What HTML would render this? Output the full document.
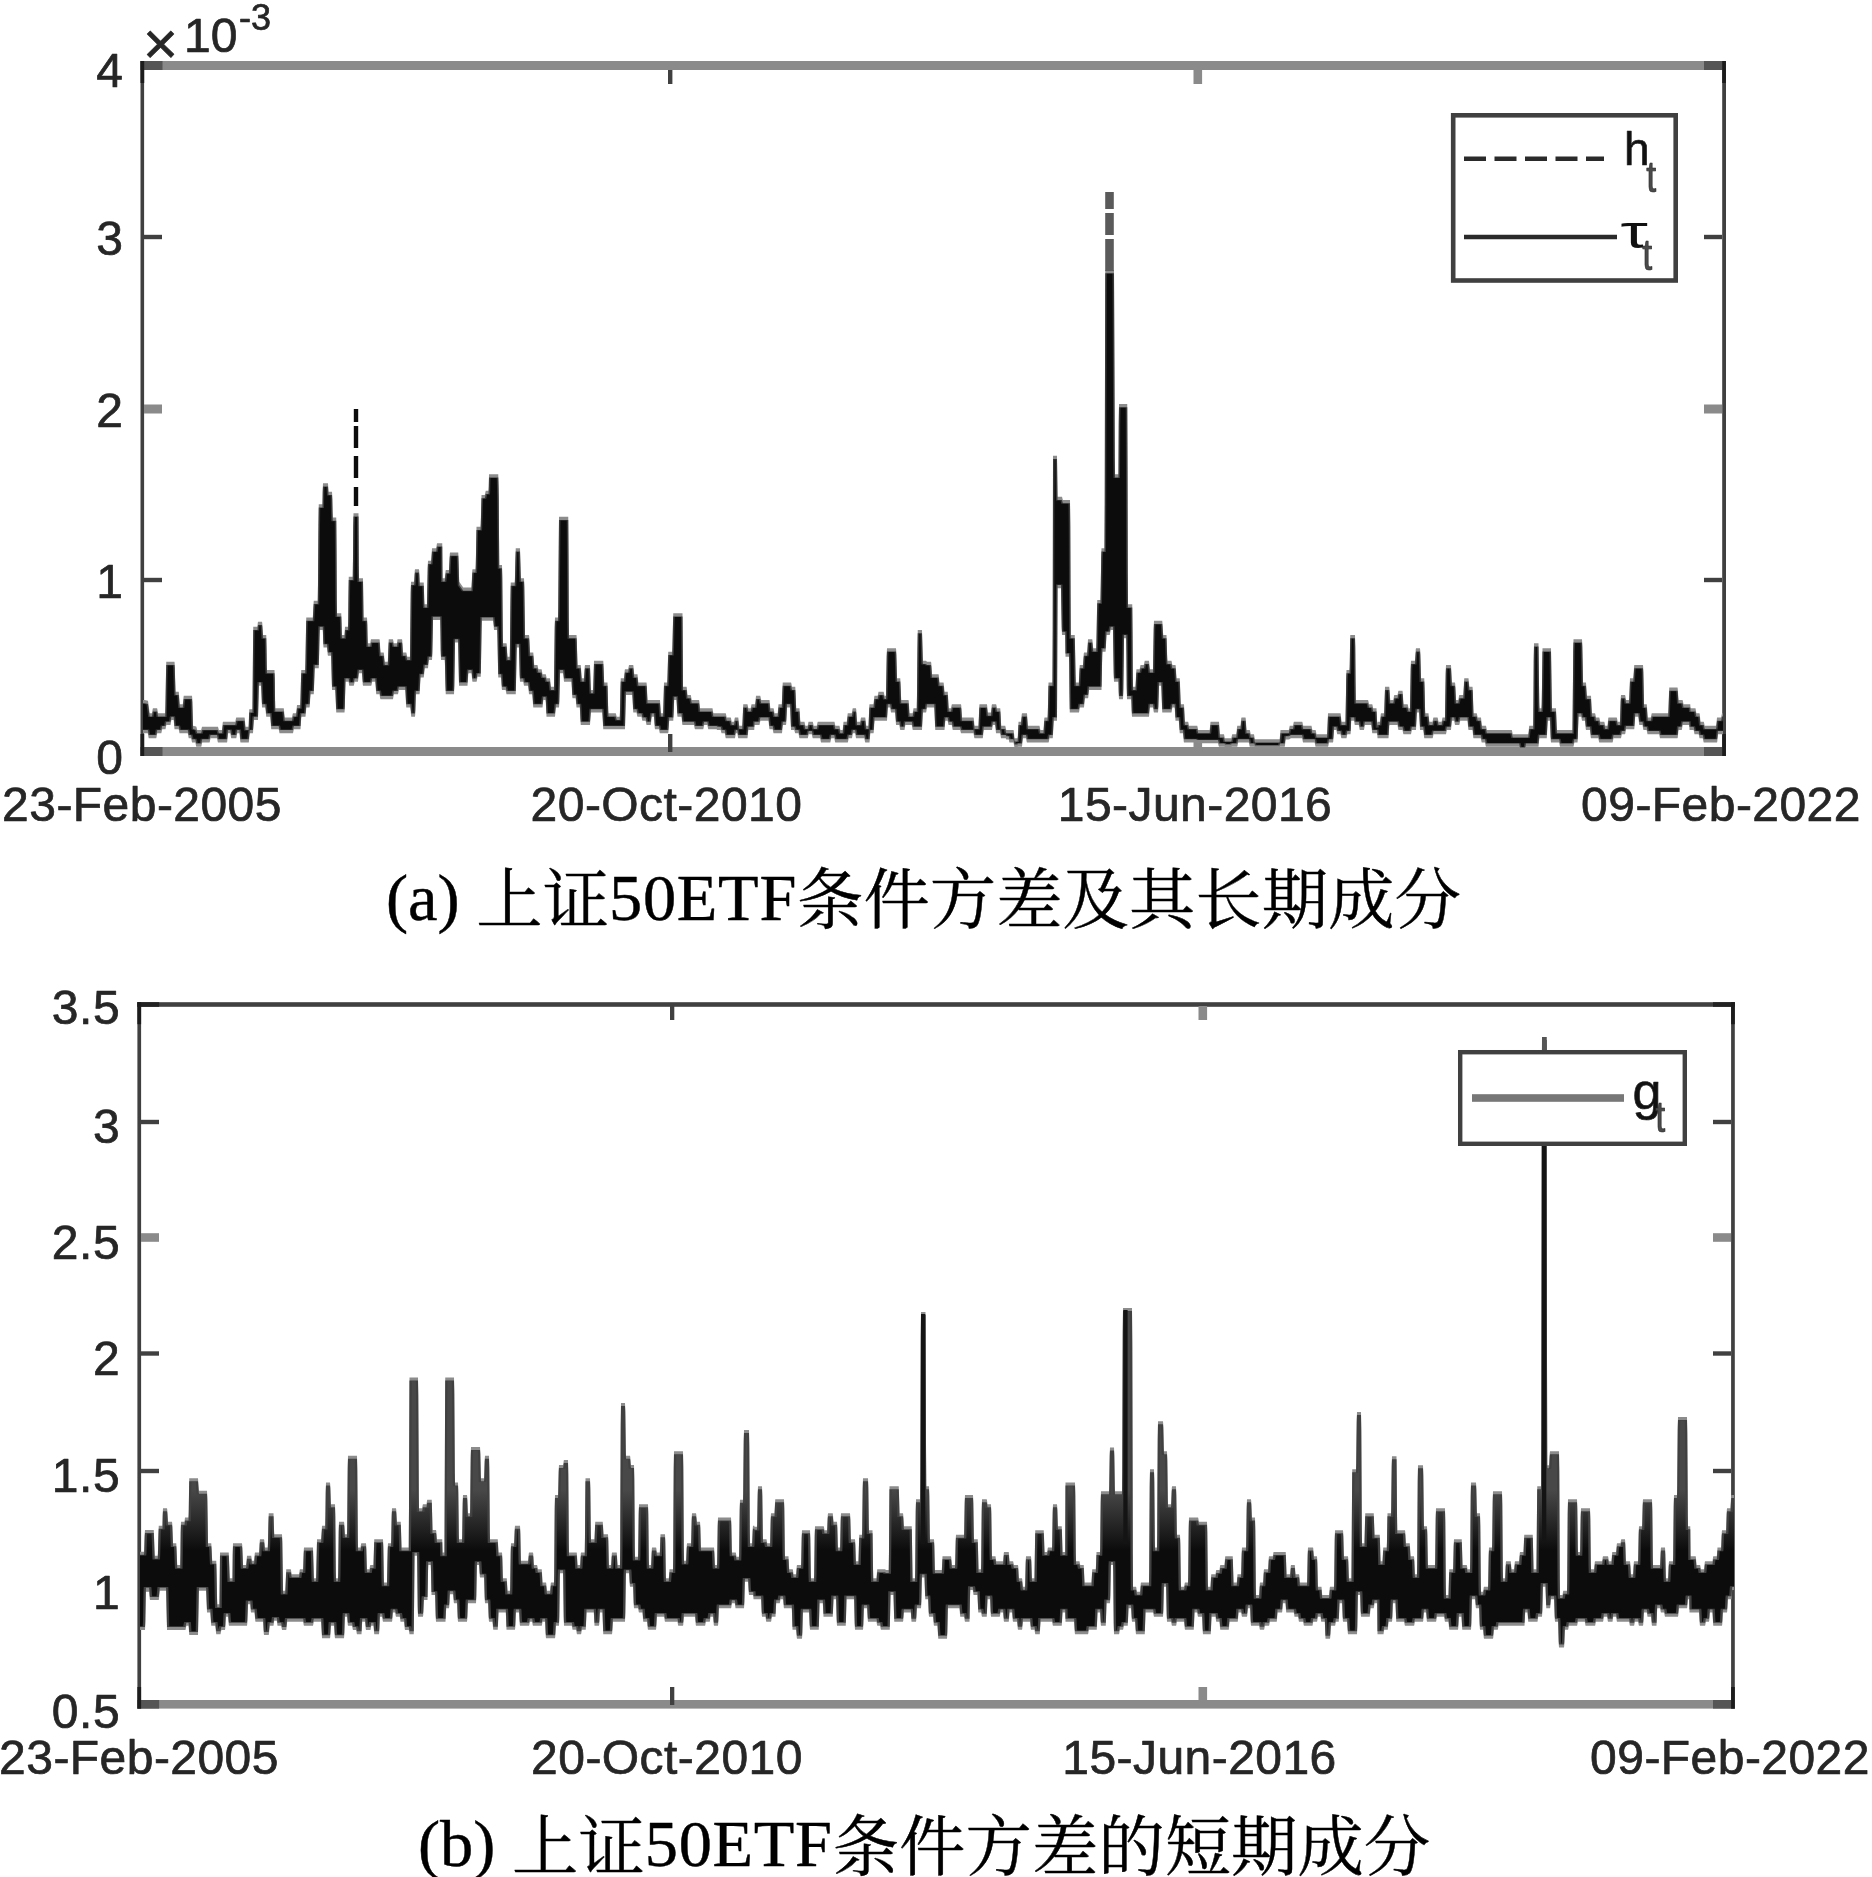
<!DOCTYPE html>
<html lang="zh"><head><meta charset="utf-8"><title>Figure</title>
<style>html,body{margin:0;padding:0;background:#fff}svg{display:block;will-change:transform}</style></head>
<body>
<svg width="1872" height="1877" viewBox="0 0 1872 1877">
<rect width="1872" height="1877" fill="#fff"/>
<g id="c1">
<rect x="140.5" y="61" width="1585.5" height="9" fill="#8a8a8a"/>
<rect x="140.5" y="747" width="1585.5" height="9" fill="#8a8a8a"/>
<rect x="140.5" y="61" width="3.6" height="695" fill="#404040"/>
<rect x="1722.2" y="61" width="3.8" height="695" fill="#404040"/>
<rect x="140.5" y="61" width="22" height="9" fill="#555"/>
<rect x="140.5" y="747" width="22" height="9" fill="#555"/>
<rect x="1704" y="61" width="22" height="9" fill="#555"/>
<rect x="1704" y="747" width="22" height="9" fill="#555"/>
<rect x="140.5" y="61" width="3.7" height="22" fill="#1c1c1c"/>
<rect x="140.5" y="734" width="3.7" height="22" fill="#1c1c1c"/>
<rect x="1722.2" y="61" width="3.7" height="22" fill="#1c1c1c"/>
<rect x="1722.2" y="734" width="3.7" height="22" fill="#1c1c1c"/>
<rect x="144" y="234.8" width="18" height="4.4" fill="#404040"/>
<rect x="1704" y="234.8" width="18" height="4.4" fill="#404040"/>
<rect x="144" y="404.5" width="18" height="9" fill="#8a8a8a"/>
<rect x="1704" y="404.5" width="18" height="9" fill="#8a8a8a"/>
<rect x="144" y="577.8" width="18" height="4.4" fill="#404040"/>
<rect x="1704" y="577.8" width="18" height="4.4" fill="#404040"/>
<rect x="668" y="734" width="4.4" height="18" fill="#404040"/>
<rect x="668" y="70" width="4.4" height="14" fill="#404040"/>
<rect x="1193.5" y="738" width="8.6" height="14" fill="#8a8a8a"/>
<rect x="1193.5" y="70" width="8.6" height="14" fill="#8a8a8a"/>
<polygon fill="#8c8c8c" points="143,700.0 144.50,700.0 144.75,700.0 148,700.8 149.50,712.1 149.75,713.3 152,713.3 152.75,708.8 153,708.3 157,708.3 157.25,708.8 158,713.3 165.25,713.3 165.50,703.0 166,672.0 166.25,661.7 174.50,661.7 174.75,664.7 175.50,691.7 178.75,691.7 179,694.2 179.50,701.7 179.75,704.2 182.75,704.2 183,702.5 183.50,697.5 183.75,695.8 192,695.8 192.25,698.8 193,725.8 196.25,726.6 196.50,727.3 197,729.3 197.25,730.0 201,730.0 201.25,729.7 202,726.7 218,726.7 218.75,729.7 219,730.0 222,730.0 222.75,722.5 223,721.7 235.25,721.7 235.50,720.8 236,718.3 236.25,717.5 244.50,717.5 244.75,718.4 245.50,726.7 248.50,726.7 248.75,723.8 249,715.0 249.25,709.2 252.50,709.2 253,647.3 253.25,626.7 257.50,626.7 257.75,622.9 258,621.7 262,621.7 262.25,623.0 263,635.0 266.25,635.0 266.50,646.7 266.75,664.2 267,670.0 274.50,670.0 274.75,676.4 275,695.6 275.25,708.3 283.75,708.3 284,710.2 284.50,715.7 284.75,717.5 292,717.5 292.75,713.8 293,713.3 296,713.3 296.25,712.5 297,705.0 300.25,705.0 300.50,698.0 301,677.0 301.25,670.0 305.25,670.0 305.50,659.5 306,628.0 306.25,617.5 312.75,617.5 313,614.2 313.50,604.2 313.75,600.8 317.75,600.8 318,581.5 318.50,523.5 318.75,504.2 322.50,504.2 322.75,488.5 323,483.3 328,483.3 328.50,491.7 332,491.7 332.25,496.0 332.50,508.9 332.75,517.5 336.25,517.5 336.50,549.4 336.75,597.4 337,613.3 341.25,613.3 341.50,620.6 341.75,631.4 342,635.0 344.50,635.0 345,626.7 348,626.7 348.25,618.3 348.50,593.3 348.75,576.7 352.75,576.7 353,555.6 353.25,523.9 353.50,513.3 358.50,513.3 358.75,562.1 359,578.3 363,578.3 363.50,617.5 367,617.5 367.25,621.8 367.50,634.7 367.75,643.3 370.25,643.3 370.50,641.9 370.75,639.9 371,639.2 379.50,639.2 379.75,640.5 380.50,652.5 383.75,652.5 384,654.3 384.50,659.8 384.75,661.7 387.75,661.7 388,657.2 388.50,643.7 388.75,639.2 393,639.2 393.75,642.9 394,643.3 397,643.3 397.50,639.2 402,639.2 402.25,640.5 403,652.5 406.25,652.5 406.50,653.3 407,655.8 407.25,656.7 410,656.7 410.75,589.2 411,581.7 414,581.7 414.25,580.1 414.75,570.7 415,569.2 419,569.2 419.25,571.4 419.50,578.1 419.75,582.5 423.75,582.5 424,589.7 424.25,600.6 424.50,604.2 427,604.2 427.75,565.2 428,560.8 431,560.8 431.25,559.6 432,548.3 436,548.3 436.25,547.8 437,543.3 442.25,543.3 442.50,578.3 444.75,578.3 445,576.7 445.50,571.7 445.75,570.0 449,570.0 449.75,554.2 450,552.5 458.25,552.5 458.50,558.3 459,575.8 459.25,581.8 463.25,587.4 463.50,587.5 471.50,587.5 472.25,571.0 472.50,569.2 475.50,569.2 475.75,564.9 476.50,526.7 480.50,526.7 480.75,523.5 481.50,495.0 484.75,495.0 485,494.2 485.50,491.7 485.75,490.8 488.50,490.8 488.75,486.7 489,474.2 498.25,474.2 498.50,482.8 498.75,495.7 499,532.5 499.25,565.0 502,565.0 502.25,574.8 502.75,633.5 503,643.3 506.50,643.3 506.75,644.7 507.50,656.7 509.75,656.7 510,641.8 510.50,597.3 510.75,582.5 514.75,582.5 515,575.7 515.50,555.2 515.75,548.3 520,548.3 520.75,575.3 521,578.3 524,578.3 524.25,584.0 525,635.0 529,635.0 529.25,636.8 530,652.5 533.25,652.5 533.50,655.0 534,662.5 534.25,665.0 537.50,665.0 538.25,668.7 538.50,669.2 541.50,669.2 541.75,669.7 542.50,674.2 545.75,674.2 546,675.0 546.50,677.5 546.75,678.3 550,678.3 550.75,685.8 551,686.7 554,686.7 554.75,624.4 555,617.5 558,617.5 558.25,607.4 559,516.7 568.25,516.7 568.50,556.1 568.75,615.3 569,635.0 576.50,635.0 576.75,638.0 577.50,665.0 580.75,665.0 581,667.7 581.50,675.7 581.75,678.3 584,678.3 584.75,666.3 585,665.0 590,665.0 590.75,687.5 591,690.0 593,690.0 593.25,687.1 594,660.8 603.25,660.8 603.50,665.2 604,678.2 604.25,682.5 607.50,682.5 608.25,710.2 608.50,713.3 615.75,713.3 616,714.0 616.50,716.0 616.75,716.7 619.75,716.7 620,709.0 620.50,686.0 620.75,678.3 624,678.3 624.75,670.1 625,669.2 628,669.2 628.25,668.7 629,665.0 633.25,665.0 633.50,666.8 634,672.3 634.25,674.2 637.50,674.2 638.25,681.7 638.50,682.5 646.50,682.5 646.75,684.3 647.50,700.0 660,700.0 660.75,712.0 661,713.3 663,713.3 663.25,710.2 664,682.5 667.25,682.5 667.50,676.3 668,657.8 668.25,651.7 672.25,651.7 672.50,644.0 673,621.0 673.25,613.3 682.50,613.3 683,686.7 686.50,686.7 686.75,687.5 687.50,695.0 690.75,695.0 691,696.0 691.50,699.0 691.75,700.0 699,700.0 699.25,700.8 700,708.3 712.50,708.3 713.25,712.8 713.50,713.3 725.75,713.3 726,714.2 726.50,716.7 726.75,717.5 730.75,717.5 731,718.3 731.50,720.8 731.75,721.7 734,721.7 734.75,717.9 735,717.5 738.25,717.5 738.50,719.2 739,724.2 739.25,725.8 742.25,725.8 742.50,721.5 743,708.5 743.25,704.2 747.50,704.2 748.25,707.9 748.50,708.3 750.50,708.3 750.75,707.9 751.50,704.2 755,704.2 755.25,703.3 756,695.8 760.25,695.8 760.50,696.7 761,699.2 761.25,700.0 769.50,700.0 770.25,707.5 770.50,708.3 773.50,708.3 773.75,708.8 774.50,713.3 777.50,713.3 777.75,712.4 778.50,704.2 781.75,704.2 782,699.8 782.50,686.8 782.75,682.5 791,682.5 791.25,682.9 792,686.7 795.25,686.7 795.50,691.0 796,704.0 796.25,708.3 799.50,708.3 800.25,720.3 800.50,721.7 804.50,721.7 805.25,725.4 805.50,725.8 807.50,725.8 807.75,725.4 808.50,721.7 812.75,721.7 813,722.5 813.50,725.0 813.75,725.8 816.75,725.8 817,725.0 817.50,722.5 817.75,721.7 834.50,721.7 835.25,725.4 835.50,725.8 839.50,725.8 840.25,729.6 840.50,730.0 842.50,730.0 842.75,729.2 843.50,721.7 846.75,721.7 847,720.0 847.50,715.0 847.75,713.3 851.75,713.3 852,712.3 852.50,709.3 852.75,708.3 856,708.3 856.25,709.7 857,721.7 860,721.7 860.25,721.2 861,717.5 865.25,717.5 865.50,719.2 866,724.2 866.25,725.8 868.50,725.8 869.25,706.3 869.50,704.2 873.50,704.2 874.25,696.7 874.50,695.8 877.50,695.8 877.75,695.4 878.50,691.7 883.50,691.7 883.75,692.1 884.50,695.8 886,695.8 886.75,653.1 887,648.3 896,648.3 896.25,651.3 897,678.3 900.25,678.3 900.50,682.7 901,695.7 901.25,700.0 908.50,700.0 908.75,701.3 909.50,713.3 912.50,713.3 912.75,712.8 913.50,708.3 916.75,708.3 917,692.7 917.50,645.7 917.75,630.0 922,630.0 922.75,657.7 923,660.8 926,660.8 926.25,660.9 927,661.7 931,661.7 931.25,662.9 932,674.2 938.50,674.2 938.75,675.0 939.50,682.5 943.50,682.5 943.75,683.4 944.50,691.7 947.75,691.7 948,695.0 948.50,705.0 948.75,708.3 951,708.3 951.75,704.6 952,704.2 961,704.2 961.25,705.5 962,717.5 973.50,717.5 973.75,718.3 974.50,725.8 978.50,725.8 979.25,706.3 979.50,704.2 987,704.2 987.75,711.7 988,712.5 991,712.5 991.75,705.0 992,704.2 996,704.2 996.25,704.6 997,708.3 1000.25,708.3 1000.50,711.8 1001,722.3 1001.25,725.8 1005.25,725.8 1005.50,726.7 1006,729.2 1006.25,730.0 1013.50,730.0 1013.75,730.8 1014.50,738.3 1017.50,738.3 1017.75,736.7 1018.50,721.7 1021,721.7 1021.75,714.2 1022,713.3 1027,713.3 1027.75,724.6 1028,725.8 1039.50,725.8 1040.25,729.6 1040.50,730.0 1043.50,730.0 1044.25,718.7 1044.50,717.5 1047.50,717.5 1047.75,714.0 1048.50,682.5 1052.50,682.5 1052.75,625.8 1053,455.8 1057,455.8 1057.50,496.7 1062,496.7 1062.75,499.7 1063,500.0 1070,500.0 1070.25,522.5 1070.50,590.0 1070.75,635.0 1074.75,635.0 1075,644.5 1075.50,673.0 1075.75,682.5 1078.75,682.5 1079,679.0 1079.50,668.5 1079.75,665.0 1083,665.0 1083.75,653.7 1084,652.5 1087,652.5 1087.25,651.2 1088,639.2 1092.25,639.2 1092.50,641.0 1093,646.5 1093.25,648.3 1096.25,648.3 1096.50,638.7 1097,609.7 1097.25,600.0 1100.50,600.0 1101.25,553.5 1101.50,548.3 1104.50,548.3 1104.75,501.9 1105,362.8 1105.25,270.0 1114,270.0 1114.75,453.8 1115,474.2 1118.50,474.2 1118.75,421.5 1119,404.0 1127.25,404.0 1127.50,470.7 1127.75,570.8 1128,604.2 1132.25,604.2 1132.50,631.7 1132.75,672.9 1133,686.7 1135.50,686.7 1136.25,670.9 1136.50,669.2 1139.50,669.2 1139.75,668.8 1140.50,665.0 1143.75,665.0 1144,664.2 1144.50,661.7 1144.75,660.8 1149,660.8 1149.75,668.3 1150,669.2 1153,669.2 1153.75,625.7 1154,620.8 1162.25,620.8 1162.50,623.7 1163,632.2 1163.25,635.0 1166.50,635.0 1167.25,658.3 1167.50,660.8 1171.50,660.8 1172.25,664.6 1172.50,665.0 1175.50,665.0 1175.75,666.3 1176.50,678.3 1179.75,678.3 1180,683.5 1180.50,699.0 1180.75,704.2 1184,704.2 1184.75,719.9 1185,721.7 1188,721.7 1188.25,722.1 1189,725.8 1197.25,725.8 1197.50,726.7 1198,729.2 1198.25,730.0 1209.50,730.0 1209.75,729.2 1210.50,721.7 1219,721.7 1219.75,732.9 1220,734.2 1224,734.2 1224.75,737.9 1225,738.3 1231.25,738.3 1231.50,737.5 1232,735.0 1232.25,734.2 1236.25,734.2 1236.50,732.5 1237,727.5 1237.25,725.8 1240.50,725.8 1241.25,718.3 1241.50,717.5 1245.50,717.5 1245.75,718.7 1246.50,730.0 1249.75,730.0 1250,730.8 1250.50,733.3 1250.75,734.2 1254,734.2 1254.75,738.7 1255,739.2 1279.50,739.2 1279.75,738.3 1280.50,730.0 1288.75,730.0 1289,729.2 1289.50,726.7 1289.75,725.8 1293,725.8 1293.75,722.1 1294,721.7 1302.25,721.7 1302.50,722.5 1303,725.0 1303.25,725.8 1311.50,725.8 1312.25,729.6 1312.50,730.0 1315.50,730.0 1315.75,730.4 1316.50,734.2 1327,734.2 1327.25,732.1 1328,713.3 1340.50,713.3 1340.75,714.2 1341.50,721.7 1345.50,721.7 1346.25,675.2 1346.50,670.0 1349.50,670.0 1349.75,664.2 1350,646.7 1350.25,635.0 1355,635.0 1355.25,645.8 1355.50,678.3 1355.75,700.0 1368,700.0 1368.25,700.4 1369,704.2 1372.25,704.2 1372.50,705.0 1373,707.5 1373.25,708.3 1376.50,708.3 1377.25,724.1 1377.50,721.7 1380,721.7 1380.75,714.2 1381,713.3 1384,713.3 1384.25,710.7 1385,686.7 1389.25,686.7 1389.50,689.3 1390,697.3 1390.25,700.0 1393.25,700.0 1393.50,699.0 1394,696.0 1394.25,695.0 1397.50,695.0 1398.25,691.2 1398.50,690.8 1402.50,690.8 1402.75,692.2 1403.50,704.2 1407.50,704.2 1407.75,704.6 1408.50,708.3 1410,708.3 1410.75,665.6 1411,660.8 1415,660.8 1415.75,649.6 1416,648.3 1420,648.3 1420.25,651.3 1421,678.3 1424.25,678.3 1424.50,685.3 1425,706.3 1425.25,713.3 1428.50,713.3 1429.25,720.8 1429.50,721.7 1432.50,721.7 1433.25,717.9 1433.50,717.5 1437.50,717.5 1437.75,717.9 1438.50,721.7 1441.50,721.7 1441.75,721.3 1442.50,717.5 1445,717.5 1445.75,670.2 1446,665.0 1451,665.0 1451.75,680.8 1452,682.5 1455,682.5 1455.25,684.2 1456,700.0 1458.25,700.0 1458.50,699.0 1459,696.0 1459.25,695.0 1463.25,695.0 1463.50,691.7 1464,681.7 1464.25,678.3 1468.50,678.3 1469.25,685.8 1469.50,686.7 1472.50,686.7 1472.75,689.3 1473.50,713.3 1476.75,713.3 1477,714.2 1477.50,716.7 1477.75,717.5 1481,717.5 1481.75,725.0 1482,725.8 1486,725.8 1486.75,729.6 1487,730.0 1511.75,730.0 1512,730.8 1512.50,733.3 1512.75,734.2 1528.25,734.2 1528.50,732.5 1529,727.5 1529.25,725.8 1533.25,725.8 1533.50,698.3 1533.75,657.1 1534,643.3 1538.50,643.3 1539.25,701.8 1539.50,708.3 1541.50,708.3 1541.75,702.3 1542.50,648.3 1551,648.3 1551.75,702.3 1552,708.3 1556,708.3 1556.75,727.8 1557,730.0 1572.50,730.0 1573.25,648.2 1573.50,639.2 1582,639.2 1582.25,643.5 1583,682.5 1586,682.5 1586.75,694.5 1587,695.8 1591,695.8 1591.75,711.6 1592,713.3 1595,713.3 1595.25,713.7 1596,717.5 1599.25,717.5 1599.50,718.3 1600,720.8 1600.25,721.7 1604.25,721.7 1604.50,722.5 1605,725.0 1605.25,725.8 1607.50,725.8 1608.25,718.3 1608.50,717.5 1616.75,717.5 1617,718.3 1617.50,720.8 1617.75,721.7 1620,721.7 1620.75,697.7 1621,695.0 1625,695.0 1625.25,695.5 1626,700.0 1629,700.0 1629.25,697.8 1630,678.3 1633.25,678.3 1633.50,675.7 1634,667.7 1634.25,665.0 1643,665.0 1643.25,668.9 1644,704.2 1646.75,704.2 1647,706.8 1647.50,714.8 1647.75,717.5 1650.75,717.5 1651,716.7 1651.50,714.2 1651.75,713.3 1668.25,713.3 1668.50,708.2 1669,692.7 1669.25,687.5 1677.50,687.5 1677.75,688.7 1678.50,700.0 1682.50,700.0 1682.75,700.4 1683.50,704.2 1690.25,704.2 1690.50,708.3 1695.50,708.3 1696.25,712.8 1696.50,713.3 1699.50,713.3 1699.75,714.2 1700.50,721.7 1703.75,721.7 1704,722.5 1704.50,725.0 1704.75,725.8 1716,725.8 1716.25,725.0 1717,717.5 1721,717.5 1721.25,717.1 1722,713.3 1723,713.3 1723,734.2 1718,734.2 1717.25,741.7 1717,742.5 1703.75,742.5 1703.50,741.7 1703,739.2 1702.75,738.3 1699.50,738.3 1698.75,734.6 1698.50,734.2 1694.50,734.2 1693.75,730.4 1693.50,730.0 1689.50,730.0 1689.25,725.0 1682.75,725.0 1682.50,726.0 1682,729.0 1681.75,730.0 1678.50,730.0 1677.75,737.5 1677.50,738.3 1660,738.3 1659.25,734.6 1659,734.2 1647.50,734.2 1646.75,730.4 1646.50,730.0 1643.50,730.0 1643.25,729.5 1642.50,725.0 1639.25,725.0 1639,723.3 1638.50,718.3 1638.25,716.7 1635.25,716.7 1635,719.2 1634.50,726.7 1634.25,729.2 1626,729.2 1625.25,733.7 1625,734.2 1622,734.2 1621.75,734.6 1621,738.3 1613.50,738.3 1612.75,742.1 1612.50,742.5 1599.25,742.5 1599,741.7 1598.50,739.2 1598.25,738.3 1591,738.3 1590.75,737.5 1590,730.0 1586,730.0 1585.75,729.1 1585,720.8 1582,720.8 1581.25,717.1 1581,716.7 1578.50,716.7 1577.75,739.9 1577.50,742.5 1574.50,742.5 1574.25,742.9 1573.50,746.7 1560,746.7 1559.25,742.9 1559,742.5 1551,742.5 1550.75,740.3 1550,720.8 1547.75,720.8 1547.50,724.3 1547,734.8 1546.75,738.3 1539.50,738.3 1539.25,739.2 1538.50,746.7 1526,746.7 1525.25,750.4 1525,750.8 1520,750.8 1519.25,747.1 1519,746.7 1486,746.7 1485.75,746.3 1485,742.5 1481.75,742.5 1481.50,741.7 1481,739.2 1480.75,738.3 1473.50,738.3 1473.25,737.5 1472.50,730.0 1468.50,730.0 1468.25,729.1 1467.50,720.8 1460.25,720.8 1460,721.7 1459.50,724.2 1459.25,725.0 1455,725.0 1454.25,721.2 1454,720.8 1452,720.8 1451.75,721.7 1451,730.0 1447,730.0 1446.75,730.4 1446,734.2 1433.50,734.2 1432.75,737.9 1432.50,738.3 1424.25,738.3 1424,736.7 1423.50,731.7 1423.25,730.0 1420,730.0 1419.25,714.2 1419,712.5 1417,712.5 1416.75,714.2 1416,730.0 1412,730.0 1411.75,730.4 1411,734.2 1403.50,734.2 1403.25,733.8 1402.50,730.0 1398.50,730.0 1398.25,729.5 1397.50,725.0 1389.50,725.0 1389.25,726.3 1388.50,738.3 1377.50,738.3 1377.25,733.6 1377,733.3 1372.25,733.3 1372,731.7 1371.50,726.7 1371.25,725.0 1365,725.0 1364.75,725.5 1364,730.0 1359.75,730.0 1359.50,729.0 1359,726.0 1358.75,725.0 1354.75,725.0 1354.50,723.6 1354.25,721.5 1354,720.8 1351.25,720.8 1351,725.3 1350.75,731.9 1350.50,734.2 1347.50,734.2 1347.25,734.6 1346.50,738.3 1341.50,738.3 1341.25,737.9 1340.50,734.2 1337.25,734.2 1337,733.3 1336.50,730.8 1336.25,730.0 1334,730.0 1333.25,741.3 1333,742.5 1329,742.5 1328.25,746.3 1328,746.7 1315.50,746.7 1314.75,742.9 1314.50,742.5 1303,742.5 1302.25,738.7 1302,738.3 1290.75,738.3 1290.50,738.5 1290,739.0 1289.75,739.2 1289,739.2 1288.75,739.5 1285.75,739.5 1285.50,740.7 1285,745.2 1284.75,746.7 1280,746.7 1279.75,747.8 1279.50,748.7 1255,748.7 1254.75,748.2 1254.50,746.7 1249.75,746.7 1249.50,745.8 1249,743.3 1248.75,742.5 1238.25,742.5 1238,743.3 1237.50,745.8 1237.25,746.7 1231.75,746.7 1231.50,747.0 1231.25,747.8 1225,747.8 1224.75,747.4 1224.50,746.7 1219,746.7 1218.75,746.3 1218,743.3 1197.25,743.3 1197,743.2 1196.50,742.7 1196.25,742.5 1184,742.5 1183.75,741.6 1183,733.3 1179.75,733.3 1179.50,730.8 1179,723.3 1178.75,720.8 1175.50,720.8 1174.75,708.8 1174.50,707.5 1172.50,707.5 1172.25,708.0 1171.50,712.5 1162.25,712.5 1162,707.2 1161.50,691.2 1161.25,685.8 1159,685.8 1158.25,709.8 1158,712.5 1154,712.5 1153.75,712.0 1153,707.5 1150,707.5 1149.75,708.4 1149,716.7 1132,716.7 1131.75,713.8 1131.50,705.0 1131.25,699.2 1127,699.2 1126.75,689.0 1126.50,658.6 1126.25,638.3 1124,638.3 1123.25,693.1 1123,699.2 1119,699.2 1118.75,694.8 1118.50,681.7 1114,681.7 1113.75,676.5 1113,630.0 1110.75,630.0 1110.50,631.0 1110,634.0 1109.75,635.0 1106.50,635.0 1105.75,650.0 1105.50,651.7 1102.50,651.7 1102.25,655.5 1101.50,690.0 1089,690.0 1088.25,697.5 1088,698.3 1085,698.3 1084.75,699.2 1084,707.5 1080,707.5 1079.75,708.0 1079,712.5 1069.75,712.5 1069.50,693.9 1069.25,666.0 1069,656.7 1065.50,656.7 1065.25,635.0 1062,635.0 1061.75,630.3 1061,588.3 1057.50,588.3 1057,720.8 1053.75,720.8 1053.50,724.3 1053,734.8 1052.75,738.3 1049.50,738.3 1048.75,742.1 1048.50,742.5 1027,742.5 1026.75,742.1 1026,738.3 1023,738.3 1022.75,739.2 1022,746.7 1017.75,746.7 1017.50,747.8 1014.50,747.8 1014.25,746.3 1013.50,742.5 1009.50,742.5 1009.25,742.1 1008.75,739.6 1008.50,739.5 1006.25,739.5 1006,738.7 1005.75,738.3 1001,738.3 1000.25,733.8 1000,733.3 996,733.3 995.25,725.8 995,725.0 993,725.0 992.75,725.5 992,730.0 983.75,730.0 983.50,731.7 983,736.7 982.75,738.3 974.50,738.3 974.25,737.8 973.50,733.3 961,733.3 960.25,730.3 960,730.0 952.75,730.0 952.50,729.0 952,726.0 951.75,725.0 948.50,725.0 947.75,721.3 947.50,720.8 945.50,720.8 945.25,721.8 944.50,730.0 935.25,730.0 935,725.5 934.50,712.0 934.25,707.5 927,707.5 926.25,712.0 926,712.5 923,712.5 922.75,714.3 922,730.0 912.75,730.0 912.50,729.0 912,726.0 911.75,725.0 905.50,725.0 905.25,725.5 904.50,730.0 900.25,730.0 900,729.0 899.50,726.0 899.25,725.0 896,725.0 895.25,713.8 895,712.5 891,712.5 890.25,708.0 890,707.5 888,707.5 887.75,708.8 887,720.8 874.50,720.8 873.75,732.1 873.50,733.3 870.50,733.3 870.25,734.3 869.50,742.5 865.25,742.5 865,741.7 864.50,739.2 864.25,738.3 856,738.3 855.25,733.8 855,733.3 853,733.3 852.75,733.8 852,738.3 848.75,738.3 848.50,739.2 848,741.7 847.75,742.5 835.25,742.5 835,741.7 834.50,739.2 834.25,738.3 831.25,738.3 831,739.2 830.50,741.7 830.25,742.5 821,742.5 820.25,738.8 820,738.3 812.75,738.3 812.50,737.5 812,735.0 811.75,734.2 808.75,734.2 808.50,735.0 808,737.5 807.75,738.3 799.50,738.3 799.25,737.8 798.50,733.3 795.25,733.3 795,732.7 794.50,730.7 794.25,730.0 791,730.0 790.25,709.8 790,707.5 787,707.5 786.25,723.2 786,725.0 783,725.0 782.75,725.8 782,733.3 773.50,733.3 772.75,729.6 772.50,729.2 769.50,729.2 769.25,728.3 768.50,720.8 760.50,720.8 760.25,721.3 759.50,725.0 754.50,725.0 754.25,730.0 748.50,730.0 748.25,730.8 747.50,738.3 738.25,738.3 738,737.3 737.50,734.3 737.25,733.3 736,733.3 735.75,733.8 735,738.3 725.75,738.3 725.50,737.3 725,734.3 724.75,733.3 721.50,733.3 720.75,730.3 720.50,730.0 717.50,730.0 717.25,729.9 716.50,729.2 708.25,729.2 708,728.3 707.50,725.8 707.25,725.0 704.25,725.0 704,725.8 703.50,728.3 703.25,729.2 695,729.2 694.75,728.7 694,725.0 682.50,725.0 682.25,724.2 681.50,716.7 677.50,716.7 677.25,715.0 676.50,700.0 674.25,700.0 674,704.2 673.50,716.7 673.25,720.8 669.25,720.8 669,723.3 668.50,730.8 668.25,733.3 660,733.3 659.75,732.9 659,729.2 655,729.2 654.75,727.9 654,716.7 651.75,716.7 651.50,718.3 651,723.3 650.75,725.0 646.50,725.0 645.75,721.3 645.50,720.8 642.50,720.8 642.25,720.4 641.50,716.7 637.50,716.7 637.25,716.2 636.50,712.5 633.25,712.5 633,709.0 632.50,698.5 632.25,695.0 626,695.0 625.75,698.4 625,729.2 603.25,729.2 603,725.8 602.50,715.8 602.25,712.5 591,712.5 590.75,713.8 590,725.0 580.75,725.0 580.50,721.5 580,711.0 579.75,707.5 576.50,707.5 575.75,699.3 575.50,698.3 572.50,698.3 572.25,696.7 571.50,681.7 564,681.7 563.25,674.2 563,673.3 560,673.3 559.25,704.1 559,707.5 556,707.5 555.75,708.4 555,716.7 546.50,716.7 545.75,701.7 545.50,700.0 543.50,700.0 543.25,700.8 542.50,707.5 533.25,707.5 533,704.8 532.50,696.8 532.25,694.2 529,694.2 528.25,686.7 528,685.8 524,685.8 523.25,682.1 523,681.7 520,681.7 519.75,678.2 519,647.5 516.75,647.5 516.50,656.8 516,684.8 515.75,694.2 506.50,694.2 505.75,690.4 505.50,690.0 502,690.0 501.75,688.4 501.25,679.1 501,677.5 498.25,677.5 498,668.0 497.50,639.5 497.25,630.0 494,630.0 493.25,621.7 493,620.8 481.75,620.8 481.50,632.0 481,665.5 480.75,676.7 477.50,676.7 476.75,681.2 476.50,681.7 472.50,681.7 472.25,680.8 471.50,673.3 468.50,673.3 468.25,674.6 467.50,685.8 459,685.8 458.25,646.8 458,642.5 455,642.5 454.25,689.0 454,694.2 445.75,694.2 445.50,687.3 445,666.8 444.75,660.0 441,660.0 440.75,653.3 440.50,633.3 440.25,620.0 433,620.0 432.25,656.0 432,660.0 429,660.0 428.75,660.8 428,668.3 424.75,668.3 424.50,670.2 424,675.7 423.75,677.5 420.50,677.5 419.75,692.5 419.50,694.2 416,694.2 415.75,697.0 415.25,713.9 415,716.7 411.25,716.7 411,714.8 410.50,709.3 410.25,707.5 406.25,707.5 406,704.0 405.50,693.5 405.25,690.0 399,690.0 398.75,690.4 398,694.2 394,694.2 393.75,694.7 393,699.2 380.50,699.2 380.25,698.7 379.50,694.2 376.25,694.2 376,691.7 375.50,684.2 375.25,681.7 372.25,681.7 372,682.5 371.50,685.0 371.25,685.8 363,685.8 362.75,684.6 362,673.3 359,673.3 358.75,674.2 358,681.7 354.75,681.7 354.50,682.5 354,685.0 353.75,685.8 349.25,685.8 349,684.4 348.75,682.4 348.50,681.7 345.50,681.7 344.75,709.4 344.50,712.5 336.25,712.5 336,708.0 335.50,694.5 335.25,690.0 332,690.0 331.25,659.3 331,655.8 328,655.8 327.75,655.0 327,647.5 323.50,647.5 323.25,644.6 323,635.8 322.75,630.0 319.75,630.0 319.50,637.7 319,660.7 318.75,668.3 314.75,668.3 314.50,673.5 314,689.0 313.75,694.2 310.50,694.2 309.75,706.2 309.50,707.5 306.50,707.5 306.25,708.4 305.50,716.7 301.50,716.7 301.25,717.9 300.50,729.2 294,729.2 293.75,729.6 293,733.3 279.50,733.3 278.75,729.6 278.50,729.2 271.25,729.2 271,726.7 270.50,719.2 270.25,716.7 266.25,716.7 266,714.8 265.50,709.3 265.25,707.5 262,707.5 261.25,688.0 261,685.8 259,685.8 258.75,689.3 258,720.0 254,720.0 253.75,721.3 253,733.3 249.75,733.3 249.50,735.2 249,740.7 248.75,742.5 240.50,742.5 240.25,741.6 239.50,733.3 237.25,733.3 237,734.3 236.50,737.3 236.25,738.3 231.25,738.3 231,737.3 230.50,734.3 230.25,733.3 228,733.3 227.25,741.6 227,742.5 218,742.5 217.75,742.1 217,738.3 210.50,738.3 209.75,742.1 209.50,742.5 202.25,742.5 202,743.3 201.50,745.8 201.25,746.7 196.25,746.7 196,745.8 195.50,743.3 195.25,742.5 192,742.5 191.25,738.8 191,738.3 188.75,738.3 188.50,737.3 188,734.3 187.75,733.3 179.50,733.3 178.75,729.6 178.50,729.2 174.50,729.2 173.75,720.9 173.50,720.0 171.50,720.0 171.25,720.5 170.50,725.0 166.50,725.0 166.25,725.4 165.50,729.2 162.25,729.2 162,730.0 161.50,732.5 161.25,733.3 157.25,733.3 157,734.3 156.50,737.3 156.25,738.3 148.75,738.3 148.50,737.3 148,734.3 147.75,733.3 143,733.3"/>
<polygon fill="#383838" points="143,703.3 144.50,703.3 144.75,703.3 148,704.1 149.50,715.4 149.75,716.6 152,716.6 152.75,712.1 153,711.6 157,711.6 157.25,712.1 158,716.6 165.25,716.6 165.50,706.3 166,675.3 166.25,665.0 174.50,665.0 174.75,668.0 175.50,695.0 178.75,695.0 179,697.5 179.50,705.0 179.75,707.5 182.75,707.5 183,705.8 183.50,700.8 183.75,699.1 192,699.1 192.25,702.1 193,729.1 196.25,729.9 196.50,730.6 197,732.6 197.25,733.3 201,733.3 201.25,733.0 202,730.0 218,730.0 218.75,733.0 219,733.3 222,733.3 222.75,725.8 223,725.0 235.25,725.0 235.50,724.1 236,721.6 236.25,720.8 244.50,720.8 244.75,721.7 245.50,730.0 248.50,730.0 248.75,727.1 249,718.3 249.25,712.5 252.50,712.5 253,650.6 253.25,630.0 257.50,630.0 257.75,626.2 258,625.0 262,625.0 262.25,626.3 263,638.3 266.25,638.3 266.50,650.0 266.75,667.5 267,673.3 274.50,673.3 274.75,679.7 275,698.9 275.25,711.6 283.75,711.6 284,713.5 284.50,719.0 284.75,720.8 292,720.8 292.75,717.1 293,716.6 296,716.6 296.25,715.8 297,708.3 300.25,708.3 300.50,701.3 301,680.3 301.25,673.3 305.25,673.3 305.50,662.8 306,631.3 306.25,620.8 312.75,620.8 313,617.5 313.50,607.5 313.75,604.1 317.75,604.1 318,584.8 318.50,526.8 318.75,507.5 322.50,507.5 322.75,491.8 323,486.6 328,486.6 328.50,495.0 332,495.0 332.25,499.3 332.50,512.2 332.75,520.8 336.25,520.8 336.50,552.7 336.75,600.7 337,616.6 341.25,616.6 341.50,623.9 341.75,634.7 342,638.3 344.50,638.3 345,630.0 348,630.0 348.25,621.6 348.50,596.6 348.75,580.0 352.75,580.0 353,558.9 353.25,527.2 353.50,516.6 358.50,516.6 358.75,565.4 359,581.6 363,581.6 363.50,620.8 367,620.8 367.25,625.1 367.50,638.0 367.75,646.6 370.25,646.6 370.50,645.2 370.75,643.2 371,642.5 379.50,642.5 379.75,643.8 380.50,655.8 383.75,655.8 384,657.6 384.50,663.1 384.75,665.0 387.75,665.0 388,660.5 388.50,647.0 388.75,642.5 393,642.5 393.75,646.2 394,646.6 397,646.6 397.50,642.5 402,642.5 402.25,643.8 403,655.8 406.25,655.8 406.50,656.6 407,659.1 407.25,660.0 410,660.0 410.75,592.5 411,585.0 414,585.0 414.25,583.4 414.75,574.0 415,572.5 419,572.5 419.25,574.7 419.50,581.4 419.75,585.8 423.75,585.8 424,593.0 424.25,603.9 424.50,607.5 427,607.5 427.75,568.5 428,564.1 431,564.1 431.25,562.9 432,551.6 436,551.6 436.25,551.1 437,546.6 442.25,546.6 442.50,581.6 444.75,581.6 445,580.0 445.50,575.0 445.75,573.3 449,573.3 449.75,557.5 450,555.8 458.25,555.8 458.50,561.6 459,579.1 459.25,585.1 463.25,590.7 463.50,590.8 471.50,590.8 472.25,574.3 472.50,572.5 475.50,572.5 475.75,568.2 476.50,530.0 480.50,530.0 480.75,526.8 481.50,498.3 484.75,498.3 485,497.5 485.50,495.0 485.75,494.1 488.50,494.1 488.75,490.0 489,477.5 498.25,477.5 498.50,486.1 498.75,499.0 499,535.8 499.25,568.3 502,568.3 502.25,578.1 502.75,636.8 503,646.6 506.50,646.6 506.75,648.0 507.50,660.0 509.75,660.0 510,645.1 510.50,600.6 510.75,585.8 514.75,585.8 515,579.0 515.50,558.5 515.75,551.6 520,551.6 520.75,578.6 521,581.6 524,581.6 524.25,587.3 525,638.3 529,638.3 529.25,640.1 530,655.8 533.25,655.8 533.50,658.3 534,665.8 534.25,668.3 537.50,668.3 538.25,672.0 538.50,672.5 541.50,672.5 541.75,673.0 542.50,677.5 545.75,677.5 546,678.3 546.50,680.8 546.75,681.6 550,681.6 550.75,689.1 551,690.0 554,690.0 554.75,627.7 555,620.8 558,620.8 558.25,610.7 559,520.0 568.25,520.0 568.50,559.4 568.75,618.6 569,638.3 576.50,638.3 576.75,641.3 577.50,668.3 580.75,668.3 581,671.0 581.50,679.0 581.75,681.6 584,681.6 584.75,669.6 585,668.3 590,668.3 590.75,690.8 591,693.3 593,693.3 593.25,690.4 594,664.1 603.25,664.1 603.50,668.5 604,681.5 604.25,685.8 607.50,685.8 608.25,713.5 608.50,716.6 615.75,716.6 616,717.3 616.50,719.3 616.75,720.0 619.75,720.0 620,712.3 620.50,689.3 620.75,681.6 624,681.6 624.75,673.4 625,672.5 628,672.5 628.25,672.0 629,668.3 633.25,668.3 633.50,670.1 634,675.6 634.25,677.5 637.50,677.5 638.25,685.0 638.50,685.8 646.50,685.8 646.75,687.6 647.50,703.3 660,703.3 660.75,715.3 661,716.6 663,716.6 663.25,713.5 664,685.8 667.25,685.8 667.50,679.6 668,661.1 668.25,655.0 672.25,655.0 672.50,647.3 673,624.3 673.25,616.6 682.50,616.6 683,690.0 686.50,690.0 686.75,690.8 687.50,698.3 690.75,698.3 691,699.3 691.50,702.3 691.75,703.3 699,703.3 699.25,704.1 700,711.6 712.50,711.6 713.25,716.1 713.50,716.6 725.75,716.6 726,717.5 726.50,720.0 726.75,720.8 730.75,720.8 731,721.6 731.50,724.1 731.75,725.0 734,725.0 734.75,721.2 735,720.8 738.25,720.8 738.50,722.5 739,727.5 739.25,729.1 742.25,729.1 742.50,724.8 743,711.8 743.25,707.5 747.50,707.5 748.25,711.2 748.50,711.6 750.50,711.6 750.75,711.2 751.50,707.5 755,707.5 755.25,706.6 756,699.1 760.25,699.1 760.50,700.0 761,702.5 761.25,703.3 769.50,703.3 770.25,710.8 770.50,711.6 773.50,711.6 773.75,712.1 774.50,716.6 777.50,716.6 777.75,715.7 778.50,707.5 781.75,707.5 782,703.1 782.50,690.1 782.75,685.8 791,685.8 791.25,686.2 792,690.0 795.25,690.0 795.50,694.3 796,707.3 796.25,711.6 799.50,711.6 800.25,723.6 800.50,725.0 804.50,725.0 805.25,728.7 805.50,729.1 807.50,729.1 807.75,728.7 808.50,725.0 812.75,725.0 813,725.8 813.50,728.3 813.75,729.1 816.75,729.1 817,728.3 817.50,725.8 817.75,725.0 834.50,725.0 835.25,728.7 835.50,729.1 839.50,729.1 840.25,732.9 840.50,733.3 842.50,733.3 842.75,732.5 843.50,725.0 846.75,725.0 847,723.3 847.50,718.3 847.75,716.6 851.75,716.6 852,715.6 852.50,712.6 852.75,711.6 856,711.6 856.25,713.0 857,725.0 860,725.0 860.25,724.5 861,720.8 865.25,720.8 865.50,722.5 866,727.5 866.25,729.1 868.50,729.1 869.25,709.6 869.50,707.5 873.50,707.5 874.25,700.0 874.50,699.1 877.50,699.1 877.75,698.7 878.50,695.0 883.50,695.0 883.75,695.4 884.50,699.1 886,699.1 886.75,656.4 887,651.6 896,651.6 896.25,654.6 897,681.6 900.25,681.6 900.50,686.0 901,699.0 901.25,703.3 908.50,703.3 908.75,704.6 909.50,716.6 912.50,716.6 912.75,716.1 913.50,711.6 916.75,711.6 917,696.0 917.50,649.0 917.75,633.3 922,633.3 922.75,661.0 923,664.1 926,664.1 926.25,664.2 927,665.0 931,665.0 931.25,666.2 932,677.5 938.50,677.5 938.75,678.3 939.50,685.8 943.50,685.8 943.75,686.7 944.50,695.0 947.75,695.0 948,698.3 948.50,708.3 948.75,711.6 951,711.6 951.75,707.9 952,707.5 961,707.5 961.25,708.8 962,720.8 973.50,720.8 973.75,721.6 974.50,729.1 978.50,729.1 979.25,709.6 979.50,707.5 987,707.5 987.75,715.0 988,715.8 991,715.8 991.75,708.3 992,707.5 996,707.5 996.25,707.9 997,711.6 1000.25,711.6 1000.50,715.1 1001,725.6 1001.25,729.1 1005.25,729.1 1005.50,730.0 1006,732.5 1006.25,733.3 1013.50,733.3 1013.75,734.1 1014.50,741.6 1017.50,741.6 1017.75,740.0 1018.50,725.0 1021,725.0 1021.75,717.5 1022,716.6 1027,716.6 1027.75,727.9 1028,729.1 1039.50,729.1 1040.25,732.9 1040.50,733.3 1043.50,733.3 1044.25,722.0 1044.50,720.8 1047.50,720.8 1047.75,717.3 1048.50,685.8 1052.50,685.8 1052.75,629.1 1053,459.1 1057,459.1 1057.50,500.0 1062,500.0 1062.75,503.0 1063,503.3 1070,503.3 1070.25,525.8 1070.50,593.3 1070.75,638.3 1074.75,638.3 1075,647.8 1075.50,676.3 1075.75,685.8 1078.75,685.8 1079,682.3 1079.50,671.8 1079.75,668.3 1083,668.3 1083.75,657.0 1084,655.8 1087,655.8 1087.25,654.5 1088,642.5 1092.25,642.5 1092.50,644.3 1093,649.8 1093.25,651.6 1096.25,651.6 1096.50,642.0 1097,613.0 1097.25,603.3 1100.50,603.3 1101.25,556.8 1101.50,551.6 1104.50,551.6 1104.75,505.2 1105,366.1 1105.25,273.3 1114,273.3 1114.75,457.1 1115,477.5 1118.50,477.5 1118.75,424.8 1119,407.3 1127.25,407.3 1127.50,474.0 1127.75,574.1 1128,607.5 1132.25,607.5 1132.50,635.0 1132.75,676.2 1133,690.0 1135.50,690.0 1136.25,674.2 1136.50,672.5 1139.50,672.5 1139.75,672.1 1140.50,668.3 1143.75,668.3 1144,667.5 1144.50,665.0 1144.75,664.1 1149,664.1 1149.75,671.6 1150,672.5 1153,672.5 1153.75,629.0 1154,624.1 1162.25,624.1 1162.50,627.0 1163,635.5 1163.25,638.3 1166.50,638.3 1167.25,661.6 1167.50,664.1 1171.50,664.1 1172.25,667.9 1172.50,668.3 1175.50,668.3 1175.75,669.6 1176.50,681.6 1179.75,681.6 1180,686.8 1180.50,702.3 1180.75,707.5 1184,707.5 1184.75,723.2 1185,725.0 1188,725.0 1188.25,725.4 1189,729.1 1197.25,729.1 1197.50,730.0 1198,732.5 1198.25,733.3 1209.50,733.3 1209.75,732.5 1210.50,725.0 1219,725.0 1219.75,736.2 1220,737.5 1224,737.5 1224.75,741.2 1225,741.6 1231.25,741.6 1231.50,740.8 1232,738.3 1232.25,737.5 1236.25,737.5 1236.50,735.8 1237,730.8 1237.25,729.1 1240.50,729.1 1241.25,721.6 1241.50,720.8 1245.50,720.8 1245.75,722.0 1246.50,733.3 1249.75,733.3 1250,734.1 1250.50,736.6 1250.75,737.5 1254,737.5 1254.75,742.0 1255,742.5 1279.50,742.5 1279.75,741.6 1280.50,733.3 1288.75,733.3 1289,732.5 1289.50,730.0 1289.75,729.1 1293,729.1 1293.75,725.4 1294,725.0 1302.25,725.0 1302.50,725.8 1303,728.3 1303.25,729.1 1311.50,729.1 1312.25,732.9 1312.50,733.3 1315.50,733.3 1315.75,733.7 1316.50,737.5 1327,737.5 1327.25,735.4 1328,716.6 1340.50,716.6 1340.75,717.5 1341.50,725.0 1345.50,725.0 1346.25,678.5 1346.50,673.3 1349.50,673.3 1349.75,667.5 1350,650.0 1350.25,638.3 1355,638.3 1355.25,649.1 1355.50,681.6 1355.75,703.3 1368,703.3 1368.25,703.7 1369,707.5 1372.25,707.5 1372.50,708.3 1373,710.8 1373.25,711.6 1376.50,711.6 1377.25,727.4 1377.50,725.0 1380,725.0 1380.75,717.5 1381,716.6 1384,716.6 1384.25,714.0 1385,690.0 1389.25,690.0 1389.50,692.6 1390,700.6 1390.25,703.3 1393.25,703.3 1393.50,702.3 1394,699.3 1394.25,698.3 1397.50,698.3 1398.25,694.5 1398.50,694.1 1402.50,694.1 1402.75,695.5 1403.50,707.5 1407.50,707.5 1407.75,707.9 1408.50,711.6 1410,711.6 1410.75,668.9 1411,664.1 1415,664.1 1415.75,652.9 1416,651.6 1420,651.6 1420.25,654.6 1421,681.6 1424.25,681.6 1424.50,688.6 1425,709.6 1425.25,716.6 1428.50,716.6 1429.25,724.1 1429.50,725.0 1432.50,725.0 1433.25,721.2 1433.50,720.8 1437.50,720.8 1437.75,721.2 1438.50,725.0 1441.50,725.0 1441.75,724.6 1442.50,720.8 1445,720.8 1445.75,673.5 1446,668.3 1451,668.3 1451.75,684.1 1452,685.8 1455,685.8 1455.25,687.5 1456,703.3 1458.25,703.3 1458.50,702.3 1459,699.3 1459.25,698.3 1463.25,698.3 1463.50,695.0 1464,685.0 1464.25,681.6 1468.50,681.6 1469.25,689.1 1469.50,690.0 1472.50,690.0 1472.75,692.6 1473.50,716.6 1476.75,716.6 1477,717.5 1477.50,720.0 1477.75,720.8 1481,720.8 1481.75,728.3 1482,729.1 1486,729.1 1486.75,732.9 1487,733.3 1511.75,733.3 1512,734.1 1512.50,736.6 1512.75,737.5 1528.25,737.5 1528.50,735.8 1529,730.8 1529.25,729.1 1533.25,729.1 1533.50,701.6 1533.75,660.4 1534,646.6 1538.50,646.6 1539.25,705.1 1539.50,711.6 1541.50,711.6 1541.75,705.6 1542.50,651.6 1551,651.6 1551.75,705.6 1552,711.6 1556,711.6 1556.75,731.1 1557,733.3 1572.50,733.3 1573.25,651.5 1573.50,642.5 1582,642.5 1582.25,646.8 1583,685.8 1586,685.8 1586.75,697.8 1587,699.1 1591,699.1 1591.75,714.9 1592,716.6 1595,716.6 1595.25,717.0 1596,720.8 1599.25,720.8 1599.50,721.6 1600,724.1 1600.25,725.0 1604.25,725.0 1604.50,725.8 1605,728.3 1605.25,729.1 1607.50,729.1 1608.25,721.6 1608.50,720.8 1616.75,720.8 1617,721.6 1617.50,724.1 1617.75,725.0 1620,725.0 1620.75,701.0 1621,698.3 1625,698.3 1625.25,698.8 1626,703.3 1629,703.3 1629.25,701.1 1630,681.6 1633.25,681.6 1633.50,679.0 1634,671.0 1634.25,668.3 1643,668.3 1643.25,672.2 1644,707.5 1646.75,707.5 1647,710.1 1647.50,718.1 1647.75,720.8 1650.75,720.8 1651,720.0 1651.50,717.5 1651.75,716.6 1668.25,716.6 1668.50,711.5 1669,696.0 1669.25,690.8 1677.50,690.8 1677.75,692.0 1678.50,703.3 1682.50,703.3 1682.75,703.7 1683.50,707.5 1690.25,707.5 1690.50,711.6 1695.50,711.6 1696.25,716.1 1696.50,716.6 1699.50,716.6 1699.75,717.5 1700.50,725.0 1703.75,725.0 1704,725.8 1704.50,728.3 1704.75,729.1 1716,729.1 1716.25,728.3 1717,720.8 1721,720.8 1721.25,720.4 1722,716.6 1723,716.6 1723,730.9 1718,730.9 1717.25,738.4 1717,739.2 1703.75,739.2 1703.50,738.4 1703,735.9 1702.75,735.0 1699.50,735.0 1698.75,731.3 1698.50,730.9 1694.50,730.9 1693.75,727.1 1693.50,726.7 1689.50,726.7 1689.25,721.7 1682.75,721.7 1682.50,722.7 1682,725.7 1681.75,726.7 1678.50,726.7 1677.75,734.2 1677.50,735.0 1660,735.0 1659.25,731.3 1659,730.9 1647.50,730.9 1646.75,727.1 1646.50,726.7 1643.50,726.7 1643.25,726.2 1642.50,721.7 1639.25,721.7 1639,720.0 1638.50,715.0 1638.25,713.4 1635.25,713.4 1635,715.9 1634.50,723.4 1634.25,725.9 1626,725.9 1625.25,730.4 1625,730.9 1622,730.9 1621.75,731.3 1621,735.0 1613.50,735.0 1612.75,738.8 1612.50,739.2 1599.25,739.2 1599,738.4 1598.50,735.9 1598.25,735.0 1591,735.0 1590.75,734.2 1590,726.7 1586,726.7 1585.75,725.8 1585,717.5 1582,717.5 1581.25,713.8 1581,713.4 1578.50,713.4 1577.75,736.6 1577.50,739.2 1574.50,739.2 1574.25,739.6 1573.50,743.4 1560,743.4 1559.25,739.6 1559,739.2 1551,739.2 1550.75,737.0 1550,717.5 1547.75,717.5 1547.50,721.0 1547,731.5 1546.75,735.0 1539.50,735.0 1539.25,735.9 1538.50,743.4 1526,743.4 1525.25,747.1 1525,747.5 1520,747.5 1519.25,743.8 1519,743.4 1486,743.4 1485.75,743.0 1485,739.2 1481.75,739.2 1481.50,738.4 1481,735.9 1480.75,735.0 1473.50,735.0 1473.25,734.2 1472.50,726.7 1468.50,726.7 1468.25,725.8 1467.50,717.5 1460.25,717.5 1460,718.4 1459.50,720.9 1459.25,721.7 1455,721.7 1454.25,717.9 1454,717.5 1452,717.5 1451.75,718.4 1451,726.7 1447,726.7 1446.75,727.1 1446,730.9 1433.50,730.9 1432.75,734.6 1432.50,735.0 1424.25,735.0 1424,733.4 1423.50,728.4 1423.25,726.7 1420,726.7 1419.25,710.9 1419,709.2 1417,709.2 1416.75,710.9 1416,726.7 1412,726.7 1411.75,727.1 1411,730.9 1403.50,730.9 1403.25,730.5 1402.50,726.7 1398.50,726.7 1398.25,726.2 1397.50,721.7 1389.50,721.7 1389.25,723.0 1388.50,735.0 1377.50,735.0 1377.25,730.3 1377,730.0 1372.25,730.0 1372,728.4 1371.50,723.4 1371.25,721.7 1365,721.7 1364.75,722.2 1364,726.7 1359.75,726.7 1359.50,725.7 1359,722.7 1358.75,721.7 1354.75,721.7 1354.50,720.3 1354.25,718.2 1354,717.5 1351.25,717.5 1351,722.0 1350.75,728.6 1350.50,730.9 1347.50,730.9 1347.25,731.3 1346.50,735.0 1341.50,735.0 1341.25,734.6 1340.50,730.9 1337.25,730.9 1337,730.0 1336.50,727.5 1336.25,726.7 1334,726.7 1333.25,738.0 1333,739.2 1329,739.2 1328.25,743.0 1328,743.4 1315.50,743.4 1314.75,739.6 1314.50,739.2 1303,739.2 1302.25,735.4 1302,735.0 1290.75,735.0 1290.50,735.2 1290,735.7 1289.75,735.9 1289,735.9 1288.75,736.2 1285.75,736.2 1285.50,737.4 1285,741.9 1284.75,743.4 1280,743.4 1279.75,744.5 1279.50,745.4 1255,745.4 1254.75,744.9 1254.50,743.4 1249.75,743.4 1249.50,742.5 1249,740.0 1248.75,739.2 1238.25,739.2 1238,740.0 1237.50,742.5 1237.25,743.4 1231.75,743.4 1231.50,743.7 1231.25,744.5 1225,744.5 1224.75,744.1 1224.50,743.4 1219,743.4 1218.75,743.0 1218,740.0 1197.25,740.0 1197,739.9 1196.50,739.4 1196.25,739.2 1184,739.2 1183.75,738.3 1183,730.0 1179.75,730.0 1179.50,727.5 1179,720.0 1178.75,717.5 1175.50,717.5 1174.75,705.5 1174.50,704.2 1172.50,704.2 1172.25,704.7 1171.50,709.2 1162.25,709.2 1162,703.9 1161.50,687.9 1161.25,682.5 1159,682.5 1158.25,706.5 1158,709.2 1154,709.2 1153.75,708.7 1153,704.2 1150,704.2 1149.75,705.1 1149,713.4 1132,713.4 1131.75,710.5 1131.50,701.7 1131.25,695.9 1127,695.9 1126.75,685.7 1126.50,655.3 1126.25,635.0 1124,635.0 1123.25,689.8 1123,695.9 1119,695.9 1118.75,691.5 1118.50,678.4 1114,678.4 1113.75,673.2 1113,626.7 1110.75,626.7 1110.50,627.7 1110,630.7 1109.75,631.7 1106.50,631.7 1105.75,646.7 1105.50,648.4 1102.50,648.4 1102.25,652.2 1101.50,686.7 1089,686.7 1088.25,694.2 1088,695.0 1085,695.0 1084.75,695.9 1084,704.2 1080,704.2 1079.75,704.7 1079,709.2 1069.75,709.2 1069.50,690.6 1069.25,662.7 1069,653.4 1065.50,653.4 1065.25,631.7 1062,631.7 1061.75,627.0 1061,585.0 1057.50,585.0 1057,717.5 1053.75,717.5 1053.50,721.0 1053,731.5 1052.75,735.0 1049.50,735.0 1048.75,738.8 1048.50,739.2 1027,739.2 1026.75,738.8 1026,735.0 1023,735.0 1022.75,735.9 1022,743.4 1017.75,743.4 1017.50,744.5 1014.50,744.5 1014.25,743.0 1013.50,739.2 1009.50,739.2 1009.25,738.8 1008.75,736.3 1008.50,736.2 1006.25,736.2 1006,735.4 1005.75,735.0 1001,735.0 1000.25,730.5 1000,730.0 996,730.0 995.25,722.5 995,721.7 993,721.7 992.75,722.2 992,726.7 983.75,726.7 983.50,728.4 983,733.4 982.75,735.0 974.50,735.0 974.25,734.5 973.50,730.0 961,730.0 960.25,727.0 960,726.7 952.75,726.7 952.50,725.7 952,722.7 951.75,721.7 948.50,721.7 947.75,718.0 947.50,717.5 945.50,717.5 945.25,718.5 944.50,726.7 935.25,726.7 935,722.2 934.50,708.7 934.25,704.2 927,704.2 926.25,708.7 926,709.2 923,709.2 922.75,711.0 922,726.7 912.75,726.7 912.50,725.7 912,722.7 911.75,721.7 905.50,721.7 905.25,722.2 904.50,726.7 900.25,726.7 900,725.7 899.50,722.7 899.25,721.7 896,721.7 895.25,710.5 895,709.2 891,709.2 890.25,704.7 890,704.2 888,704.2 887.75,705.5 887,717.5 874.50,717.5 873.75,728.8 873.50,730.0 870.50,730.0 870.25,731.0 869.50,739.2 865.25,739.2 865,738.4 864.50,735.9 864.25,735.0 856,735.0 855.25,730.5 855,730.0 853,730.0 852.75,730.5 852,735.0 848.75,735.0 848.50,735.9 848,738.4 847.75,739.2 835.25,739.2 835,738.4 834.50,735.9 834.25,735.0 831.25,735.0 831,735.9 830.50,738.4 830.25,739.2 821,739.2 820.25,735.5 820,735.0 812.75,735.0 812.50,734.2 812,731.7 811.75,730.9 808.75,730.9 808.50,731.7 808,734.2 807.75,735.0 799.50,735.0 799.25,734.5 798.50,730.0 795.25,730.0 795,729.4 794.50,727.4 794.25,726.7 791,726.7 790.25,706.5 790,704.2 787,704.2 786.25,719.9 786,721.7 783,721.7 782.75,722.5 782,730.0 773.50,730.0 772.75,726.3 772.50,725.9 769.50,725.9 769.25,725.0 768.50,717.5 760.50,717.5 760.25,718.0 759.50,721.7 754.50,721.7 754.25,726.7 748.50,726.7 748.25,727.5 747.50,735.0 738.25,735.0 738,734.0 737.50,731.0 737.25,730.0 736,730.0 735.75,730.5 735,735.0 725.75,735.0 725.50,734.0 725,731.0 724.75,730.0 721.50,730.0 720.75,727.0 720.50,726.7 717.50,726.7 717.25,726.6 716.50,725.9 708.25,725.9 708,725.0 707.50,722.5 707.25,721.7 704.25,721.7 704,722.5 703.50,725.0 703.25,725.9 695,725.9 694.75,725.4 694,721.7 682.50,721.7 682.25,720.9 681.50,713.4 677.50,713.4 677.25,711.7 676.50,696.7 674.25,696.7 674,700.9 673.50,713.4 673.25,717.5 669.25,717.5 669,720.0 668.50,727.5 668.25,730.0 660,730.0 659.75,729.6 659,725.9 655,725.9 654.75,724.6 654,713.4 651.75,713.4 651.50,715.0 651,720.0 650.75,721.7 646.50,721.7 645.75,718.0 645.50,717.5 642.50,717.5 642.25,717.1 641.50,713.4 637.50,713.4 637.25,712.9 636.50,709.2 633.25,709.2 633,705.7 632.50,695.2 632.25,691.7 626,691.7 625.75,695.1 625,725.9 603.25,725.9 603,722.5 602.50,712.5 602.25,709.2 591,709.2 590.75,710.5 590,721.7 580.75,721.7 580.50,718.2 580,707.7 579.75,704.2 576.50,704.2 575.75,696.0 575.50,695.0 572.50,695.0 572.25,693.4 571.50,678.4 564,678.4 563.25,670.9 563,670.0 560,670.0 559.25,700.8 559,704.2 556,704.2 555.75,705.1 555,713.4 546.50,713.4 545.75,698.4 545.50,696.7 543.50,696.7 543.25,697.5 542.50,704.2 533.25,704.2 533,701.5 532.50,693.5 532.25,690.9 529,690.9 528.25,683.4 528,682.5 524,682.5 523.25,678.8 523,678.4 520,678.4 519.75,674.9 519,644.2 516.75,644.2 516.50,653.5 516,681.5 515.75,690.9 506.50,690.9 505.75,687.1 505.50,686.7 502,686.7 501.75,685.1 501.25,675.8 501,674.2 498.25,674.2 498,664.7 497.50,636.2 497.25,626.7 494,626.7 493.25,618.4 493,617.5 481.75,617.5 481.50,628.7 481,662.2 480.75,673.4 477.50,673.4 476.75,677.9 476.50,678.4 472.50,678.4 472.25,677.5 471.50,670.0 468.50,670.0 468.25,671.3 467.50,682.5 459,682.5 458.25,643.5 458,639.2 455,639.2 454.25,685.7 454,690.9 445.75,690.9 445.50,684.0 445,663.5 444.75,656.7 441,656.7 440.75,650.0 440.50,630.0 440.25,616.7 433,616.7 432.25,652.7 432,656.7 429,656.7 428.75,657.5 428,665.0 424.75,665.0 424.50,666.9 424,672.4 423.75,674.2 420.50,674.2 419.75,689.2 419.50,690.9 416,690.9 415.75,693.7 415.25,710.6 415,713.4 411.25,713.4 411,711.5 410.50,706.0 410.25,704.2 406.25,704.2 406,700.7 405.50,690.2 405.25,686.7 399,686.7 398.75,687.1 398,690.9 394,690.9 393.75,691.4 393,695.9 380.50,695.9 380.25,695.4 379.50,690.9 376.25,690.9 376,688.4 375.50,680.9 375.25,678.4 372.25,678.4 372,679.2 371.50,681.7 371.25,682.5 363,682.5 362.75,681.3 362,670.0 359,670.0 358.75,670.9 358,678.4 354.75,678.4 354.50,679.2 354,681.7 353.75,682.5 349.25,682.5 349,681.1 348.75,679.1 348.50,678.4 345.50,678.4 344.75,706.1 344.50,709.2 336.25,709.2 336,704.7 335.50,691.2 335.25,686.7 332,686.7 331.25,656.0 331,652.5 328,652.5 327.75,651.7 327,644.2 323.50,644.2 323.25,641.3 323,632.5 322.75,626.7 319.75,626.7 319.50,634.4 319,657.4 318.75,665.0 314.75,665.0 314.50,670.2 314,685.7 313.75,690.9 310.50,690.9 309.75,702.9 309.50,704.2 306.50,704.2 306.25,705.1 305.50,713.4 301.50,713.4 301.25,714.6 300.50,725.9 294,725.9 293.75,726.3 293,730.0 279.50,730.0 278.75,726.3 278.50,725.9 271.25,725.9 271,723.4 270.50,715.9 270.25,713.4 266.25,713.4 266,711.5 265.50,706.0 265.25,704.2 262,704.2 261.25,684.7 261,682.5 259,682.5 258.75,686.0 258,716.7 254,716.7 253.75,718.0 253,730.0 249.75,730.0 249.50,731.9 249,737.4 248.75,739.2 240.50,739.2 240.25,738.3 239.50,730.0 237.25,730.0 237,731.0 236.50,734.0 236.25,735.0 231.25,735.0 231,734.0 230.50,731.0 230.25,730.0 228,730.0 227.25,738.3 227,739.2 218,739.2 217.75,738.8 217,735.0 210.50,735.0 209.75,738.8 209.50,739.2 202.25,739.2 202,740.0 201.50,742.5 201.25,743.4 196.25,743.4 196,742.5 195.50,740.0 195.25,739.2 192,739.2 191.25,735.5 191,735.0 188.75,735.0 188.50,734.0 188,731.0 187.75,730.0 179.50,730.0 178.75,726.3 178.50,725.9 174.50,725.9 173.75,717.6 173.50,716.7 171.50,716.7 171.25,717.2 170.50,721.7 166.50,721.7 166.25,722.1 165.50,725.9 162.25,725.9 162,726.7 161.50,729.2 161.25,730.0 157.25,730.0 157,731.0 156.50,734.0 156.25,735.0 148.75,735.0 148.50,734.0 148,731.0 147.75,730.0 143,730.0"/>
<polygon fill="#0c0c0c" points="143,703.7 143.25,703.7 146.50,704.5 148,715.8 148.25,717.0 153.50,717.0 154.25,712.5 154.50,712.0 155.50,712.0 155.75,712.5 156.50,717.0 166.75,717.0 167,706.7 167.50,675.7 167.75,665.4 173,665.4 173.25,668.4 174,695.4 177.25,695.4 177.50,697.9 178,705.4 178.25,707.9 184.25,707.9 184.50,706.2 185,701.2 185.25,699.5 190.50,699.5 190.75,702.5 191.50,729.5 194.75,730.3 195,731.0 195.50,733.0 195.75,733.7 202.50,733.7 202.75,733.4 203.50,730.4 216.50,730.4 217.25,733.4 217.50,733.7 223.50,733.7 224.25,726.2 224.50,725.4 236.75,725.4 237,724.5 237.50,722.0 237.75,721.2 243,721.2 243.25,722.1 244,730.4 248,730.4 248.25,730.0 250,730.0 250.25,727.5 250.50,718.7 250.75,712.9 254,712.9 254.50,651.0 254.75,630.4 259,630.4 259.25,626.6 259.50,625.4 260.50,625.4 260.75,626.7 261.50,638.7 264.75,638.7 265,650.4 265.25,667.9 265.50,673.7 273,673.7 273.25,680.1 273.50,699.3 273.75,712.0 282.25,712.0 282.50,713.9 283,719.4 283.25,721.2 293.50,721.2 294.25,717.5 294.50,717.0 297.50,717.0 297.75,716.2 298.50,708.7 301.75,708.7 302,701.7 302.50,680.7 302.75,673.7 306.75,673.7 307,663.2 307.50,631.7 307.75,621.2 314.25,621.2 314.50,617.9 315,607.9 315.25,604.5 319.25,604.5 319.50,585.2 320,527.2 320.25,507.9 324,507.9 324.25,492.2 324.50,487.0 326.50,487.0 327,495.4 330.50,495.4 330.75,499.7 331,512.6 331.25,521.2 334.75,521.2 335,553.1 335.25,601.1 335.50,617.0 339.75,617.0 340,624.3 340.25,635.1 340.50,638.7 346,638.7 346.50,630.4 349.50,630.4 349.75,622.0 350,597.0 350.25,580.4 354.25,580.4 354.50,559.3 354.75,527.6 355,517.0 357,517.0 357.25,565.8 357.50,582.0 361.50,582.0 362,621.2 365.50,621.2 365.75,625.5 366,638.4 366.25,647.0 371.75,647.0 372,645.6 372.25,643.6 372.50,642.9 378,642.9 378.25,644.2 379,656.2 382.25,656.2 382.50,658.0 383,663.5 383.25,665.4 389.25,665.4 389.50,660.9 390,647.4 390.25,642.9 391.50,642.9 392.25,646.6 392.50,647.0 398.50,647.0 399,642.9 400.50,642.9 400.75,644.2 401.50,656.2 404.75,656.2 405,657.0 405.50,659.5 405.75,660.4 411.50,660.4 412.25,592.9 412.50,585.4 415.50,585.4 415.75,583.8 416.25,574.4 416.50,572.9 417.50,572.9 417.75,575.1 418,581.8 418.25,586.2 422.25,586.2 422.50,593.4 422.75,604.3 423,607.9 428.50,607.9 429.25,568.9 429.50,564.5 432.50,564.5 432.75,563.3 433.50,552.0 437.50,552.0 437.75,551.5 438.50,547.0 440.75,547.0 441,582.0 446.25,582.0 446.50,580.4 447,575.4 447.25,573.7 450.50,573.7 451.25,557.9 451.50,556.2 456.75,556.2 457,562.0 457.50,579.5 457.75,585.5 461.75,591.1 462,591.2 473,591.2 473.75,574.7 474,572.9 477,572.9 477.25,568.6 478,530.4 482,530.4 482.25,527.2 483,498.7 486.25,498.7 486.50,497.9 487,495.4 487.25,494.5 490,494.5 490.25,490.4 490.50,477.9 496.75,477.9 497,486.5 497.25,499.4 497.50,536.2 497.75,568.7 500.50,568.7 500.75,578.5 501.25,637.2 501.50,647.0 505,647.0 505.25,648.4 506,660.4 511.25,660.4 511.50,645.5 512,601.0 512.25,586.2 516.25,586.2 516.50,579.4 517,558.9 517.25,552.0 518.50,552.0 519.25,579.0 519.50,582.0 522.50,582.0 522.75,587.7 523.50,638.7 527.50,638.7 527.75,640.5 528.50,656.2 531.75,656.2 532,658.7 532.50,666.2 532.75,668.7 536,668.7 536.75,672.4 537,672.9 540,672.9 540.25,673.4 541,677.9 544.25,677.9 544.50,678.7 545,681.2 545.25,682.0 548.50,682.0 549.25,689.5 549.50,690.4 555.50,690.4 556.25,628.1 556.50,621.2 559.50,621.2 559.75,611.1 560.50,520.4 566.75,520.4 567,559.8 567.25,619.0 567.50,638.7 575,638.7 575.25,641.7 576,668.7 579.25,668.7 579.50,671.4 580,679.4 580.25,682.0 585.50,682.0 586.25,670.0 586.50,668.7 588.50,668.7 589.25,691.2 589.50,693.7 594.50,693.7 594.75,690.8 595.50,664.5 601.75,664.5 602,668.9 602.50,681.9 602.75,686.2 606,686.2 606.75,713.9 607,717.0 614.25,717.0 614.50,717.7 615,719.7 615.25,720.4 621.25,720.4 621.50,712.7 622,689.7 622.25,682.0 625.50,682.0 626.25,673.8 626.50,672.9 629.50,672.9 629.75,672.4 630.50,668.7 631.75,668.7 632,670.5 632.50,676.0 632.75,677.9 636,677.9 636.75,685.4 637,686.2 645,686.2 645.25,688.0 646,703.7 658.50,703.7 659.25,715.7 659.50,717.0 664.50,717.0 664.75,713.9 665.50,686.2 668.75,686.2 669,680.0 669.50,661.5 669.75,655.4 673.75,655.4 674,647.7 674.50,624.7 674.75,617.0 681,617.0 681.50,690.4 685,690.4 685.25,691.2 686,698.7 689.25,698.7 689.50,699.7 690,702.7 690.25,703.7 697.50,703.7 697.75,704.5 698.50,712.0 711,712.0 711.75,716.5 712,717.0 724.25,717.0 724.50,717.9 725,720.4 725.25,721.2 729.25,721.2 729.50,722.0 730,724.5 730.25,725.4 735.50,725.4 736.25,721.6 736.50,721.2 736.75,721.2 737,722.9 737.50,727.9 737.75,729.6 738.75,729.6 739,729.5 743.75,729.5 744,725.2 744.50,712.2 744.75,707.9 746,707.9 746.75,711.6 747,712.0 752,712.0 752.25,711.6 753,707.9 756.50,707.9 756.75,707.0 757.50,699.5 758.75,699.5 759,700.4 759.50,702.9 759.75,703.7 768,703.7 768.75,711.2 769,712.0 772,712.0 772.25,712.5 773,717.0 779,717.0 779.25,716.1 780,707.9 783.25,707.9 783.50,703.5 784,690.5 784.25,686.2 789.50,686.2 789.75,686.6 790.50,690.4 793.75,690.4 794,694.7 794.50,707.7 794.75,712.0 798,712.0 798.75,724.0 799,725.4 803,725.4 803.75,729.1 804,729.5 809,729.5 809.25,729.1 810,725.4 811.25,725.4 811.50,726.2 812,728.7 812.25,729.5 818.25,729.5 818.50,728.7 819,726.2 819.25,725.4 833,725.4 833.75,729.1 834,729.5 838,729.5 838.75,733.3 839,733.7 844,733.7 844.25,732.9 845,725.4 848.25,725.4 848.50,723.7 849,718.7 849.25,717.0 853.25,717.0 853.50,716.0 854,713.0 854.25,712.0 854.50,712.0 854.75,713.4 855.50,725.4 861.50,725.4 861.75,724.9 862.50,721.2 863.75,721.2 864,722.9 864.50,727.9 864.75,729.5 868.75,729.5 869,729.6 870,729.6 870.25,723.0 870.75,710.0 871,707.9 875,707.9 875.75,700.4 876,699.5 879,699.5 879.25,699.1 880,695.4 882,695.4 882.25,695.8 883,699.5 887.50,699.5 888.25,656.8 888.50,652.0 894.50,652.0 894.75,655.0 895.50,682.0 898.75,682.0 899,686.4 899.50,699.4 899.75,703.7 907,703.7 907.25,705.0 908,717.0 914,717.0 914.25,716.5 915,712.0 918.25,712.0 918.50,696.4 919,649.4 919.25,633.7 920.50,633.7 921.25,661.4 921.50,664.5 924.50,664.5 924.75,664.6 925.50,665.4 929.50,665.4 929.75,666.6 930.50,677.9 937,677.9 937.25,678.7 938,686.2 942,686.2 942.25,687.1 943,695.4 946.25,695.4 946.50,698.7 947,708.7 947.25,712.0 952.50,712.0 953.25,708.3 953.50,707.9 959.50,707.9 959.75,709.2 960.50,721.2 972,721.2 972.25,722.0 972.75,727.0 973,729.6 975,729.6 975.25,729.5 980,729.5 980.75,710.0 981,707.9 985.50,707.9 986.25,715.4 986.50,716.2 992.50,716.2 993.25,708.7 993.50,707.9 994.50,707.9 994.75,708.3 995.50,712.0 998.75,712.0 999,715.5 999.50,726.0 999.75,729.6 1001.50,729.6 1001.75,729.8 1002,729.5 1003.75,729.5 1004,730.4 1004.50,732.9 1004.75,733.7 1012,733.7 1012.25,734.5 1012.50,737.0 1012.75,739.2 1013,740.4 1015,740.4 1015.75,742.3 1016,742.0 1019,742.0 1019.25,740.4 1020,725.4 1022.50,725.4 1023.25,717.9 1023.50,717.0 1025.50,717.0 1026.25,728.3 1026.50,729.5 1038,729.5 1038.75,733.3 1039,733.7 1045,733.7 1045.75,722.4 1046,721.2 1049,721.2 1049.25,717.7 1050,686.2 1054,686.2 1054.25,629.5 1054.50,459.5 1055.50,459.5 1056,500.4 1060.50,500.4 1061.25,503.4 1061.50,503.7 1068.50,503.7 1068.75,526.2 1069,593.7 1069.25,638.7 1073.25,638.7 1073.50,648.2 1074,676.7 1074.25,686.2 1080.25,686.2 1080.50,682.7 1081,672.2 1081.25,668.7 1084.50,668.7 1085.25,657.4 1085.50,656.2 1088.50,656.2 1088.75,654.9 1089.50,642.9 1090.75,642.9 1091,644.7 1091.50,650.2 1091.75,652.0 1097.75,652.0 1098,642.4 1098.50,613.4 1098.75,603.7 1102,603.7 1102.75,557.2 1103,552.0 1106,552.0 1106.25,505.6 1106.50,366.5 1106.75,273.7 1112.50,273.7 1113.25,457.5 1113.50,477.9 1120,477.9 1120.25,425.2 1120.50,407.7 1125.75,407.7 1126,474.4 1126.25,574.5 1126.50,607.9 1130.75,607.9 1131,635.4 1131.25,676.6 1131.50,690.4 1137,690.4 1137.75,674.6 1138,672.9 1141,672.9 1141.25,672.5 1142,668.7 1145.25,668.7 1145.50,667.9 1146,665.4 1146.25,664.5 1147.50,664.5 1148.25,672.0 1148.50,672.9 1154.50,672.9 1155.25,629.4 1155.50,624.5 1160.75,624.5 1161,627.4 1161.50,635.9 1161.75,638.7 1165,638.7 1165.75,662.0 1166,664.5 1170,664.5 1170.75,668.3 1171,668.7 1174,668.7 1174.25,670.0 1175,682.0 1178.25,682.0 1178.50,687.2 1179,702.7 1179.25,707.9 1182.50,707.9 1183.25,723.6 1183.50,725.4 1186.50,725.4 1186.75,725.8 1187.50,729.5 1195.75,729.5 1196,730.4 1196.50,732.9 1196.75,733.7 1211,733.7 1211.25,732.9 1212,725.4 1217.50,725.4 1218.25,736.6 1218.50,737.9 1222.50,737.9 1223.25,741.6 1223.50,742.0 1232.75,742.0 1233,741.2 1233.50,738.7 1233.75,737.9 1237.75,737.9 1238,736.2 1238.50,731.2 1238.75,729.5 1242,729.5 1242.75,722.0 1243,721.2 1244,721.2 1244.25,722.4 1245,733.7 1248.25,733.7 1248.50,734.5 1249,737.0 1249.25,737.9 1252.50,737.9 1253,740.9 1253.25,742.7 1253.50,742.9 1256,742.9 1256.25,742.9 1278.25,742.9 1278.50,742.9 1281,742.9 1281.25,742.0 1282,733.7 1290.25,733.7 1290.50,732.9 1291,730.4 1291.25,729.5 1294.50,729.5 1295.25,725.8 1295.50,725.4 1300.75,725.4 1301,726.2 1301.50,728.7 1301.75,729.5 1310,729.5 1310.75,733.3 1311,733.7 1314,733.7 1314.25,734.1 1315,737.9 1328.50,737.9 1328.75,735.8 1329.50,717.0 1339,717.0 1339.25,717.9 1340,725.4 1347,725.4 1347.75,678.9 1348,673.7 1351,673.7 1351.25,667.9 1351.50,650.4 1351.75,638.7 1353.50,638.7 1353.75,649.5 1354,682.0 1354.25,703.7 1366.50,703.7 1366.75,704.1 1367.50,707.9 1370.75,707.9 1371,708.7 1371.50,711.2 1371.75,712.0 1375,712.0 1375.75,727.8 1378.75,727.8 1379,725.4 1381.50,725.4 1382.25,717.9 1382.50,717.0 1385.50,717.0 1385.75,714.4 1386.50,690.4 1387.75,690.4 1388,693.0 1388.50,701.0 1388.75,703.7 1394.75,703.7 1395,702.7 1395.50,699.7 1395.75,698.7 1399,698.7 1399.75,694.9 1400,694.5 1401,694.5 1401.25,695.9 1402,707.9 1406,707.9 1406.25,708.3 1407,712.0 1411.50,712.0 1412.25,669.3 1412.50,664.5 1416.50,664.5 1417.25,653.3 1417.50,652.0 1418.50,652.0 1418.75,655.0 1419.50,682.0 1422.75,682.0 1423,689.0 1423.50,710.0 1423.75,717.0 1427,717.0 1427.75,724.5 1428,725.4 1434,725.4 1434.75,721.6 1435,721.2 1436,721.2 1436.25,721.6 1437,725.4 1443,725.4 1443.25,725.0 1444,721.2 1446.50,721.2 1447.25,673.9 1447.50,668.7 1449.50,668.7 1450.25,684.5 1450.50,686.2 1453.50,686.2 1453.75,687.9 1454.50,703.7 1459.75,703.7 1460,702.7 1460.50,699.7 1460.75,698.7 1464.75,698.7 1465,695.4 1465.50,685.4 1465.75,682.0 1467,682.0 1467.75,689.5 1468,690.4 1471,690.4 1471.25,693.0 1472,717.0 1475.25,717.0 1475.50,717.9 1476,720.4 1476.25,721.2 1479.50,721.2 1480.25,728.7 1480.50,729.5 1484.50,729.5 1485.25,733.3 1485.50,733.7 1510.25,733.7 1510.50,734.5 1511,737.0 1511.25,737.9 1529.75,737.9 1530,736.2 1530.50,731.2 1530.75,729.5 1534.75,729.5 1535,702.0 1535.25,660.8 1535.50,647.0 1537,647.0 1537.75,705.5 1538,712.0 1543,712.0 1543.25,706.0 1544,652.0 1549.50,652.0 1550.25,706.0 1550.50,712.0 1554.50,712.0 1555.25,731.5 1555.50,733.7 1574,733.7 1574.75,651.9 1575,642.9 1580.50,642.9 1580.75,647.2 1581.50,686.2 1584.50,686.2 1585.25,698.2 1585.50,699.5 1589.50,699.5 1590.25,715.3 1590.50,717.0 1593.50,717.0 1593.75,717.4 1594.50,721.2 1597.75,721.2 1598,722.0 1598.50,724.5 1598.75,725.4 1602.75,725.4 1603,726.2 1603.50,728.7 1603.75,729.5 1609,729.5 1609.75,722.0 1610,721.2 1615.25,721.2 1615.50,722.0 1616,724.5 1616.25,725.4 1621.50,725.4 1622.25,701.4 1622.50,698.7 1623.50,698.7 1623.75,699.2 1624.50,703.7 1630.50,703.7 1630.75,701.5 1631.50,682.0 1634.75,682.0 1635,679.4 1635.50,671.4 1635.75,668.7 1641.50,668.7 1641.75,672.6 1642.50,707.9 1645.25,707.9 1645.50,710.5 1646,718.5 1646.25,721.2 1652.25,721.2 1652.50,720.4 1653,717.9 1653.25,717.0 1669.75,717.0 1670,711.9 1670.50,696.4 1670.75,691.2 1676,691.2 1676.25,692.4 1677,703.7 1681,703.7 1681.25,704.1 1682,707.9 1688.75,707.9 1689,712.0 1694,712.0 1694.75,716.5 1695,717.0 1698,717.0 1698.25,717.9 1699,725.4 1702.25,725.4 1702.50,726.2 1703,728.7 1703.25,729.5 1717.50,729.5 1717.75,728.7 1718.50,721.2 1722.50,721.2 1722.75,720.8 1723,719.5 1723,730.5 1716.50,730.5 1715.75,738.0 1715.50,738.8 1705.25,738.8 1705,738.0 1704.50,735.5 1704.25,734.6 1701,734.6 1700.25,730.9 1700,730.5 1696,730.5 1695.25,726.7 1695,726.3 1691,726.3 1690.75,721.3 1681.25,721.3 1681,722.3 1680.50,725.3 1680.25,726.3 1677,726.3 1676.25,733.8 1676,734.6 1661.50,734.6 1660.75,730.9 1660.50,730.5 1649,730.5 1648.25,726.7 1648,726.3 1645,726.3 1644.75,725.8 1644,721.3 1640.75,721.3 1640.50,719.6 1640,714.6 1639.75,713.0 1633.75,713.0 1633.50,715.5 1633,723.0 1632.75,725.5 1624.50,725.5 1623.75,730.0 1623.50,730.5 1620.50,730.5 1620.25,730.9 1619.50,734.6 1612,734.6 1611.25,738.4 1611,738.8 1600.75,738.8 1600.50,738.0 1600,735.5 1599.75,734.6 1592.50,734.6 1592.25,733.8 1591.50,726.3 1587.50,726.3 1587.25,725.4 1586.50,717.1 1583.50,717.1 1582.75,713.4 1582.50,713.0 1577,713.0 1576.25,736.2 1576,738.8 1573,738.8 1572.75,739.2 1572,743.0 1561.50,743.0 1560.75,739.2 1560.50,738.8 1552.50,738.8 1552.25,736.6 1551.50,717.1 1546.25,717.1 1546,720.6 1545.50,731.1 1545.25,734.6 1538,734.6 1537.75,735.5 1537,743.0 1524.50,743.0 1523.75,746.7 1523.50,747.1 1521.50,747.1 1520.75,743.4 1520.50,743.0 1487.50,743.0 1487.25,742.6 1486.50,738.8 1483.25,738.8 1483,738.0 1482.50,735.5 1482.25,734.6 1475,734.6 1474.75,733.8 1474,726.3 1470,726.3 1469.75,725.4 1469,717.1 1458.75,717.1 1458.50,718.0 1458,720.5 1457.75,721.3 1456.50,721.3 1455.75,717.5 1455.50,717.1 1450.50,717.1 1450.25,718.0 1449.50,726.3 1445.50,726.3 1445.25,726.7 1444.50,730.5 1432,730.5 1431.25,734.2 1431,734.6 1425.75,734.6 1425.50,733.0 1425,728.0 1424.75,726.3 1421.50,726.3 1420.75,710.5 1420.50,708.8 1415.50,708.8 1415.25,710.5 1414.50,726.3 1410.50,726.3 1410.25,726.7 1409.50,730.5 1405,730.5 1404.75,730.1 1404,726.3 1400,726.3 1399.75,725.8 1399,721.3 1388,721.3 1387.75,722.6 1387,734.6 1379,734.6 1378.75,729.9 1378.50,729.6 1373.75,729.6 1373.50,728.0 1373,723.0 1372.75,721.3 1363.50,721.3 1363.25,721.8 1362.50,726.3 1361.25,726.3 1361,725.3 1360.50,722.3 1360.25,721.3 1356.25,721.3 1356,719.9 1355.75,717.8 1355.50,717.1 1349.75,717.1 1349.50,721.6 1349.25,728.2 1349,730.5 1346,730.5 1345.75,730.9 1345,734.6 1343,734.6 1342.75,734.2 1342,730.5 1338.75,730.5 1338.50,729.6 1338,727.1 1337.75,726.3 1332.50,726.3 1331.75,737.6 1331.50,738.8 1327.50,738.8 1326.75,742.6 1326.50,743.0 1317,743.0 1316.25,739.2 1316,738.8 1304.50,738.8 1303.75,735.0 1303.50,734.6 1289.25,734.6 1289,734.8 1288.50,735.3 1288.25,735.5 1287.50,735.5 1287.25,735.8 1284.25,735.8 1284,737.0 1283.50,741.5 1283.25,743.0 1281.25,743.0 1281,742.9 1278.50,742.9 1278.25,744.1 1278,745.0 1256.50,745.0 1256.25,744.5 1256,742.9 1253.50,742.9 1253.25,742.7 1253,743.0 1251.25,743.0 1251,742.1 1250.50,739.6 1250.25,738.8 1236.75,738.8 1236.50,739.6 1236,742.1 1235.75,743.0 1230.25,743.0 1230,743.3 1229.75,744.1 1226.50,744.1 1226.25,743.7 1226,743.0 1220.50,743.0 1220.25,742.6 1219.50,739.6 1198.75,739.6 1198.50,739.5 1198,739.0 1197.75,738.8 1185.50,738.8 1185.25,737.9 1184.50,729.6 1181.25,729.6 1181,727.1 1180.50,719.6 1180.25,717.1 1177,717.1 1176.25,705.1 1176,703.8 1171,703.8 1170.75,704.3 1170,708.8 1163.75,708.8 1163.50,703.5 1163,687.5 1162.75,682.1 1157.50,682.1 1156.75,706.1 1156.50,708.8 1155.50,708.8 1155.25,708.3 1154.50,703.8 1148.50,703.8 1148.25,704.7 1147.50,713.0 1133.50,713.0 1133.25,710.1 1133,701.3 1132.75,695.5 1128.50,695.5 1128.25,685.3 1128,654.9 1127.75,634.6 1122.50,634.6 1121.75,689.4 1121.50,695.5 1120.50,695.5 1120.25,691.1 1120,678.0 1115.50,678.0 1115.25,672.8 1114.50,626.3 1109.25,626.3 1109,627.3 1108.50,630.3 1108.25,631.3 1105,631.3 1104.25,646.3 1104,648.0 1101,648.0 1100.75,651.8 1100,686.3 1087.50,686.3 1086.75,693.8 1086.50,694.6 1083.50,694.6 1083.25,695.5 1082.50,703.8 1078.50,703.8 1078.25,704.3 1077.50,708.8 1071.25,708.8 1071,690.2 1070.75,662.3 1070.50,653.0 1067,653.0 1066.75,631.3 1063.50,631.3 1063.25,626.6 1062.50,584.6 1056,584.6 1055.50,717.1 1052.25,717.1 1052,720.6 1051.50,731.1 1051.25,734.6 1048,734.6 1047.25,738.4 1047,738.8 1028.50,738.8 1028.25,738.4 1027.50,734.6 1021.50,734.6 1021.25,735.5 1020.50,743.0 1016.25,743.0 1016,744.1 1015.75,742.3 1015,740.4 1013,740.4 1012.75,739.2 1012.50,738.8 1011,738.8 1010.75,738.4 1010.25,735.9 1010,735.8 1007.75,735.8 1007.50,735.0 1007.25,734.6 1002.50,734.6 1002,731.6 1001.75,729.8 1001.50,729.6 999.75,729.6 999.50,729.6 997.50,729.6 996.75,722.1 996.50,721.3 991.50,721.3 991.25,721.8 990.50,726.3 982.25,726.3 982,728.0 981.50,733.0 981.25,734.6 976,734.6 975.75,734.1 975.25,731.1 975,729.6 973,729.6 972.75,729.6 962.50,729.6 961.75,726.6 961.50,726.3 954.25,726.3 954,725.3 953.50,722.3 953.25,721.3 950,721.3 949.25,717.6 949,717.1 944,717.1 943.75,718.1 943,726.3 936.75,726.3 936.50,721.8 936,708.3 935.75,703.8 925.50,703.8 924.75,708.3 924.50,708.8 921.50,708.8 921.25,710.6 920.50,726.3 914.25,726.3 914,725.3 913.50,722.3 913.25,721.3 904,721.3 903.75,721.8 903,726.3 901.75,726.3 901.50,725.3 901,722.3 900.75,721.3 897.50,721.3 896.75,710.1 896.50,708.8 892.50,708.8 891.75,704.3 891.50,703.8 886.50,703.8 886.25,705.1 885.50,717.1 873,717.1 872.25,728.4 872,729.6 870.25,729.6 870,729.6 869,729.6 868.75,730.6 868,738.8 866.75,738.8 866.50,738.0 866,735.5 865.75,734.6 857.50,734.6 856.75,730.1 856.50,729.6 851.50,729.6 851.25,730.1 850.50,734.6 847.25,734.6 847,735.5 846.50,738.0 846.25,738.8 836.75,738.8 836.50,738.0 836,735.5 835.75,734.6 829.75,734.6 829.50,735.5 829,738.0 828.75,738.8 822.50,738.8 821.75,735.1 821.50,734.6 814.25,734.6 814,733.8 813.50,731.3 813.25,730.5 807.25,730.5 807,731.3 806.50,733.8 806.25,734.6 801,734.6 800.75,734.1 800,729.6 796.75,729.6 796.50,729.0 796,727.0 795.75,726.3 792.50,726.3 791.75,706.1 791.50,703.8 785.50,703.8 784.75,719.5 784.50,721.3 781.50,721.3 781.25,722.1 780.50,729.6 775,729.6 774.25,725.9 774,725.5 771,725.5 770.75,724.6 770,717.1 759,717.1 758.75,717.6 758,721.3 753,721.3 752.75,726.3 747,726.3 746.75,727.1 746,734.6 739.75,734.6 739.50,733.6 739,730.6 738.75,729.6 737.75,729.6 737.50,729.6 734.50,729.6 734.25,730.1 733.50,734.6 727.25,734.6 727,733.6 726.50,730.6 726.25,729.6 723,729.6 722.25,726.6 722,726.3 719,726.3 718.75,726.2 718,725.5 709.75,725.5 709.50,724.6 709,722.1 708.75,721.3 702.75,721.3 702.50,722.1 702,724.6 701.75,725.5 696.50,725.5 696.25,725.0 695.50,721.3 684,721.3 683.75,720.5 683,713.0 679,713.0 678.75,711.3 678,696.3 672.75,696.3 672.50,700.5 672,713.0 671.75,717.1 667.75,717.1 667.50,719.6 667,727.1 666.75,729.6 661.50,729.6 661.25,729.2 660.50,725.5 656.50,725.5 656.25,724.2 655.50,713.0 650.25,713.0 650,714.6 649.50,719.6 649.25,721.3 648,721.3 647.25,717.6 647,717.1 644,717.1 643.75,716.7 643,713.0 639,713.0 638.75,712.5 638,708.8 634.75,708.8 634.50,705.3 634,694.8 633.75,691.3 624.50,691.3 624.25,694.7 623.50,725.5 604.75,725.5 604.50,722.1 604,712.1 603.75,708.8 589.50,708.8 589.25,710.1 588.50,721.3 582.25,721.3 582,717.8 581.50,707.3 581.25,703.8 578,703.8 577.25,695.6 577,694.6 574,694.6 573.75,693.0 573,678.0 565.50,678.0 564.75,670.5 564.50,669.6 558.50,669.6 557.75,700.4 557.50,703.8 554.50,703.8 554.25,704.7 553.50,713.0 548,713.0 547.25,698.0 547,696.3 542,696.3 541.75,697.1 541,703.8 534.75,703.8 534.50,701.1 534,693.1 533.75,690.5 530.50,690.5 529.75,683.0 529.50,682.1 525.50,682.1 524.75,678.4 524.50,678.0 521.50,678.0 521.25,674.5 520.50,643.8 515.25,643.8 515,653.1 514.50,681.1 514.25,690.5 508,690.5 507.25,686.7 507,686.3 503.50,686.3 503.25,684.7 502.75,675.4 502.50,673.8 499.75,673.8 499.50,664.3 499,635.8 498.75,626.3 495.50,626.3 494.75,618.0 494.50,617.1 480.25,617.1 480,628.3 479.50,661.8 479.25,673.0 476,673.0 475.25,677.5 475,678.0 474,678.0 473.75,677.1 473,669.6 467,669.6 466.75,670.9 466,682.1 460.50,682.1 459.75,643.1 459.50,638.8 453.50,638.8 452.75,685.3 452.50,690.5 447.25,690.5 447,683.6 446.50,663.1 446.25,656.3 442.50,656.3 442.25,649.6 442,629.6 441.75,616.3 431.50,616.3 430.75,652.3 430.50,656.3 427.50,656.3 427.25,657.1 426.50,664.6 423.25,664.6 423,666.5 422.50,672.0 422.25,673.8 419,673.8 418.25,688.8 418,690.5 414.50,690.5 414.25,693.3 413.75,710.2 413.50,713.0 412.75,713.0 412.50,711.1 412,705.6 411.75,703.8 407.75,703.8 407.50,700.3 407,689.8 406.75,686.3 397.50,686.3 397.25,686.7 396.50,690.5 392.50,690.5 392.25,691.0 391.50,695.5 382,695.5 381.75,695.0 381,690.5 377.75,690.5 377.50,688.0 377,680.5 376.75,678.0 370.75,678.0 370.50,678.8 370,681.3 369.75,682.1 364.50,682.1 364.25,680.9 363.50,669.6 357.50,669.6 357.25,670.5 356.50,678.0 353.25,678.0 353,678.8 352.50,681.3 352.25,682.1 350.75,682.1 350.50,680.7 350.25,678.7 350,678.0 344,678.0 343.25,705.7 343,708.8 337.75,708.8 337.50,704.3 337,690.8 336.75,686.3 333.50,686.3 332.75,655.6 332.50,652.1 329.50,652.1 329.25,651.3 328.50,643.8 325,643.8 324.75,640.9 324.50,632.1 324.25,626.3 318.25,626.3 318,634.0 317.50,657.0 317.25,664.6 313.25,664.6 313,669.8 312.50,685.3 312.25,690.5 309,690.5 308.25,702.5 308,703.8 305,703.8 304.75,704.7 304,713.0 300,713.0 299.75,714.2 299,725.5 292.50,725.5 292.25,725.9 291.50,729.6 281,729.6 280.25,725.9 280,725.5 272.75,725.5 272.50,723.0 272,715.5 271.75,713.0 267.75,713.0 267.50,711.1 267,705.6 266.75,703.8 263.50,703.8 262.75,684.3 262.50,682.1 257.50,682.1 257.25,685.6 256.50,716.3 252.50,716.3 252.25,717.6 251.50,729.6 250.25,729.6 250,730.0 248.25,730.0 248,731.5 247.50,737.0 247.25,738.8 242,738.8 241.75,737.9 241,729.6 235.75,729.6 235.50,730.6 235,733.6 234.75,734.6 232.75,734.6 232.50,733.6 232,730.6 231.75,729.6 226.50,729.6 225.75,737.9 225.50,738.8 219.50,738.8 219.25,738.4 218.50,734.6 209,734.6 208.25,738.4 208,738.8 200.75,738.8 200.50,739.6 200,742.1 199.75,743.0 197.75,743.0 197.50,742.1 197,739.6 196.75,738.8 193.50,738.8 192.75,735.1 192.50,734.6 190.25,734.6 190,733.6 189.50,730.6 189.25,729.6 181,729.6 180.25,725.9 180,725.5 176,725.5 175.25,717.2 175,716.3 170,716.3 169.75,716.8 169,721.3 165,721.3 164.75,721.7 164,725.5 160.75,725.5 160.50,726.3 160,728.8 159.75,729.6 155.75,729.6 155.50,730.6 155,733.6 154.75,734.6 150.25,734.6 150,733.6 149.50,730.6 149.25,729.6 143,729.6"/>
<g stroke="#0c0c0c" stroke-width="4.4" fill="none">
<line x1="356" y1="409" x2="356" y2="422"/>
<line x1="356" y1="426" x2="356" y2="448"/>
<line x1="356" y1="456" x2="356" y2="478"/>
<line x1="356" y1="487" x2="356" y2="506"/>
</g>
<g stroke="#5a5a5a" stroke-width="8.6" fill="none">
<line x1="1109.5" y1="192" x2="1109.5" y2="209"/>
<line x1="1109.5" y1="213" x2="1109.5" y2="235"/>
<line x1="1109.5" y1="239" x2="1109.5" y2="271"/>
</g>
<rect x="1453.2" y="115.3" width="222.5" height="165.2" fill="#fff" stroke="#404040" stroke-width="4.6"/>
<line x1="1464" y1="158.8" x2="1604" y2="158.8" stroke="#2a2a2a" stroke-width="4.4" stroke-dasharray="22 8.5" />
<line x1="1464" y1="237" x2="1617" y2="237" stroke="#2a2a2a" stroke-width="4.4"/>
</g>
<g id="c2">
<rect x="137.4" y="1002.2" width="1597.4" height="4.6" fill="#404040"/>
<rect x="137.4" y="1700" width="1597.4" height="8.6" fill="#8a8a8a"/>
<rect x="137.4" y="1002.2" width="3.7" height="706.4" fill="#404040"/>
<rect x="1731.1" y="1002.2" width="3.7" height="706.4" fill="#404040"/>
<rect x="137.4" y="1002.2" width="21.7" height="4.6" fill="#222"/>
<rect x="137.4" y="1700" width="21.7" height="8.6" fill="#555"/>
<rect x="1713" y="1002.2" width="21.7" height="4.6" fill="#222"/>
<rect x="1713" y="1700" width="21.7" height="8.6" fill="#555"/>
<rect x="137.4" y="1002.2" width="3.7" height="22" fill="#1c1c1c"/>
<rect x="137.4" y="1687" width="3.7" height="21.6" fill="#1c1c1c"/>
<rect x="1731.1" y="1002.2" width="3.7" height="22" fill="#1c1c1c"/>
<rect x="1731.1" y="1687" width="3.7" height="21.6" fill="#1c1c1c"/>
<rect x="141" y="1119.8" width="18" height="4.4" fill="#404040"/>
<rect x="1713" y="1119.8" width="18" height="4.4" fill="#404040"/>
<rect x="141" y="1233.2" width="18" height="8.6" fill="#8a8a8a"/>
<rect x="1713" y="1233.2" width="18" height="8.6" fill="#8a8a8a"/>
<rect x="141" y="1351.3" width="18" height="4.4" fill="#404040"/>
<rect x="1713" y="1351.3" width="18" height="4.4" fill="#404040"/>
<rect x="141" y="1468.8" width="18" height="4.4" fill="#404040"/>
<rect x="1713" y="1468.8" width="18" height="4.4" fill="#404040"/>
<rect x="141" y="1583.2" width="18" height="8.6" fill="#8a8a8a"/>
<rect x="1713" y="1583.2" width="18" height="8.6" fill="#8a8a8a"/>
<rect x="670" y="1687" width="4.3" height="18" fill="#404040"/>
<rect x="670" y="1006" width="4.3" height="14" fill="#404040"/>
<rect x="1198.5" y="1687" width="8.6" height="14" fill="#8a8a8a"/>
<rect x="1198.5" y="1006" width="8.6" height="14" fill="#8a8a8a"/>
<polygon fill="#8c8c8c" points="140,1551.7 144,1551.7 144.25,1549.0 144.75,1532.7 145,1530.0 153.75,1530.0 154,1535.2 154.50,1550.7 154.75,1555.8 157.75,1555.8 158,1549.8 158.50,1531.8 158.75,1525.8 162.50,1525.8 162.75,1512.7 163,1508.3 167,1508.3 167.25,1509.7 168,1521.7 172,1521.7 172.25,1523.8 173,1543.3 176.25,1543.3 176.50,1547.7 177,1560.7 177.25,1565.0 180.25,1565.0 180.50,1550.6 180.75,1528.9 181,1521.7 184.50,1521.7 185,1517.5 188.50,1517.5 188.75,1511.0 189,1491.4 189.25,1478.3 198,1478.3 198.75,1489.6 199,1490.8 207,1490.8 207.25,1496.1 208,1543.3 211.25,1543.3 211.50,1546.8 212,1557.3 212.25,1560.8 216.25,1560.8 216.50,1569.5 217,1595.5 217.25,1604.2 219.50,1604.2 220,1552.5 228.75,1552.5 229,1557.7 229.50,1573.2 229.75,1578.3 232.50,1578.3 232.75,1552.1 233,1543.3 242,1543.3 242.25,1545.5 243,1565.0 246,1565.0 246.25,1564.1 247,1555.8 251.25,1555.8 251.50,1557.5 251.75,1560.0 252,1560.8 254,1560.8 254.25,1559.8 254.75,1553.5 255,1552.5 259,1552.5 259.25,1550.8 259.75,1540.8 260,1539.2 264,1539.2 264.25,1540.2 264.75,1546.5 265,1547.5 267.75,1547.5 268,1540.7 268.50,1520.2 268.75,1513.3 273.50,1513.3 274,1529.0 274.25,1534.2 282,1534.2 282.25,1539.8 283,1590.8 285.25,1590.8 285.50,1586.5 286,1573.5 286.25,1569.2 290.75,1569.2 291,1570.2 291.50,1573.2 291.75,1574.2 299,1574.2 299.25,1573.5 299.75,1569.8 300,1569.2 303,1569.2 303.25,1566.5 303.75,1550.2 304,1547.5 313,1547.5 313.75,1575.2 314,1578.3 316,1578.3 316.25,1574.4 317,1539.2 321,1539.2 321.25,1537.8 322,1525.8 325.25,1525.8 325.50,1511.4 325.75,1489.7 326,1482.5 330,1482.5 330.25,1485.2 330.75,1501.5 331,1504.2 335,1504.2 335.25,1513.4 335.75,1569.1 336,1578.3 338,1578.3 338.25,1571.2 338.75,1528.8 339,1521.7 344,1521.7 344.25,1523.2 344.75,1532.6 345,1534.2 347,1534.2 347.25,1524.4 347.75,1465.6 348,1455.8 357,1455.8 357.25,1467.3 357.75,1536.0 358,1547.5 360.50,1547.5 361,1544.4 361.25,1543.3 366,1543.3 366.25,1546.6 366.75,1565.9 367,1569.2 369.50,1569.2 370,1566.0 370.25,1565.0 373.50,1565.0 374,1545.6 374.25,1539.2 383,1539.2 383.25,1544.6 383.75,1577.1 384,1582.5 387,1582.5 387.75,1547.2 388,1543.3 391,1543.3 391.25,1539.0 391.75,1512.7 392,1508.3 396,1508.3 396.25,1510.0 396.75,1520.0 397,1521.7 400.75,1521.7 401,1528.1 401.50,1547.5 408.75,1547.5 409,1505.0 409.50,1377.5 418,1377.5 418.25,1393.9 418.75,1492.0 419,1508.3 422,1508.3 422.25,1507.8 422.75,1504.7 423,1504.2 426.50,1504.2 427,1500.8 427.25,1499.7 431.75,1499.7 432,1507.3 432.50,1530.0 436,1530.0 436.25,1531.1 436.75,1538.0 437,1539.2 442.25,1539.2 442.50,1552.5 444.50,1552.5 445,1421.3 445.25,1377.5 454,1377.5 454.25,1390.6 454.75,1469.4 455,1482.5 458,1482.5 458.25,1489.6 458.75,1532.1 459,1539.2 462,1539.2 462.25,1533.6 462.75,1500.5 463,1495.0 467,1495.0 467.25,1497.3 467.75,1511.0 468,1513.3 470,1513.3 470.25,1505.0 470.75,1455.3 471,1447.0 480,1447.0 480.25,1450.9 480.75,1474.4 481,1478.3 484,1478.3 484.25,1475.5 484.75,1458.6 485,1455.8 489,1455.8 489.25,1466.2 489.75,1528.8 490,1539.2 497.75,1539.2 498,1542.5 498.50,1552.5 502,1552.5 502.25,1555.7 502.75,1575.1 503,1578.3 506.75,1578.3 507,1581.5 507.50,1590.8 510,1590.8 510.25,1584.9 510.75,1549.3 511,1543.3 514,1543.3 514.25,1541.1 514.75,1528.0 515,1525.8 520,1525.8 520.25,1530.2 520.75,1556.5 521,1560.8 528,1560.8 528.25,1559.8 528.75,1553.5 529,1552.5 533,1552.5 533.25,1554.1 533.75,1563.4 534,1565.0 537,1565.0 537.25,1565.5 537.75,1568.6 538,1569.2 541.75,1569.2 542,1572.5 542.50,1582.5 546,1582.5 546.25,1583.5 546.75,1589.8 547,1590.8 550,1590.8 550.25,1589.8 550.75,1583.5 551,1582.5 554,1582.5 554.25,1571.6 554.75,1505.9 555,1495.0 558,1495.0 558.25,1491.2 558.75,1468.8 559,1465.0 563,1465.0 563.25,1464.4 563.75,1460.6 564,1460.0 568,1460.0 568.25,1471.6 568.75,1540.9 569,1552.5 576.75,1552.5 577,1555.6 577.50,1565.0 580,1565.0 580.25,1563.4 580.75,1554.1 581,1552.5 584.75,1552.5 585,1534.0 585.50,1478.3 590,1478.3 590.25,1485.9 590.75,1531.6 591,1539.2 594.50,1539.2 595,1526.0 595.25,1521.7 602.75,1521.7 603,1524.8 603.50,1534.2 608,1534.2 608.25,1538.0 608.75,1561.1 609,1565.0 611,1565.0 611.25,1563.4 611.75,1554.1 612,1552.5 616.75,1552.5 617,1555.6 617.50,1565.0 620,1565.0 620.25,1544.7 620.75,1423.3 621,1403.0 625,1403.0 625.25,1409.6 625.75,1449.2 626,1455.8 630,1455.8 630.25,1457.0 630.75,1463.9 631,1465.0 634,1465.0 634.25,1476.5 634.75,1545.2 635,1556.7 638,1556.7 638.25,1550.1 638.75,1510.7 639,1504.2 648,1504.2 648.25,1511.8 648.75,1557.4 649,1565.0 651,1565.0 651.25,1562.8 651.75,1549.7 652,1547.5 656,1547.5 656.25,1548.1 656.75,1551.9 657,1552.5 659.75,1552.5 660,1547.9 660.50,1534.2 665,1534.2 665.25,1539.7 665.75,1572.8 666,1578.3 668.75,1578.3 669,1576.0 669.50,1569.2 673,1569.2 673.25,1554.4 673.75,1466.1 674,1451.3 683,1451.3 683.25,1465.0 683.75,1547.1 684,1560.8 686,1560.8 686.25,1558.6 686.75,1545.5 687,1543.3 691,1543.3 691.25,1539.6 691.75,1517.1 692,1513.3 696,1513.3 696.25,1514.4 696.75,1520.6 697,1521.7 700,1521.7 700.25,1524.9 700.75,1544.3 701,1547.5 714,1547.5 714.25,1549.7 714.75,1562.8 715,1565.0 717,1565.0 717.25,1559.1 717.75,1523.4 718,1517.5 731,1517.5 731.25,1521.9 731.75,1548.1 732,1552.5 735.75,1552.5 736,1553.5 736.50,1556.7 739,1556.7 739.25,1549.5 739.75,1506.8 740,1499.7 743,1499.7 743.25,1491.0 743.75,1438.7 744,1430.0 749,1430.0 749.25,1444.2 749.75,1529.2 750,1543.3 752,1543.3 752.25,1541.1 752.75,1528.0 753,1525.8 754.25,1525.8 754.50,1526.7 757,1526.7 757.25,1521.6 757.75,1491.4 758,1486.3 762,1486.3 762.25,1492.9 762.75,1532.6 763,1539.2 766.50,1539.2 767,1542.3 767.25,1543.3 770,1543.3 770.25,1539.6 770.75,1517.1 771,1513.3 774.50,1513.3 775,1502.7 775.25,1499.2 784,1499.2 784.25,1506.3 784.75,1549.2 785,1556.3 788.50,1556.3 789,1566.0 789.25,1569.2 792.75,1569.2 793,1570.4 793.50,1574.2 796,1574.2 796.25,1573.0 796.75,1566.1 797,1565.0 801,1565.0 801.25,1560.7 801.75,1534.7 802,1530.3 810,1530.3 810.25,1536.3 810.75,1572.3 811,1578.3 814,1578.3 814.25,1571.8 814.75,1532.8 815,1526.3 823.75,1526.3 824,1527.3 824.50,1530.3 827,1530.3 827.25,1528.2 827.75,1515.5 828,1513.3 832.75,1513.3 833,1515.4 833.50,1521.7 837,1521.7 837.25,1524.9 837.75,1544.3 838,1547.5 840,1547.5 840.25,1543.2 840.75,1517.6 841,1513.3 850,1513.3 850.25,1516.6 850.75,1535.9 851,1539.2 855,1539.2 855.25,1541.9 855.75,1558.6 856,1561.3 858.50,1561.3 859,1541.3 859.25,1534.7 862,1534.7 862.25,1527.6 862.75,1485.4 863,1478.3 868,1478.3 868.25,1484.8 868.75,1523.8 869,1530.3 872.50,1530.3 873,1566.3 873.25,1578.3 876.50,1578.3 877,1571.5 877.25,1569.2 885,1569.2 885.25,1569.3 885.75,1569.9 886,1570.0 888.75,1570.0 889,1549.1 889.50,1486.3 898.75,1486.3 899,1493.1 899.50,1513.3 903,1513.3 903.25,1515.0 903.75,1524.7 904,1526.3 911.75,1526.3 912,1539.3 912.50,1578.3 915,1578.3 915.25,1568.4 915.75,1509.1 916,1499.2 920,1499.2 920.25,1475.8 920.75,1335.4 921,1312.0 925.50,1312.0 926,1442.8 926.25,1486.3 929,1486.3 929.25,1492.9 929.75,1532.6 930,1539.2 934,1539.2 934.25,1543.0 934.75,1566.1 935,1570.0 941.75,1570.0 942,1566.6 942.50,1556.3 951,1556.3 951.25,1557.4 951.75,1563.9 952,1565.0 955,1565.0 955.25,1561.2 955.75,1538.5 956,1534.7 964,1534.7 964.25,1529.7 964.75,1500.0 965,1495.0 973,1495.0 973.25,1500.5 973.75,1533.6 974,1539.2 977.75,1539.2 978,1546.7 978.50,1569.2 981,1569.2 981.25,1560.4 981.75,1507.9 982,1499.2 986.75,1499.2 987,1500.4 987.50,1504.2 991,1504.2 991.25,1510.7 991.75,1549.8 992,1556.3 995.50,1556.3 996,1560.1 996.25,1561.3 1003,1561.3 1003.25,1560.2 1003.75,1553.2 1004,1552.0 1008.75,1552.0 1009,1554.3 1009.50,1561.3 1013,1561.3 1013.25,1561.8 1013.75,1564.5 1014,1565.0 1018,1565.0 1018.25,1566.7 1018.75,1576.7 1019,1578.3 1022,1578.3 1022.25,1579.4 1022.75,1585.6 1023,1586.7 1025,1586.7 1025.25,1582.9 1025.75,1560.1 1026,1556.3 1031,1556.3 1031.25,1559.1 1031.75,1575.6 1032,1578.3 1034.50,1578.3 1035,1542.3 1035.25,1530.3 1043.75,1530.3 1044,1535.8 1044.50,1552.0 1047,1552.0 1047.25,1551.4 1047.75,1548.1 1048,1547.5 1052,1547.5 1052.25,1542.1 1052.75,1509.6 1053,1504.2 1057,1504.2 1057.25,1506.9 1057.75,1523.6 1058,1526.3 1061.75,1526.3 1062,1532.8 1062.50,1552.0 1065.25,1552.0 1065.50,1482.5 1075,1482.5 1075.25,1492.4 1075.75,1551.5 1076,1561.3 1079.50,1561.3 1080,1564.1 1080.25,1565.0 1083.75,1565.0 1084,1569.4 1084.50,1582.5 1091.50,1582.5 1092,1572.5 1092.25,1569.2 1095.75,1569.2 1096,1564.9 1096.50,1552.0 1100,1552.0 1100.25,1544.4 1100.75,1498.9 1101,1491.3 1109,1491.3 1109.25,1485.9 1109.75,1453.0 1110,1447.5 1114,1447.5 1114.25,1453.0 1114.75,1485.9 1115,1491.3 1122,1491.3 1122.25,1468.4 1122.75,1330.9 1123,1308.0 1132,1308.0 1132.25,1342.8 1132.75,1551.8 1133,1586.7 1136,1586.7 1136.25,1587.3 1136.75,1591.0 1137,1591.7 1140,1591.7 1140.25,1590.5 1140.75,1583.6 1141,1582.5 1149,1582.5 1149.25,1568.3 1149.75,1483.3 1150,1469.2 1154,1469.2 1154.25,1479.0 1154.75,1537.7 1155,1547.5 1157,1547.5 1157.25,1531.7 1157.75,1437.1 1158,1421.3 1163,1421.3 1163.25,1425.1 1163.75,1447.6 1164,1451.3 1167,1451.3 1167.25,1457.9 1167.75,1497.6 1168,1504.2 1171,1504.2 1171.25,1501.9 1171.75,1488.6 1172,1486.3 1176,1486.3 1176.25,1492.4 1176.75,1528.6 1177,1534.7 1180,1534.7 1180.25,1541.2 1180.75,1580.2 1181,1586.7 1184,1586.7 1184.25,1586.1 1184.75,1583.0 1185,1582.5 1188,1582.5 1188.25,1574.4 1188.75,1525.6 1189,1517.5 1198,1517.5 1198.25,1518.0 1198.75,1521.1 1199,1521.7 1207,1521.7 1207.25,1529.8 1207.75,1578.5 1208,1586.7 1210.50,1586.7 1211,1577.3 1211.25,1574.2 1215.50,1574.2 1216,1571.0 1216.25,1570.0 1219.50,1570.0 1220,1566.3 1220.25,1565.0 1224.50,1565.0 1225,1558.5 1225.25,1556.3 1232.75,1556.3 1233,1562.9 1233.50,1582.5 1236.75,1582.5 1237,1580.4 1237.50,1574.2 1241,1574.2 1241.25,1570.8 1241.75,1550.8 1242,1547.5 1246,1547.5 1246.25,1541.5 1246.75,1505.2 1247,1499.2 1251,1499.2 1251.25,1501.5 1251.75,1515.2 1252,1517.5 1255,1517.5 1255.25,1527.2 1255.75,1585.3 1256,1595.0 1259,1595.0 1259.25,1593.4 1259.75,1584.1 1260,1582.5 1263,1582.5 1263.25,1580.8 1263.75,1570.8 1264,1569.2 1268,1569.2 1268.25,1567.6 1268.75,1557.9 1269,1556.3 1272.75,1556.3 1273,1555.2 1273.50,1552.0 1285.75,1552.0 1286,1557.5 1286.50,1574.2 1290,1574.2 1290.25,1573.0 1290.75,1566.1 1291,1565.0 1294.75,1565.0 1295,1567.3 1295.50,1574.2 1299,1574.2 1299.25,1575.2 1299.75,1581.5 1300,1582.5 1307,1582.5 1307.25,1578.1 1307.75,1551.9 1308,1547.5 1313,1547.5 1313.25,1548.6 1313.75,1555.2 1314,1556.3 1317,1556.3 1317.25,1560.1 1317.75,1582.9 1318,1586.7 1321.50,1586.7 1322,1592.9 1322.25,1595.0 1329,1595.0 1329.25,1594.0 1329.75,1587.7 1330,1586.7 1334,1586.7 1334.25,1579.6 1334.75,1537.4 1335,1530.3 1343,1530.3 1343.25,1533.6 1343.75,1553.1 1344,1556.3 1348,1556.3 1348.25,1559.1 1348.75,1575.6 1349,1578.3 1351.50,1578.3 1352,1496.5 1352.25,1469.2 1356,1469.2 1356.25,1462.0 1356.75,1419.1 1357,1412.0 1361,1412.0 1361.25,1428.4 1361.75,1526.9 1362,1543.3 1364.50,1543.3 1365,1520.8 1365.25,1513.3 1373.75,1513.3 1374,1518.7 1374.50,1534.7 1379.75,1534.7 1380,1541.3 1380.50,1561.3 1382.50,1561.3 1383,1551.0 1383.25,1547.5 1386.75,1547.5 1387,1539.0 1387.50,1513.3 1391,1513.3 1391.25,1506.2 1391.75,1463.5 1392,1456.3 1396.50,1456.3 1397,1511.8 1397.25,1530.3 1405,1530.3 1405.25,1532.0 1405.75,1541.7 1406,1543.3 1409.75,1543.3 1410,1546.6 1410.50,1556.3 1414,1556.3 1414.25,1558.6 1414.75,1571.9 1415,1574.2 1417,1574.2 1417.25,1560.6 1417.75,1478.9 1418,1465.3 1423,1465.3 1423.25,1473.0 1423.75,1518.7 1424,1526.3 1427,1526.3 1427.25,1531.2 1427.75,1560.2 1428,1565.0 1435,1565.0 1435.25,1557.9 1435.75,1515.4 1436,1508.3 1445,1508.3 1445.25,1519.2 1445.75,1584.2 1446,1595.0 1448.50,1595.0 1449,1575.6 1449.25,1569.2 1453,1569.2 1453.25,1565.4 1453.75,1542.9 1454,1539.2 1461.75,1539.2 1462,1545.6 1462.50,1565.0 1466.75,1565.0 1467,1566.0 1467.50,1569.2 1470,1569.2 1470.25,1558.3 1470.75,1493.3 1471,1482.5 1476,1482.5 1476.25,1486.4 1476.75,1509.5 1477,1513.3 1480,1513.3 1480.25,1523.1 1480.75,1581.9 1481,1591.7 1483,1591.7 1483.25,1591.0 1483.75,1587.3 1484,1586.7 1488,1586.7 1488.25,1581.8 1488.75,1552.4 1489,1547.5 1492,1547.5 1492.25,1540.5 1492.75,1498.4 1493,1491.3 1502,1491.3 1502.25,1502.2 1502.75,1567.5 1503,1578.3 1505,1578.3 1505.25,1576.2 1505.75,1563.5 1506,1561.3 1510.75,1561.3 1511,1563.3 1511.50,1569.2 1514,1569.2 1514.25,1568.2 1514.75,1562.3 1515,1561.3 1519,1561.3 1519.25,1560.2 1519.75,1553.2 1520,1552.0 1523.50,1552.0 1524,1539.0 1524.25,1534.7 1532.75,1534.7 1533,1543.3 1533.50,1569.2 1536.50,1569.2 1537,1507.0 1537.25,1486.3 1541,1486.3 1541.25,1430.2 1541.75,1093.2 1542,1037.0 1546.50,1037.0 1547,1358.2 1547.25,1465.3 1549,1465.3 1549.25,1463.6 1549.75,1453.1 1550,1451.3 1559,1451.3 1559.25,1469.3 1559.75,1577.0 1560,1595.0 1562.50,1595.0 1563,1591.9 1563.25,1590.8 1567,1590.8 1567.25,1579.4 1567.75,1510.6 1568,1499.2 1577,1499.2 1577.25,1505.8 1577.75,1545.4 1578,1552.0 1580,1552.0 1580.25,1546.5 1580.75,1513.8 1581,1508.3 1590,1508.3 1590.25,1515.9 1590.75,1561.6 1591,1569.2 1594,1569.2 1594.25,1568.2 1594.75,1562.3 1595,1561.3 1602,1561.3 1602.25,1560.7 1602.75,1557.0 1603,1556.3 1608,1556.3 1608.25,1557.0 1608.75,1560.7 1609,1561.3 1611.50,1561.3 1612,1554.3 1612.25,1552.0 1616,1552.0 1616.25,1550.9 1616.75,1544.4 1617,1543.3 1620.50,1543.3 1621,1540.2 1621.25,1539.2 1625,1539.2 1625.25,1541.9 1625.75,1558.6 1626,1561.3 1630,1561.3 1630.25,1562.9 1630.75,1572.6 1631,1574.2 1633,1574.2 1633.25,1572.6 1633.75,1562.9 1634,1561.3 1638,1561.3 1638.25,1557.0 1638.75,1530.7 1639,1526.3 1642,1526.3 1642.25,1522.9 1642.75,1502.6 1643,1499.2 1652,1499.2 1652.25,1507.4 1652.75,1556.8 1653,1565.0 1660,1565.0 1660.25,1562.8 1660.75,1549.7 1661,1547.5 1665,1547.5 1665.25,1551.4 1665.75,1574.5 1666,1578.3 1668,1578.3 1668.25,1576.2 1668.75,1563.5 1669,1561.3 1673,1561.3 1673.25,1553.0 1673.75,1503.3 1674,1495.0 1677,1495.0 1677.25,1485.3 1677.75,1426.7 1678,1417.0 1687,1417.0 1687.25,1430.7 1687.75,1512.7 1688,1526.3 1690.25,1526.3 1690.50,1556.3 1695.75,1556.3 1696,1558.5 1696.50,1565.0 1700,1565.0 1700.25,1565.5 1700.75,1568.6 1701,1569.2 1704,1569.2 1704.25,1568.2 1704.75,1562.3 1705,1561.3 1712.50,1561.3 1713,1557.6 1713.25,1556.3 1716.75,1556.3 1717,1554.1 1717.50,1547.5 1721,1547.5 1721.25,1545.4 1721.75,1532.5 1722,1530.3 1726,1530.3 1726.25,1527.6 1726.75,1511.1 1727,1508.3 1730.50,1508.3 1731,1498.3 1731.25,1495.0 1734,1495.0 1734,1590.0 1732.25,1590.0 1732,1592.3 1731.50,1599.2 1728,1599.2 1727.75,1600.8 1727.25,1610.8 1727,1612.5 1723,1612.5 1722.75,1614.2 1722.25,1624.2 1722,1625.8 1713.25,1625.8 1713,1622.5 1712.50,1612.5 1710,1612.5 1709.75,1613.6 1709.25,1620.5 1709,1621.7 1706,1621.7 1705.75,1622.2 1705.25,1625.3 1705,1625.8 1700,1625.8 1699.75,1624.2 1699.25,1614.2 1699,1612.5 1689.50,1612.5 1689.25,1599.2 1688,1599.2 1687.75,1600.3 1687.25,1607.2 1687,1608.3 1679,1608.3 1678.75,1609.4 1678.25,1615.6 1678,1616.7 1665,1616.7 1664.75,1616.1 1664.25,1613.0 1664,1612.5 1661,1612.5 1660.75,1612.0 1660.25,1608.9 1660,1608.3 1657.25,1608.3 1657,1612.7 1656.50,1625.8 1652,1625.8 1651.75,1624.7 1651.25,1617.8 1651,1616.7 1647.50,1616.7 1647,1613.5 1646.75,1612.5 1644,1612.5 1643.75,1614.2 1643.25,1624.2 1643,1625.8 1639,1625.8 1638.75,1625.3 1638.25,1622.2 1638,1621.7 1635,1621.7 1634.75,1622.2 1634.25,1625.3 1634,1625.8 1630,1625.8 1629.75,1625.3 1629.25,1622.2 1629,1621.7 1617,1621.7 1616.75,1621.0 1616.25,1617.3 1616,1616.7 1613.25,1616.7 1613,1617.9 1612.50,1621.7 1608,1621.7 1607.75,1621.0 1607.25,1617.3 1607,1616.7 1604,1616.7 1603.75,1617.3 1603.25,1621.0 1603,1621.7 1596,1621.7 1595.75,1622.2 1595.25,1625.3 1595,1625.8 1585.50,1625.8 1585,1622.7 1584.75,1621.7 1578,1621.7 1577.75,1622.2 1577.25,1625.3 1577,1625.8 1569,1625.8 1568.75,1626.3 1568.25,1629.2 1568,1629.7 1565,1629.7 1564.75,1631.9 1564.25,1645.3 1564,1647.5 1559,1647.5 1558.75,1644.3 1558.25,1624.9 1558,1621.7 1555,1621.7 1554.75,1618.9 1554.25,1602.0 1554,1599.2 1551,1599.2 1550.75,1600.3 1550.25,1607.2 1550,1608.3 1546.25,1608.3 1546,1602.9 1545.50,1586.7 1543,1586.7 1542.75,1590.4 1542.25,1612.9 1542,1616.7 1538.25,1616.7 1538,1617.9 1537.50,1621.7 1528.25,1621.7 1528,1619.4 1527.50,1612.5 1525.25,1612.5 1525,1615.8 1524.50,1625.8 1498.50,1625.8 1498,1628.7 1497.75,1629.7 1494,1629.7 1493.75,1630.8 1493.25,1637.5 1493,1638.7 1484,1638.7 1483.75,1637.5 1483.25,1630.8 1483,1629.7 1480,1629.7 1479.75,1627.0 1479.25,1611.0 1479,1608.3 1476,1608.3 1475.75,1607.2 1475.25,1600.3 1475,1599.2 1472,1599.2 1471.75,1603.0 1471.25,1625.9 1471,1629.7 1462.25,1629.7 1462,1626.4 1461.50,1616.7 1459,1616.7 1458.75,1618.3 1458.25,1628.0 1458,1629.7 1449.25,1629.7 1449,1627.7 1448.50,1621.7 1445,1621.7 1444.75,1621.0 1444.25,1617.3 1444,1616.7 1437,1616.7 1436.75,1617.3 1436.25,1621.0 1436,1621.7 1427,1621.7 1426.75,1620.5 1426.25,1613.6 1426,1612.5 1424,1612.5 1423.75,1613.6 1423.25,1620.5 1423,1621.7 1415,1621.7 1414.75,1622.2 1414.25,1625.3 1414,1625.8 1405,1625.8 1404.75,1625.3 1404.25,1622.2 1404,1621.7 1396.25,1621.7 1396,1617.1 1395.50,1603.3 1393,1603.3 1392.75,1605.6 1392.25,1619.4 1392,1621.7 1388.50,1621.7 1388,1627.7 1387.75,1629.7 1384.25,1629.7 1384,1630.8 1383.50,1634.2 1377.50,1634.2 1377.25,1603.3 1374.50,1603.3 1374,1607.1 1373.75,1608.3 1370.50,1608.3 1370,1614.6 1369.75,1616.7 1361,1616.7 1360.75,1614.0 1360.25,1597.7 1360,1595.0 1358,1595.0 1357.75,1599.9 1357.25,1629.3 1357,1634.2 1348,1634.2 1347.75,1632.6 1347.25,1623.2 1347,1621.7 1343,1621.7 1342.75,1619.4 1342.25,1605.6 1342,1603.3 1339.50,1603.3 1339,1617.1 1338.75,1621.7 1336,1621.7 1335.75,1622.2 1335.25,1625.3 1335,1625.8 1331,1625.8 1330.75,1627.4 1330.25,1637.1 1330,1638.7 1325.50,1638.7 1325,1625.9 1324.75,1621.7 1321.25,1621.7 1321,1620.4 1320.50,1616.7 1318,1616.7 1317.75,1617.3 1317.25,1621.0 1317,1621.7 1313.25,1621.7 1313,1622.7 1312.50,1625.8 1304,1625.8 1303.75,1625.3 1303.25,1622.2 1303,1621.7 1299,1621.7 1298.75,1621.0 1298.25,1617.3 1298,1616.7 1294.50,1616.7 1294,1613.5 1293.75,1612.5 1286.25,1612.5 1286,1610.2 1285.50,1603.3 1283,1603.3 1282.75,1604.5 1282.25,1611.4 1282,1612.5 1277.50,1612.5 1277,1619.4 1276.75,1621.7 1270,1621.7 1269.75,1622.2 1269.25,1625.3 1269,1625.8 1265,1625.8 1264.75,1626.3 1264.25,1629.2 1264,1629.7 1260,1629.7 1259.75,1629.2 1259.25,1626.3 1259,1625.8 1251,1625.8 1250.75,1623.6 1250.25,1610.5 1250,1608.3 1248,1608.3 1247.75,1609.4 1247.25,1615.6 1247,1616.7 1242,1616.7 1241.75,1616.1 1241.25,1613.0 1241,1612.5 1238.50,1612.5 1238,1619.4 1237.75,1621.7 1229.50,1621.7 1229,1627.7 1228.75,1629.7 1220.25,1629.7 1220,1627.7 1219.50,1621.7 1216.25,1621.7 1216,1620.4 1215.50,1616.7 1211.50,1616.7 1211,1629.8 1210.75,1634.2 1203,1634.2 1202.75,1632.0 1202.25,1618.9 1202,1616.7 1198,1616.7 1197.75,1616.1 1197.25,1613.0 1197,1612.5 1194.50,1612.5 1194,1625.4 1193.75,1629.7 1185,1629.7 1184.75,1628.7 1184.25,1622.7 1184,1621.7 1177,1621.7 1176.75,1622.2 1176.25,1625.3 1176,1625.8 1172,1625.8 1171.75,1625.3 1171.25,1622.2 1171,1621.7 1167,1621.7 1166.75,1617.3 1166.25,1591.0 1166,1586.7 1164,1586.7 1163.75,1590.4 1163.25,1612.9 1163,1616.7 1154,1616.7 1153.75,1616.1 1153.25,1613.0 1153,1612.5 1145.50,1612.5 1145,1628.7 1144.75,1634.2 1136,1634.2 1135.75,1632.6 1135.25,1623.2 1135,1621.7 1132,1621.7 1131.75,1620.0 1131.25,1610.0 1131,1608.3 1128.50,1608.3 1128,1621.5 1127.75,1625.8 1124,1625.8 1123.75,1626.3 1123.25,1629.2 1123,1629.7 1120,1629.7 1119.75,1630.2 1119.25,1633.6 1119,1634.2 1114,1634.2 1113.75,1625.5 1113.25,1573.6 1113,1565.0 1111,1565.0 1110.75,1569.8 1110.25,1598.5 1110,1603.3 1106.50,1603.3 1106,1620.2 1105.75,1625.8 1101,1625.8 1100.75,1624.2 1100.25,1614.2 1100,1612.5 1097.50,1612.5 1097,1625.4 1096.75,1629.7 1089,1629.7 1088.75,1630.2 1088.25,1633.6 1088,1634.2 1075,1634.2 1074.75,1632.6 1074.25,1623.2 1074,1621.7 1065.50,1621.7 1065.25,1612.5 1062.50,1612.5 1062,1622.5 1061.75,1625.8 1053,1625.8 1052.75,1625.3 1052.25,1622.2 1052,1621.7 1040.50,1621.7 1040,1631.0 1039.75,1634.2 1035.25,1634.2 1035,1633.0 1034.50,1629.7 1031,1629.7 1030.75,1628.7 1030.25,1622.7 1030,1621.7 1023,1621.7 1022.75,1622.7 1022.25,1628.7 1022,1629.7 1018,1629.7 1017.75,1628.7 1017.25,1622.7 1017,1621.7 1013,1621.7 1012.75,1620.5 1012.25,1613.6 1012,1612.5 1009.50,1612.5 1009,1619.4 1008.75,1621.7 1004,1621.7 1003.75,1620.5 1003.25,1613.6 1003,1612.5 1000.50,1612.5 1000,1615.6 999.75,1616.7 991,1616.7 990.75,1614.5 990.25,1601.4 990,1599.2 987.50,1599.2 987,1612.3 986.75,1616.7 982,1616.7 981.75,1616.1 981.25,1613.0 981,1612.5 978.25,1612.5 978,1608.1 977.50,1595.0 973.50,1595.0 973,1591.2 972.75,1590.0 970.25,1590.0 970,1597.9 969.50,1621.7 965,1621.7 964.75,1621.0 964.25,1617.3 964,1616.7 960.25,1616.7 960,1614.6 959.50,1608.3 948,1608.3 947.75,1612.1 947.25,1634.9 947,1638.7 938.25,1638.7 938,1635.5 937.50,1625.8 934,1625.8 933.75,1624.7 933.25,1617.8 933,1616.7 929,1616.7 928.75,1614.5 928.25,1601.4 928,1599.2 925.25,1599.2 925,1593.8 924.50,1577.5 922,1577.5 921.75,1581.4 921.25,1604.5 921,1608.3 917,1608.3 916.75,1610.0 916.25,1620.0 916,1621.7 911.50,1621.7 911,1614.8 910.75,1612.5 904,1612.5 903.75,1613.6 903.25,1620.5 903,1621.7 894.25,1621.7 894,1615.0 893.50,1595.0 890.50,1595.0 890,1621.0 889.75,1629.7 881,1629.7 880.75,1629.2 880.25,1626.3 880,1625.8 877.25,1625.8 877,1624.8 876.50,1621.7 868,1621.7 867.75,1620.0 867.25,1610.0 867,1608.3 864,1608.3 863.75,1611.0 863.25,1627.0 863,1629.7 855,1629.7 854.75,1625.9 854.25,1603.0 854,1599.2 846.50,1599.2 846,1619.2 845.75,1625.8 837,1625.8 836.75,1622.5 836.25,1602.5 836,1599.2 833.50,1599.2 833,1612.3 832.75,1616.7 823.50,1616.7 823,1606.7 822.75,1603.3 819.50,1603.3 819,1623.1 818.75,1629.7 810,1629.7 809.75,1627.5 809.25,1614.6 809,1612.5 803,1612.5 802.75,1615.8 802.25,1635.4 802,1638.7 797,1638.7 796.75,1637.5 796.25,1630.8 796,1629.7 792.50,1629.7 792,1613.7 791.75,1608.3 784,1608.3 783.75,1607.2 783.25,1600.3 783,1599.2 780.50,1599.2 780,1602.3 779.75,1603.3 776.25,1603.3 776,1606.7 775.50,1616.7 772,1616.7 771.75,1617.3 771.25,1621.0 771,1621.7 766.25,1621.7 766,1620.4 765.50,1616.7 762,1616.7 761.75,1614.5 761.25,1601.4 761,1599.2 753.50,1599.2 753.25,1595.0 749,1595.0 748.75,1593.3 748.25,1583.3 748,1581.7 745,1581.7 744.75,1585.0 744.25,1605.0 744,1608.3 735.50,1608.3 735,1604.6 734.75,1603.3 732,1603.3 731.75,1604.0 731.25,1607.7 731,1608.3 719,1608.3 718.75,1610.5 718.25,1623.6 718,1625.8 714,1625.8 713.75,1624.7 713.25,1617.8 713,1616.7 710.50,1616.7 710,1620.4 709.75,1621.7 706,1621.7 705.75,1622.2 705.25,1625.3 705,1625.8 696,1625.8 695.75,1624.7 695.25,1617.8 695,1616.7 684,1616.7 683.75,1617.8 683.25,1624.7 683,1625.8 678.25,1625.8 678,1624.8 677.50,1621.7 665,1621.7 664.75,1621.0 664.25,1617.3 664,1616.7 657,1616.7 656.75,1618.3 656.25,1628.0 656,1629.7 648,1629.7 647.75,1628.7 647.25,1622.7 647,1621.7 643.25,1621.7 643,1619.4 642.50,1612.5 639,1612.5 638.75,1612.0 638.25,1608.9 638,1608.3 634,1608.3 633.75,1605.6 633.25,1589.4 633,1586.7 630,1586.7 629.75,1585.0 629.25,1575.0 629,1573.3 626,1573.3 625.75,1579.4 625.25,1615.6 625,1621.7 613,1621.7 612.75,1623.2 612.25,1632.6 612,1634.2 603.25,1634.2 603,1628.8 602.50,1612.5 600,1612.5 599.75,1614.2 599.25,1624.2 599,1625.8 594.50,1625.8 594,1615.8 593.75,1612.5 586.50,1612.5 586,1625.4 585.75,1629.7 582,1629.7 581.75,1630.2 581.25,1633.6 581,1634.2 577,1634.2 576.75,1633.6 576.25,1630.2 576,1629.7 572.50,1629.7 572,1626.8 571.75,1625.8 564,1625.8 563.75,1619.3 563.25,1579.9 563,1573.3 560,1573.3 559.75,1579.9 559.25,1619.3 559,1625.8 556,1625.8 555.75,1627.4 555.25,1636.8 555,1638.3 546,1638.3 545.75,1636.2 545.25,1623.8 545,1621.7 542.50,1621.7 542,1624.8 541.75,1625.8 533,1625.8 532.75,1625.3 532.25,1622.2 532,1621.7 530,1621.7 529.75,1622.2 529.25,1625.3 529,1625.8 520,1625.8 519.75,1624.2 519.25,1614.2 519,1612.5 516,1612.5 515.75,1614.6 515.25,1627.5 515,1629.7 506.50,1629.7 506,1616.8 505.75,1612.5 498.50,1612.5 498,1625.4 497.75,1629.7 493.25,1629.7 493,1627.7 492.50,1621.7 489,1621.7 488.75,1619.4 488.25,1605.6 488,1603.3 485,1603.3 484.75,1600.1 484.25,1580.7 484,1577.5 480,1577.5 479.75,1575.9 479.25,1566.6 479,1565.0 477,1565.0 476.75,1569.8 476.25,1598.5 476,1603.3 468,1603.3 467.75,1605.6 467.25,1619.4 467,1621.7 458,1621.7 457.75,1619.4 457.25,1605.6 457,1603.3 454,1603.3 453.75,1602.2 453.25,1595.3 453,1594.2 450,1594.2 449.75,1595.9 449.25,1606.6 449,1608.3 446.25,1608.3 446,1611.7 445.50,1621.7 436,1621.7 435.75,1618.3 435.25,1598.3 435,1595.0 431.50,1595.0 431,1572.5 430.75,1565.0 428.25,1565.0 428,1573.8 427.50,1600.0 424,1600.0 423.75,1602.1 423.25,1614.6 423,1616.7 418,1616.7 417.75,1609.1 417.25,1563.4 417,1555.8 414.50,1555.8 414,1614.6 413.75,1634.2 409.50,1634.2 409,1631.0 408.75,1630.0 405,1630.0 404.75,1629.0 404.25,1622.7 404,1621.7 400.50,1621.7 400,1617.9 399.75,1616.7 396,1616.7 395.75,1616.1 395.25,1613.0 395,1612.5 393,1612.5 392.75,1613.6 392.25,1620.5 392,1621.7 383,1621.7 382.75,1621.0 382.25,1617.3 382,1616.7 380,1616.7 379.75,1618.9 379.25,1632.0 379,1634.2 374.25,1634.2 374,1632.1 373.50,1625.8 371.25,1625.8 371,1626.9 370.50,1630.0 366,1630.0 365.75,1629.0 365.25,1622.7 365,1621.7 362.25,1621.7 362,1624.8 361.50,1634.2 357,1634.2 356.75,1633.6 356.25,1630.5 356,1630.0 353,1630.0 352.75,1629.5 352.25,1626.4 352,1625.8 348,1625.8 347.75,1624.7 347.25,1617.8 347,1616.7 345,1616.7 344.75,1619.4 344.25,1635.6 344,1638.3 335,1638.3 334.75,1636.8 334.25,1627.4 334,1625.8 331,1625.8 330.75,1627.4 330.25,1636.8 330,1638.3 322,1638.3 321.25,1623.3 321,1621.7 314,1621.7 313.75,1622.1 313,1625.8 304,1625.8 303.75,1625.3 303.25,1622.2 303,1621.7 287.25,1621.7 287,1623.3 286.50,1628.3 286.25,1630.0 282,1630.0 281.25,1626.2 281,1625.8 277.50,1625.8 277,1622.1 276.75,1620.8 274.25,1620.8 274,1622.1 273.50,1625.8 269.75,1625.8 269.50,1627.7 269,1633.2 268.75,1635.0 264,1635.0 263.75,1633.3 263.25,1623.3 263,1621.7 255.50,1621.7 255.25,1620.8 254.50,1612.5 251,1612.5 250.75,1611.1 250.50,1606.9 250.25,1604.2 248,1604.2 247.25,1623.7 247,1625.8 229,1625.8 228.75,1624.7 228.25,1617.8 228,1616.7 226,1616.7 225.75,1618.3 225.25,1628.3 225,1630.0 221.50,1630.0 221.25,1630.4 220.50,1634.2 216.25,1634.2 216,1632.5 215.50,1627.5 215.25,1625.8 211.25,1625.8 211,1623.2 210.50,1615.2 210.25,1612.5 207,1612.5 206.25,1593.0 206,1590.8 199,1590.8 198.75,1595.2 198,1635.0 189.25,1635.0 189,1631.9 188.75,1627.4 188.50,1625.8 186.50,1625.8 186.25,1626.2 185.50,1630.0 167,1630.0 166.25,1594.8 166,1590.8 159.75,1590.8 159.50,1592.7 159,1598.2 158.75,1600.0 150,1600.0 149.75,1598.9 149.25,1592.0 149,1590.8 146,1590.8 145.75,1595.7 145.25,1625.1 145,1630.0 140,1630.0"/>
<polygon fill="#404040" points="140,1554.7 144,1554.7 144.25,1552.0 144.75,1535.7 145,1533.0 153.75,1533.0 154,1538.2 154.50,1553.7 154.75,1558.8 157.75,1558.8 158,1552.8 158.50,1534.8 158.75,1528.8 162.50,1528.8 162.75,1515.7 163,1511.3 167,1511.3 167.25,1512.7 168,1524.7 172,1524.7 172.25,1526.8 173,1546.3 176.25,1546.3 176.50,1550.7 177,1563.7 177.25,1568.0 180.25,1568.0 180.50,1553.6 180.75,1531.9 181,1524.7 184.50,1524.7 185,1520.5 188.50,1520.5 188.75,1514.0 189,1494.4 189.25,1481.3 198,1481.3 198.75,1492.6 199,1493.8 207,1493.8 207.25,1499.1 208,1546.3 211.25,1546.3 211.50,1549.8 212,1560.3 212.25,1563.8 216.25,1563.8 216.50,1572.5 217,1598.5 217.25,1607.2 219.50,1607.2 220,1555.5 228.75,1555.5 229,1560.7 229.50,1576.2 229.75,1581.3 232.50,1581.3 232.75,1555.1 233,1546.3 242,1546.3 242.25,1548.5 243,1568.0 246,1568.0 246.25,1567.1 247,1558.8 251.25,1558.8 251.50,1560.5 251.75,1563.0 252,1563.8 254,1563.8 254.25,1562.8 254.75,1556.5 255,1555.5 259,1555.5 259.25,1553.8 259.75,1543.8 260,1542.2 264,1542.2 264.25,1543.2 264.75,1549.5 265,1550.5 267.75,1550.5 268,1543.7 268.50,1523.2 268.75,1516.3 273.50,1516.3 274,1532.0 274.25,1537.2 282,1537.2 282.25,1542.8 283,1593.8 285.25,1593.8 285.50,1589.5 286,1576.5 286.25,1572.2 290.75,1572.2 291,1573.2 291.50,1576.2 291.75,1577.2 299,1577.2 299.25,1576.5 299.75,1572.8 300,1572.2 303,1572.2 303.25,1569.5 303.75,1553.2 304,1550.5 313,1550.5 313.75,1578.2 314,1581.3 316,1581.3 316.25,1577.4 317,1542.2 321,1542.2 321.25,1540.8 322,1528.8 325.25,1528.8 325.50,1514.4 325.75,1492.7 326,1485.5 330,1485.5 330.25,1488.2 330.75,1504.5 331,1507.2 335,1507.2 335.25,1516.4 335.75,1572.1 336,1581.3 338,1581.3 338.25,1574.2 338.75,1531.8 339,1524.7 344,1524.7 344.25,1526.2 344.75,1535.6 345,1537.2 347,1537.2 347.25,1527.4 347.75,1468.6 348,1458.8 357,1458.8 357.25,1470.3 357.75,1539.0 358,1550.5 360.50,1550.5 361,1547.4 361.25,1546.3 366,1546.3 366.25,1549.6 366.75,1568.9 367,1572.2 369.50,1572.2 370,1569.0 370.25,1568.0 373.50,1568.0 374,1548.6 374.25,1542.2 383,1542.2 383.25,1547.6 383.75,1580.1 384,1585.5 387,1585.5 387.75,1550.2 388,1546.3 391,1546.3 391.25,1542.0 391.75,1515.7 392,1511.3 396,1511.3 396.25,1513.0 396.75,1523.0 397,1524.7 400.75,1524.7 401,1531.1 401.50,1550.5 408.75,1550.5 409,1508.0 409.50,1380.5 418,1380.5 418.25,1396.9 418.75,1495.0 419,1511.3 422,1511.3 422.25,1510.8 422.75,1507.7 423,1507.2 426.50,1507.2 427,1503.8 427.25,1502.7 431.75,1502.7 432,1510.3 432.50,1533.0 436,1533.0 436.25,1534.1 436.75,1541.0 437,1542.2 442.25,1542.2 442.50,1555.5 444.50,1555.5 445,1424.3 445.25,1380.5 454,1380.5 454.25,1393.6 454.75,1472.4 455,1485.5 458,1485.5 458.25,1492.6 458.75,1535.1 459,1542.2 462,1542.2 462.25,1536.6 462.75,1503.5 463,1498.0 467,1498.0 467.25,1500.3 467.75,1514.0 468,1516.3 470,1516.3 470.25,1508.0 470.75,1458.3 471,1450.0 480,1450.0 480.25,1453.9 480.75,1477.4 481,1481.3 484,1481.3 484.25,1478.5 484.75,1461.6 485,1458.8 489,1458.8 489.25,1469.2 489.75,1531.8 490,1542.2 497.75,1542.2 498,1545.5 498.50,1555.5 502,1555.5 502.25,1558.7 502.75,1578.1 503,1581.3 506.75,1581.3 507,1584.5 507.50,1593.8 510,1593.8 510.25,1587.9 510.75,1552.3 511,1546.3 514,1546.3 514.25,1544.1 514.75,1531.0 515,1528.8 520,1528.8 520.25,1533.2 520.75,1559.5 521,1563.8 528,1563.8 528.25,1562.8 528.75,1556.5 529,1555.5 533,1555.5 533.25,1557.1 533.75,1566.4 534,1568.0 537,1568.0 537.25,1568.5 537.75,1571.6 538,1572.2 541.75,1572.2 542,1575.5 542.50,1585.5 546,1585.5 546.25,1586.5 546.75,1592.8 547,1593.8 550,1593.8 550.25,1592.8 550.75,1586.5 551,1585.5 554,1585.5 554.25,1574.6 554.75,1508.9 555,1498.0 558,1498.0 558.25,1494.2 558.75,1471.8 559,1468.0 563,1468.0 563.25,1467.4 563.75,1463.6 564,1463.0 568,1463.0 568.25,1474.6 568.75,1543.9 569,1555.5 576.75,1555.5 577,1558.6 577.50,1568.0 580,1568.0 580.25,1566.4 580.75,1557.1 581,1555.5 584.75,1555.5 585,1537.0 585.50,1481.3 590,1481.3 590.25,1488.9 590.75,1534.6 591,1542.2 594.50,1542.2 595,1529.0 595.25,1524.7 602.75,1524.7 603,1527.8 603.50,1537.2 608,1537.2 608.25,1541.0 608.75,1564.1 609,1568.0 611,1568.0 611.25,1566.4 611.75,1557.1 612,1555.5 616.75,1555.5 617,1558.6 617.50,1568.0 620,1568.0 620.25,1547.7 620.75,1426.3 621,1406.0 625,1406.0 625.25,1412.6 625.75,1452.2 626,1458.8 630,1458.8 630.25,1460.0 630.75,1466.9 631,1468.0 634,1468.0 634.25,1479.5 634.75,1548.2 635,1559.7 638,1559.7 638.25,1553.1 638.75,1513.7 639,1507.2 648,1507.2 648.25,1514.8 648.75,1560.4 649,1568.0 651,1568.0 651.25,1565.8 651.75,1552.7 652,1550.5 656,1550.5 656.25,1551.1 656.75,1554.9 657,1555.5 659.75,1555.5 660,1550.9 660.50,1537.2 665,1537.2 665.25,1542.7 665.75,1575.8 666,1581.3 668.75,1581.3 669,1579.0 669.50,1572.2 673,1572.2 673.25,1557.4 673.75,1469.1 674,1454.3 683,1454.3 683.25,1468.0 683.75,1550.1 684,1563.8 686,1563.8 686.25,1561.6 686.75,1548.5 687,1546.3 691,1546.3 691.25,1542.6 691.75,1520.1 692,1516.3 696,1516.3 696.25,1517.4 696.75,1523.6 697,1524.7 700,1524.7 700.25,1527.9 700.75,1547.3 701,1550.5 714,1550.5 714.25,1552.7 714.75,1565.8 715,1568.0 717,1568.0 717.25,1562.1 717.75,1526.4 718,1520.5 731,1520.5 731.25,1524.9 731.75,1551.1 732,1555.5 735.75,1555.5 736,1556.5 736.50,1559.7 739,1559.7 739.25,1552.5 739.75,1509.8 740,1502.7 743,1502.7 743.25,1494.0 743.75,1441.7 744,1433.0 749,1433.0 749.25,1447.2 749.75,1532.2 750,1546.3 752,1546.3 752.25,1544.1 752.75,1531.0 753,1528.8 754.25,1528.8 754.50,1529.7 757,1529.7 757.25,1524.6 757.75,1494.4 758,1489.3 762,1489.3 762.25,1495.9 762.75,1535.6 763,1542.2 766.50,1542.2 767,1545.3 767.25,1546.3 770,1546.3 770.25,1542.6 770.75,1520.1 771,1516.3 774.50,1516.3 775,1505.7 775.25,1502.2 784,1502.2 784.25,1509.3 784.75,1552.2 785,1559.3 788.50,1559.3 789,1569.0 789.25,1572.2 792.75,1572.2 793,1573.4 793.50,1577.2 796,1577.2 796.25,1576.0 796.75,1569.1 797,1568.0 801,1568.0 801.25,1563.7 801.75,1537.7 802,1533.3 810,1533.3 810.25,1539.3 810.75,1575.3 811,1581.3 814,1581.3 814.25,1574.8 814.75,1535.8 815,1529.3 823.75,1529.3 824,1530.3 824.50,1533.3 827,1533.3 827.25,1531.2 827.75,1518.5 828,1516.3 832.75,1516.3 833,1518.4 833.50,1524.7 837,1524.7 837.25,1527.9 837.75,1547.3 838,1550.5 840,1550.5 840.25,1546.2 840.75,1520.6 841,1516.3 850,1516.3 850.25,1519.6 850.75,1538.9 851,1542.2 855,1542.2 855.25,1544.9 855.75,1561.6 856,1564.3 858.50,1564.3 859,1544.3 859.25,1537.7 862,1537.7 862.25,1530.6 862.75,1488.4 863,1481.3 868,1481.3 868.25,1487.8 868.75,1526.8 869,1533.3 872.50,1533.3 873,1569.3 873.25,1581.3 876.50,1581.3 877,1574.5 877.25,1572.2 885,1572.2 885.25,1572.3 885.75,1572.9 886,1573.0 888.75,1573.0 889,1552.1 889.50,1489.3 898.75,1489.3 899,1496.1 899.50,1516.3 903,1516.3 903.25,1518.0 903.75,1527.7 904,1529.3 911.75,1529.3 912,1542.3 912.50,1581.3 915,1581.3 915.25,1571.4 915.75,1512.1 916,1502.2 920,1502.2 920.25,1478.8 920.75,1338.4 921,1315.0 925.50,1315.0 926,1445.8 926.25,1489.3 929,1489.3 929.25,1495.9 929.75,1535.6 930,1542.2 934,1542.2 934.25,1546.0 934.75,1569.1 935,1573.0 941.75,1573.0 942,1569.6 942.50,1559.3 951,1559.3 951.25,1560.4 951.75,1566.9 952,1568.0 955,1568.0 955.25,1564.2 955.75,1541.5 956,1537.7 964,1537.7 964.25,1532.7 964.75,1503.0 965,1498.0 973,1498.0 973.25,1503.5 973.75,1536.6 974,1542.2 977.75,1542.2 978,1549.7 978.50,1572.2 981,1572.2 981.25,1563.4 981.75,1510.9 982,1502.2 986.75,1502.2 987,1503.4 987.50,1507.2 991,1507.2 991.25,1513.7 991.75,1552.8 992,1559.3 995.50,1559.3 996,1563.1 996.25,1564.3 1003,1564.3 1003.25,1563.2 1003.75,1556.2 1004,1555.0 1008.75,1555.0 1009,1557.3 1009.50,1564.3 1013,1564.3 1013.25,1564.8 1013.75,1567.5 1014,1568.0 1018,1568.0 1018.25,1569.7 1018.75,1579.7 1019,1581.3 1022,1581.3 1022.25,1582.4 1022.75,1588.6 1023,1589.7 1025,1589.7 1025.25,1585.9 1025.75,1563.1 1026,1559.3 1031,1559.3 1031.25,1562.1 1031.75,1578.6 1032,1581.3 1034.50,1581.3 1035,1545.3 1035.25,1533.3 1043.75,1533.3 1044,1538.8 1044.50,1555.0 1047,1555.0 1047.25,1554.4 1047.75,1551.1 1048,1550.5 1052,1550.5 1052.25,1545.1 1052.75,1512.6 1053,1507.2 1057,1507.2 1057.25,1509.9 1057.75,1526.6 1058,1529.3 1061.75,1529.3 1062,1535.8 1062.50,1555.0 1065.25,1555.0 1065.50,1485.5 1075,1485.5 1075.25,1495.4 1075.75,1554.5 1076,1564.3 1079.50,1564.3 1080,1567.1 1080.25,1568.0 1083.75,1568.0 1084,1572.4 1084.50,1585.5 1091.50,1585.5 1092,1575.5 1092.25,1572.2 1095.75,1572.2 1096,1567.9 1096.50,1555.0 1100,1555.0 1100.25,1547.4 1100.75,1501.9 1101,1494.3 1109,1494.3 1109.25,1488.9 1109.75,1456.0 1110,1450.5 1114,1450.5 1114.25,1456.0 1114.75,1488.9 1115,1494.3 1122,1494.3 1122.25,1471.4 1122.75,1333.9 1123,1311.0 1132,1311.0 1132.25,1345.8 1132.75,1554.8 1133,1589.7 1136,1589.7 1136.25,1590.3 1136.75,1594.0 1137,1594.7 1140,1594.7 1140.25,1593.5 1140.75,1586.6 1141,1585.5 1149,1585.5 1149.25,1571.3 1149.75,1486.3 1150,1472.2 1154,1472.2 1154.25,1482.0 1154.75,1540.7 1155,1550.5 1157,1550.5 1157.25,1534.7 1157.75,1440.1 1158,1424.3 1163,1424.3 1163.25,1428.1 1163.75,1450.6 1164,1454.3 1167,1454.3 1167.25,1460.9 1167.75,1500.6 1168,1507.2 1171,1507.2 1171.25,1504.9 1171.75,1491.6 1172,1489.3 1176,1489.3 1176.25,1495.4 1176.75,1531.6 1177,1537.7 1180,1537.7 1180.25,1544.2 1180.75,1583.2 1181,1589.7 1184,1589.7 1184.25,1589.1 1184.75,1586.0 1185,1585.5 1188,1585.5 1188.25,1577.4 1188.75,1528.6 1189,1520.5 1198,1520.5 1198.25,1521.0 1198.75,1524.1 1199,1524.7 1207,1524.7 1207.25,1532.8 1207.75,1581.5 1208,1589.7 1210.50,1589.7 1211,1580.3 1211.25,1577.2 1215.50,1577.2 1216,1574.0 1216.25,1573.0 1219.50,1573.0 1220,1569.3 1220.25,1568.0 1224.50,1568.0 1225,1561.5 1225.25,1559.3 1232.75,1559.3 1233,1565.9 1233.50,1585.5 1236.75,1585.5 1237,1583.4 1237.50,1577.2 1241,1577.2 1241.25,1573.8 1241.75,1553.8 1242,1550.5 1246,1550.5 1246.25,1544.5 1246.75,1508.2 1247,1502.2 1251,1502.2 1251.25,1504.5 1251.75,1518.2 1252,1520.5 1255,1520.5 1255.25,1530.2 1255.75,1588.3 1256,1598.0 1259,1598.0 1259.25,1596.4 1259.75,1587.1 1260,1585.5 1263,1585.5 1263.25,1583.8 1263.75,1573.8 1264,1572.2 1268,1572.2 1268.25,1570.6 1268.75,1560.9 1269,1559.3 1272.75,1559.3 1273,1558.2 1273.50,1555.0 1285.75,1555.0 1286,1560.5 1286.50,1577.2 1290,1577.2 1290.25,1576.0 1290.75,1569.1 1291,1568.0 1294.75,1568.0 1295,1570.3 1295.50,1577.2 1299,1577.2 1299.25,1578.2 1299.75,1584.5 1300,1585.5 1307,1585.5 1307.25,1581.1 1307.75,1554.9 1308,1550.5 1313,1550.5 1313.25,1551.6 1313.75,1558.2 1314,1559.3 1317,1559.3 1317.25,1563.1 1317.75,1585.9 1318,1589.7 1321.50,1589.7 1322,1595.9 1322.25,1598.0 1329,1598.0 1329.25,1597.0 1329.75,1590.7 1330,1589.7 1334,1589.7 1334.25,1582.6 1334.75,1540.4 1335,1533.3 1343,1533.3 1343.25,1536.6 1343.75,1556.1 1344,1559.3 1348,1559.3 1348.25,1562.1 1348.75,1578.6 1349,1581.3 1351.50,1581.3 1352,1499.5 1352.25,1472.2 1356,1472.2 1356.25,1465.0 1356.75,1422.1 1357,1415.0 1361,1415.0 1361.25,1431.4 1361.75,1529.9 1362,1546.3 1364.50,1546.3 1365,1523.8 1365.25,1516.3 1373.75,1516.3 1374,1521.7 1374.50,1537.7 1379.75,1537.7 1380,1544.3 1380.50,1564.3 1382.50,1564.3 1383,1554.0 1383.25,1550.5 1386.75,1550.5 1387,1542.0 1387.50,1516.3 1391,1516.3 1391.25,1509.2 1391.75,1466.5 1392,1459.3 1396.50,1459.3 1397,1514.8 1397.25,1533.3 1405,1533.3 1405.25,1535.0 1405.75,1544.7 1406,1546.3 1409.75,1546.3 1410,1549.6 1410.50,1559.3 1414,1559.3 1414.25,1561.6 1414.75,1574.9 1415,1577.2 1417,1577.2 1417.25,1563.6 1417.75,1481.9 1418,1468.3 1423,1468.3 1423.25,1476.0 1423.75,1521.7 1424,1529.3 1427,1529.3 1427.25,1534.2 1427.75,1563.2 1428,1568.0 1435,1568.0 1435.25,1560.9 1435.75,1518.4 1436,1511.3 1445,1511.3 1445.25,1522.2 1445.75,1587.2 1446,1598.0 1448.50,1598.0 1449,1578.6 1449.25,1572.2 1453,1572.2 1453.25,1568.4 1453.75,1545.9 1454,1542.2 1461.75,1542.2 1462,1548.6 1462.50,1568.0 1466.75,1568.0 1467,1569.0 1467.50,1572.2 1470,1572.2 1470.25,1561.3 1470.75,1496.3 1471,1485.5 1476,1485.5 1476.25,1489.4 1476.75,1512.5 1477,1516.3 1480,1516.3 1480.25,1526.1 1480.75,1584.9 1481,1594.7 1483,1594.7 1483.25,1594.0 1483.75,1590.3 1484,1589.7 1488,1589.7 1488.25,1584.8 1488.75,1555.4 1489,1550.5 1492,1550.5 1492.25,1543.5 1492.75,1501.4 1493,1494.3 1502,1494.3 1502.25,1505.2 1502.75,1570.5 1503,1581.3 1505,1581.3 1505.25,1579.2 1505.75,1566.5 1506,1564.3 1510.75,1564.3 1511,1566.3 1511.50,1572.2 1514,1572.2 1514.25,1571.2 1514.75,1565.3 1515,1564.3 1519,1564.3 1519.25,1563.2 1519.75,1556.2 1520,1555.0 1523.50,1555.0 1524,1542.0 1524.25,1537.7 1532.75,1537.7 1533,1546.3 1533.50,1572.2 1536.50,1572.2 1537,1510.0 1537.25,1489.3 1541,1489.3 1541.25,1433.2 1541.75,1096.2 1542,1040.0 1546.50,1040.0 1547,1361.2 1547.25,1468.3 1549,1468.3 1549.25,1466.6 1549.75,1456.1 1550,1454.3 1559,1454.3 1559.25,1472.3 1559.75,1580.0 1560,1598.0 1562.50,1598.0 1563,1594.9 1563.25,1593.8 1567,1593.8 1567.25,1582.4 1567.75,1513.6 1568,1502.2 1577,1502.2 1577.25,1508.8 1577.75,1548.4 1578,1555.0 1580,1555.0 1580.25,1549.5 1580.75,1516.8 1581,1511.3 1590,1511.3 1590.25,1518.9 1590.75,1564.6 1591,1572.2 1594,1572.2 1594.25,1571.2 1594.75,1565.3 1595,1564.3 1602,1564.3 1602.25,1563.7 1602.75,1560.0 1603,1559.3 1608,1559.3 1608.25,1560.0 1608.75,1563.7 1609,1564.3 1611.50,1564.3 1612,1557.3 1612.25,1555.0 1616,1555.0 1616.25,1553.9 1616.75,1547.4 1617,1546.3 1620.50,1546.3 1621,1543.2 1621.25,1542.2 1625,1542.2 1625.25,1544.9 1625.75,1561.6 1626,1564.3 1630,1564.3 1630.25,1565.9 1630.75,1575.6 1631,1577.2 1633,1577.2 1633.25,1575.6 1633.75,1565.9 1634,1564.3 1638,1564.3 1638.25,1560.0 1638.75,1533.7 1639,1529.3 1642,1529.3 1642.25,1525.9 1642.75,1505.6 1643,1502.2 1652,1502.2 1652.25,1510.4 1652.75,1559.8 1653,1568.0 1660,1568.0 1660.25,1565.8 1660.75,1552.7 1661,1550.5 1665,1550.5 1665.25,1554.4 1665.75,1577.5 1666,1581.3 1668,1581.3 1668.25,1579.2 1668.75,1566.5 1669,1564.3 1673,1564.3 1673.25,1556.0 1673.75,1506.3 1674,1498.0 1677,1498.0 1677.25,1488.3 1677.75,1429.7 1678,1420.0 1687,1420.0 1687.25,1433.7 1687.75,1515.7 1688,1529.3 1690.25,1529.3 1690.50,1559.3 1695.75,1559.3 1696,1561.5 1696.50,1568.0 1700,1568.0 1700.25,1568.5 1700.75,1571.6 1701,1572.2 1704,1572.2 1704.25,1571.2 1704.75,1565.3 1705,1564.3 1712.50,1564.3 1713,1560.6 1713.25,1559.3 1716.75,1559.3 1717,1557.1 1717.50,1550.5 1721,1550.5 1721.25,1548.4 1721.75,1535.5 1722,1533.3 1726,1533.3 1726.25,1530.6 1726.75,1514.1 1727,1511.3 1730.50,1511.3 1731,1501.3 1731.25,1498.0 1734,1498.0 1734,1587.0 1732.25,1587.0 1732,1589.3 1731.50,1596.2 1728,1596.2 1727.75,1597.8 1727.25,1607.8 1727,1609.5 1723,1609.5 1722.75,1611.2 1722.25,1621.2 1722,1622.8 1713.25,1622.8 1713,1619.5 1712.50,1609.5 1710,1609.5 1709.75,1610.6 1709.25,1617.5 1709,1618.7 1706,1618.7 1705.75,1619.2 1705.25,1622.3 1705,1622.8 1700,1622.8 1699.75,1621.2 1699.25,1611.2 1699,1609.5 1689.50,1609.5 1689.25,1596.2 1688,1596.2 1687.75,1597.3 1687.25,1604.2 1687,1605.3 1679,1605.3 1678.75,1606.4 1678.25,1612.6 1678,1613.7 1665,1613.7 1664.75,1613.1 1664.25,1610.0 1664,1609.5 1661,1609.5 1660.75,1609.0 1660.25,1605.9 1660,1605.3 1657.25,1605.3 1657,1609.7 1656.50,1622.8 1652,1622.8 1651.75,1621.7 1651.25,1614.8 1651,1613.7 1647.50,1613.7 1647,1610.5 1646.75,1609.5 1644,1609.5 1643.75,1611.2 1643.25,1621.2 1643,1622.8 1639,1622.8 1638.75,1622.3 1638.25,1619.2 1638,1618.7 1635,1618.7 1634.75,1619.2 1634.25,1622.3 1634,1622.8 1630,1622.8 1629.75,1622.3 1629.25,1619.2 1629,1618.7 1617,1618.7 1616.75,1618.0 1616.25,1614.3 1616,1613.7 1613.25,1613.7 1613,1614.9 1612.50,1618.7 1608,1618.7 1607.75,1618.0 1607.25,1614.3 1607,1613.7 1604,1613.7 1603.75,1614.3 1603.25,1618.0 1603,1618.7 1596,1618.7 1595.75,1619.2 1595.25,1622.3 1595,1622.8 1585.50,1622.8 1585,1619.7 1584.75,1618.7 1578,1618.7 1577.75,1619.2 1577.25,1622.3 1577,1622.8 1569,1622.8 1568.75,1623.3 1568.25,1626.2 1568,1626.7 1565,1626.7 1564.75,1628.9 1564.25,1642.3 1564,1644.5 1559,1644.5 1558.75,1641.3 1558.25,1621.9 1558,1618.7 1555,1618.7 1554.75,1615.9 1554.25,1599.0 1554,1596.2 1551,1596.2 1550.75,1597.3 1550.25,1604.2 1550,1605.3 1546.25,1605.3 1546,1599.9 1545.50,1583.7 1543,1583.7 1542.75,1587.4 1542.25,1609.9 1542,1613.7 1538.25,1613.7 1538,1614.9 1537.50,1618.7 1528.25,1618.7 1528,1616.4 1527.50,1609.5 1525.25,1609.5 1525,1612.8 1524.50,1622.8 1498.50,1622.8 1498,1625.7 1497.75,1626.7 1494,1626.7 1493.75,1627.8 1493.25,1634.5 1493,1635.7 1484,1635.7 1483.75,1634.5 1483.25,1627.8 1483,1626.7 1480,1626.7 1479.75,1624.0 1479.25,1608.0 1479,1605.3 1476,1605.3 1475.75,1604.2 1475.25,1597.3 1475,1596.2 1472,1596.2 1471.75,1600.0 1471.25,1622.9 1471,1626.7 1462.25,1626.7 1462,1623.4 1461.50,1613.7 1459,1613.7 1458.75,1615.3 1458.25,1625.0 1458,1626.7 1449.25,1626.7 1449,1624.7 1448.50,1618.7 1445,1618.7 1444.75,1618.0 1444.25,1614.3 1444,1613.7 1437,1613.7 1436.75,1614.3 1436.25,1618.0 1436,1618.7 1427,1618.7 1426.75,1617.5 1426.25,1610.6 1426,1609.5 1424,1609.5 1423.75,1610.6 1423.25,1617.5 1423,1618.7 1415,1618.7 1414.75,1619.2 1414.25,1622.3 1414,1622.8 1405,1622.8 1404.75,1622.3 1404.25,1619.2 1404,1618.7 1396.25,1618.7 1396,1614.1 1395.50,1600.3 1393,1600.3 1392.75,1602.6 1392.25,1616.4 1392,1618.7 1388.50,1618.7 1388,1624.7 1387.75,1626.7 1384.25,1626.7 1384,1627.8 1383.50,1631.2 1377.50,1631.2 1377.25,1600.3 1374.50,1600.3 1374,1604.1 1373.75,1605.3 1370.50,1605.3 1370,1611.6 1369.75,1613.7 1361,1613.7 1360.75,1611.0 1360.25,1594.7 1360,1592.0 1358,1592.0 1357.75,1596.9 1357.25,1626.3 1357,1631.2 1348,1631.2 1347.75,1629.6 1347.25,1620.2 1347,1618.7 1343,1618.7 1342.75,1616.4 1342.25,1602.6 1342,1600.3 1339.50,1600.3 1339,1614.1 1338.75,1618.7 1336,1618.7 1335.75,1619.2 1335.25,1622.3 1335,1622.8 1331,1622.8 1330.75,1624.4 1330.25,1634.1 1330,1635.7 1325.50,1635.7 1325,1622.9 1324.75,1618.7 1321.25,1618.7 1321,1617.4 1320.50,1613.7 1318,1613.7 1317.75,1614.3 1317.25,1618.0 1317,1618.7 1313.25,1618.7 1313,1619.7 1312.50,1622.8 1304,1622.8 1303.75,1622.3 1303.25,1619.2 1303,1618.7 1299,1618.7 1298.75,1618.0 1298.25,1614.3 1298,1613.7 1294.50,1613.7 1294,1610.5 1293.75,1609.5 1286.25,1609.5 1286,1607.2 1285.50,1600.3 1283,1600.3 1282.75,1601.5 1282.25,1608.4 1282,1609.5 1277.50,1609.5 1277,1616.4 1276.75,1618.7 1270,1618.7 1269.75,1619.2 1269.25,1622.3 1269,1622.8 1265,1622.8 1264.75,1623.3 1264.25,1626.2 1264,1626.7 1260,1626.7 1259.75,1626.2 1259.25,1623.3 1259,1622.8 1251,1622.8 1250.75,1620.6 1250.25,1607.5 1250,1605.3 1248,1605.3 1247.75,1606.4 1247.25,1612.6 1247,1613.7 1242,1613.7 1241.75,1613.1 1241.25,1610.0 1241,1609.5 1238.50,1609.5 1238,1616.4 1237.75,1618.7 1229.50,1618.7 1229,1624.7 1228.75,1626.7 1220.25,1626.7 1220,1624.7 1219.50,1618.7 1216.25,1618.7 1216,1617.4 1215.50,1613.7 1211.50,1613.7 1211,1626.8 1210.75,1631.2 1203,1631.2 1202.75,1629.0 1202.25,1615.9 1202,1613.7 1198,1613.7 1197.75,1613.1 1197.25,1610.0 1197,1609.5 1194.50,1609.5 1194,1622.4 1193.75,1626.7 1185,1626.7 1184.75,1625.7 1184.25,1619.7 1184,1618.7 1177,1618.7 1176.75,1619.2 1176.25,1622.3 1176,1622.8 1172,1622.8 1171.75,1622.3 1171.25,1619.2 1171,1618.7 1167,1618.7 1166.75,1614.3 1166.25,1588.0 1166,1583.7 1164,1583.7 1163.75,1587.4 1163.25,1609.9 1163,1613.7 1154,1613.7 1153.75,1613.1 1153.25,1610.0 1153,1609.5 1145.50,1609.5 1145,1625.7 1144.75,1631.2 1136,1631.2 1135.75,1629.6 1135.25,1620.2 1135,1618.7 1132,1618.7 1131.75,1617.0 1131.25,1607.0 1131,1605.3 1128.50,1605.3 1128,1618.5 1127.75,1622.8 1124,1622.8 1123.75,1623.3 1123.25,1626.2 1123,1626.7 1120,1626.7 1119.75,1627.2 1119.25,1630.6 1119,1631.2 1114,1631.2 1113.75,1622.5 1113.25,1570.6 1113,1562.0 1111,1562.0 1110.75,1566.8 1110.25,1595.5 1110,1600.3 1106.50,1600.3 1106,1617.2 1105.75,1622.8 1101,1622.8 1100.75,1621.2 1100.25,1611.2 1100,1609.5 1097.50,1609.5 1097,1622.4 1096.75,1626.7 1089,1626.7 1088.75,1627.2 1088.25,1630.6 1088,1631.2 1075,1631.2 1074.75,1629.6 1074.25,1620.2 1074,1618.7 1065.50,1618.7 1065.25,1609.5 1062.50,1609.5 1062,1619.5 1061.75,1622.8 1053,1622.8 1052.75,1622.3 1052.25,1619.2 1052,1618.7 1040.50,1618.7 1040,1628.0 1039.75,1631.2 1035.25,1631.2 1035,1630.0 1034.50,1626.7 1031,1626.7 1030.75,1625.7 1030.25,1619.7 1030,1618.7 1023,1618.7 1022.75,1619.7 1022.25,1625.7 1022,1626.7 1018,1626.7 1017.75,1625.7 1017.25,1619.7 1017,1618.7 1013,1618.7 1012.75,1617.5 1012.25,1610.6 1012,1609.5 1009.50,1609.5 1009,1616.4 1008.75,1618.7 1004,1618.7 1003.75,1617.5 1003.25,1610.6 1003,1609.5 1000.50,1609.5 1000,1612.6 999.75,1613.7 991,1613.7 990.75,1611.5 990.25,1598.4 990,1596.2 987.50,1596.2 987,1609.3 986.75,1613.7 982,1613.7 981.75,1613.1 981.25,1610.0 981,1609.5 978.25,1609.5 978,1605.1 977.50,1592.0 973.50,1592.0 973,1588.2 972.75,1587.0 970.25,1587.0 970,1594.9 969.50,1618.7 965,1618.7 964.75,1618.0 964.25,1614.3 964,1613.7 960.25,1613.7 960,1611.6 959.50,1605.3 948,1605.3 947.75,1609.1 947.25,1631.9 947,1635.7 938.25,1635.7 938,1632.5 937.50,1622.8 934,1622.8 933.75,1621.7 933.25,1614.8 933,1613.7 929,1613.7 928.75,1611.5 928.25,1598.4 928,1596.2 925.25,1596.2 925,1590.8 924.50,1574.5 922,1574.5 921.75,1578.4 921.25,1601.5 921,1605.3 917,1605.3 916.75,1607.0 916.25,1617.0 916,1618.7 911.50,1618.7 911,1611.8 910.75,1609.5 904,1609.5 903.75,1610.6 903.25,1617.5 903,1618.7 894.25,1618.7 894,1612.0 893.50,1592.0 890.50,1592.0 890,1618.0 889.75,1626.7 881,1626.7 880.75,1626.2 880.25,1623.3 880,1622.8 877.25,1622.8 877,1621.8 876.50,1618.7 868,1618.7 867.75,1617.0 867.25,1607.0 867,1605.3 864,1605.3 863.75,1608.0 863.25,1624.0 863,1626.7 855,1626.7 854.75,1622.9 854.25,1600.0 854,1596.2 846.50,1596.2 846,1616.2 845.75,1622.8 837,1622.8 836.75,1619.5 836.25,1599.5 836,1596.2 833.50,1596.2 833,1609.3 832.75,1613.7 823.50,1613.7 823,1603.7 822.75,1600.3 819.50,1600.3 819,1620.1 818.75,1626.7 810,1626.7 809.75,1624.5 809.25,1611.6 809,1609.5 803,1609.5 802.75,1612.8 802.25,1632.4 802,1635.7 797,1635.7 796.75,1634.5 796.25,1627.8 796,1626.7 792.50,1626.7 792,1610.7 791.75,1605.3 784,1605.3 783.75,1604.2 783.25,1597.3 783,1596.2 780.50,1596.2 780,1599.3 779.75,1600.3 776.25,1600.3 776,1603.7 775.50,1613.7 772,1613.7 771.75,1614.3 771.25,1618.0 771,1618.7 766.25,1618.7 766,1617.4 765.50,1613.7 762,1613.7 761.75,1611.5 761.25,1598.4 761,1596.2 753.50,1596.2 753.25,1592.0 749,1592.0 748.75,1590.3 748.25,1580.3 748,1578.7 745,1578.7 744.75,1582.0 744.25,1602.0 744,1605.3 735.50,1605.3 735,1601.6 734.75,1600.3 732,1600.3 731.75,1601.0 731.25,1604.7 731,1605.3 719,1605.3 718.75,1607.5 718.25,1620.6 718,1622.8 714,1622.8 713.75,1621.7 713.25,1614.8 713,1613.7 710.50,1613.7 710,1617.4 709.75,1618.7 706,1618.7 705.75,1619.2 705.25,1622.3 705,1622.8 696,1622.8 695.75,1621.7 695.25,1614.8 695,1613.7 684,1613.7 683.75,1614.8 683.25,1621.7 683,1622.8 678.25,1622.8 678,1621.8 677.50,1618.7 665,1618.7 664.75,1618.0 664.25,1614.3 664,1613.7 657,1613.7 656.75,1615.3 656.25,1625.0 656,1626.7 648,1626.7 647.75,1625.7 647.25,1619.7 647,1618.7 643.25,1618.7 643,1616.4 642.50,1609.5 639,1609.5 638.75,1609.0 638.25,1605.9 638,1605.3 634,1605.3 633.75,1602.6 633.25,1586.4 633,1583.7 630,1583.7 629.75,1582.0 629.25,1572.0 629,1570.3 626,1570.3 625.75,1576.4 625.25,1612.6 625,1618.7 613,1618.7 612.75,1620.2 612.25,1629.6 612,1631.2 603.25,1631.2 603,1625.8 602.50,1609.5 600,1609.5 599.75,1611.2 599.25,1621.2 599,1622.8 594.50,1622.8 594,1612.8 593.75,1609.5 586.50,1609.5 586,1622.4 585.75,1626.7 582,1626.7 581.75,1627.2 581.25,1630.6 581,1631.2 577,1631.2 576.75,1630.6 576.25,1627.2 576,1626.7 572.50,1626.7 572,1623.8 571.75,1622.8 564,1622.8 563.75,1616.3 563.25,1576.9 563,1570.3 560,1570.3 559.75,1576.9 559.25,1616.3 559,1622.8 556,1622.8 555.75,1624.4 555.25,1633.8 555,1635.3 546,1635.3 545.75,1633.2 545.25,1620.8 545,1618.7 542.50,1618.7 542,1621.8 541.75,1622.8 533,1622.8 532.75,1622.3 532.25,1619.2 532,1618.7 530,1618.7 529.75,1619.2 529.25,1622.3 529,1622.8 520,1622.8 519.75,1621.2 519.25,1611.2 519,1609.5 516,1609.5 515.75,1611.6 515.25,1624.5 515,1626.7 506.50,1626.7 506,1613.8 505.75,1609.5 498.50,1609.5 498,1622.4 497.75,1626.7 493.25,1626.7 493,1624.7 492.50,1618.7 489,1618.7 488.75,1616.4 488.25,1602.6 488,1600.3 485,1600.3 484.75,1597.1 484.25,1577.7 484,1574.5 480,1574.5 479.75,1572.9 479.25,1563.6 479,1562.0 477,1562.0 476.75,1566.8 476.25,1595.5 476,1600.3 468,1600.3 467.75,1602.6 467.25,1616.4 467,1618.7 458,1618.7 457.75,1616.4 457.25,1602.6 457,1600.3 454,1600.3 453.75,1599.2 453.25,1592.3 453,1591.2 450,1591.2 449.75,1592.9 449.25,1603.6 449,1605.3 446.25,1605.3 446,1608.7 445.50,1618.7 436,1618.7 435.75,1615.3 435.25,1595.3 435,1592.0 431.50,1592.0 431,1569.5 430.75,1562.0 428.25,1562.0 428,1570.8 427.50,1597.0 424,1597.0 423.75,1599.1 423.25,1611.6 423,1613.7 418,1613.7 417.75,1606.1 417.25,1560.4 417,1552.8 414.50,1552.8 414,1611.6 413.75,1631.2 409.50,1631.2 409,1628.0 408.75,1627.0 405,1627.0 404.75,1626.0 404.25,1619.7 404,1618.7 400.50,1618.7 400,1614.9 399.75,1613.7 396,1613.7 395.75,1613.1 395.25,1610.0 395,1609.5 393,1609.5 392.75,1610.6 392.25,1617.5 392,1618.7 383,1618.7 382.75,1618.0 382.25,1614.3 382,1613.7 380,1613.7 379.75,1615.9 379.25,1629.0 379,1631.2 374.25,1631.2 374,1629.1 373.50,1622.8 371.25,1622.8 371,1623.9 370.50,1627.0 366,1627.0 365.75,1626.0 365.25,1619.7 365,1618.7 362.25,1618.7 362,1621.8 361.50,1631.2 357,1631.2 356.75,1630.6 356.25,1627.5 356,1627.0 353,1627.0 352.75,1626.5 352.25,1623.4 352,1622.8 348,1622.8 347.75,1621.7 347.25,1614.8 347,1613.7 345,1613.7 344.75,1616.4 344.25,1632.6 344,1635.3 335,1635.3 334.75,1633.8 334.25,1624.4 334,1622.8 331,1622.8 330.75,1624.4 330.25,1633.8 330,1635.3 322,1635.3 321.25,1620.3 321,1618.7 314,1618.7 313.75,1619.1 313,1622.8 304,1622.8 303.75,1622.3 303.25,1619.2 303,1618.7 287.25,1618.7 287,1620.3 286.50,1625.3 286.25,1627.0 282,1627.0 281.25,1623.2 281,1622.8 277.50,1622.8 277,1619.1 276.75,1617.8 274.25,1617.8 274,1619.1 273.50,1622.8 269.75,1622.8 269.50,1624.7 269,1630.2 268.75,1632.0 264,1632.0 263.75,1630.3 263.25,1620.3 263,1618.7 255.50,1618.7 255.25,1617.8 254.50,1609.5 251,1609.5 250.75,1608.1 250.50,1603.9 250.25,1601.2 248,1601.2 247.25,1620.7 247,1622.8 229,1622.8 228.75,1621.7 228.25,1614.8 228,1613.7 226,1613.7 225.75,1615.3 225.25,1625.3 225,1627.0 221.50,1627.0 221.25,1627.4 220.50,1631.2 216.25,1631.2 216,1629.5 215.50,1624.5 215.25,1622.8 211.25,1622.8 211,1620.2 210.50,1612.2 210.25,1609.5 207,1609.5 206.25,1590.0 206,1587.8 199,1587.8 198.75,1592.2 198,1632.0 189.25,1632.0 189,1628.9 188.75,1624.4 188.50,1622.8 186.50,1622.8 186.25,1623.2 185.50,1627.0 167,1627.0 166.25,1591.8 166,1587.8 159.75,1587.8 159.50,1589.7 159,1595.2 158.75,1597.0 150,1597.0 149.75,1595.9 149.25,1589.0 149,1587.8 146,1587.8 145.75,1592.7 145.25,1622.1 145,1627.0 140,1627.0"/>
<defs><linearGradient id="g2" gradientUnits="userSpaceOnUse" x1="0" y1="1490" x2="0" y2="1550"><stop offset="0" stop-color="#484848"/><stop offset="1" stop-color="#0c0c0c"/></linearGradient></defs>
<polygon fill="url(#g2)" points="140,1555.5 146.25,1555.5 146.50,1552.8 147,1536.5 147.25,1533.8 151.50,1533.8 151.75,1539.0 152.25,1554.5 152.50,1559.6 160,1559.6 160.25,1553.6 160.75,1535.6 161,1529.6 164.75,1529.6 165,1516.5 165.25,1517.5 165.75,1525.5 169.75,1525.5 170,1527.6 170.75,1547.1 174,1547.1 174.25,1551.5 174.75,1564.5 175,1568.8 182.50,1568.8 182.75,1554.4 183,1532.7 183.25,1525.5 186.75,1525.5 187.25,1521.3 190.75,1521.3 191,1514.8 191.25,1495.2 191.50,1482.1 195.75,1482.1 196.50,1493.4 196.75,1494.6 204.75,1494.6 205,1499.9 205.75,1547.1 209,1547.1 209.25,1550.6 209.75,1561.1 210,1564.6 214,1564.6 214.25,1573.3 214.75,1599.3 215,1608.0 221.75,1608.0 222.25,1556.3 226.50,1556.3 226.75,1561.5 227.25,1577.0 227.50,1582.1 234.75,1582.1 235,1555.9 235.25,1547.1 239.75,1547.1 240,1549.3 240.75,1568.8 248.25,1568.8 248.50,1567.9 249,1562.4 249.25,1561.3 249.50,1563.8 249.75,1564.6 256.25,1564.6 256.50,1563.6 257,1557.3 257.25,1556.3 261.25,1556.3 261.50,1554.6 262,1544.6 262.25,1547.1 262.50,1550.3 262.75,1551.3 270,1551.3 270.25,1544.5 270.75,1524.0 271,1517.1 271.25,1517.1 271.75,1532.8 272,1538.0 279.75,1538.0 280,1543.6 280.75,1594.6 287.50,1594.6 287.75,1590.3 288.25,1577.3 288.50,1573.0 288.75,1574.0 289.25,1577.0 289.50,1578.0 301.25,1578.0 301.50,1577.3 302,1573.6 302.25,1573.0 305.25,1573.0 305.50,1570.3 306,1554.0 306.25,1551.3 310.75,1551.3 311.50,1579.0 311.75,1582.1 318.25,1582.1 318.50,1578.2 319.25,1543.0 323.25,1543.0 323.50,1541.6 324.25,1529.6 327.50,1529.6 327.75,1515.2 328,1493.5 328.25,1497.1 328.50,1505.3 328.75,1508.0 332.75,1508.0 333,1517.2 333.50,1572.9 333.75,1582.1 340.25,1582.1 340.50,1575.0 341,1532.6 341.25,1525.5 341.75,1525.5 342,1527.0 342.50,1536.4 342.75,1538.0 349.25,1538.0 349.50,1528.2 350,1469.4 350.25,1459.6 354.75,1459.6 355,1471.1 355.50,1539.8 355.75,1551.3 362.75,1551.3 363.25,1548.2 363.50,1547.1 363.75,1547.1 364,1550.4 364.50,1569.7 364.75,1573.0 371.75,1573.0 372.25,1569.8 372.50,1568.8 375.75,1568.8 376.25,1549.4 376.50,1543.0 380.75,1543.0 381,1548.4 381.50,1580.9 381.75,1586.3 389.25,1586.3 390,1551.0 390.25,1547.1 393.25,1547.1 393.50,1542.8 394,1516.5 394.25,1518.8 394.50,1523.8 394.75,1525.5 398.50,1525.5 398.75,1531.9 399.25,1551.3 411,1551.3 411.25,1508.8 411.75,1381.3 415.75,1381.3 416,1397.7 416.50,1495.8 416.75,1512.1 424.25,1512.1 424.50,1511.6 425,1508.5 425.25,1508.0 428.75,1508.0 429.25,1504.6 429.50,1503.5 429.75,1511.1 430.25,1533.8 433.75,1533.8 434,1534.9 434.50,1541.8 434.75,1543.0 440,1543.0 440.25,1556.3 446.75,1556.3 447.25,1425.1 447.50,1381.3 451.75,1381.3 452,1394.4 452.50,1473.2 452.75,1486.3 455.75,1486.3 456,1493.4 456.50,1535.9 456.75,1543.0 464.25,1543.0 464.50,1537.4 465,1504.3 465.25,1508.0 465.50,1514.8 465.75,1517.1 472.25,1517.1 472.50,1508.8 473,1459.1 473.25,1450.8 477.75,1450.8 478,1454.7 478.50,1478.2 478.75,1482.1 486.25,1482.1 486.50,1479.3 486.75,1470.9 487,1470.0 487.50,1532.6 487.75,1543.0 495.50,1543.0 495.75,1546.3 496.25,1556.3 499.75,1556.3 500,1559.5 500.50,1578.9 500.75,1582.1 504.50,1582.1 504.75,1585.3 505.25,1594.6 512.25,1594.6 512.50,1588.7 513,1553.1 513.25,1547.1 516.25,1547.1 516.50,1544.9 517,1531.8 517.25,1529.6 517.75,1529.6 518,1534.0 518.50,1560.3 518.75,1564.6 530.25,1564.6 530.50,1563.6 530.75,1560.5 531,1557.9 531.50,1567.2 531.75,1568.8 534.75,1568.8 535,1569.3 535.50,1572.4 535.75,1573.0 539.50,1573.0 539.75,1576.3 540.25,1586.3 543.75,1586.3 544,1587.3 544.50,1593.6 544.75,1594.6 552.25,1594.6 552.50,1593.6 553,1587.3 553.25,1586.3 556.25,1586.3 556.50,1575.4 557,1509.7 557.25,1498.8 560.25,1498.8 560.50,1495.0 561,1472.6 561.25,1468.8 565.25,1468.8 565.50,1468.2 565.75,1466.3 566,1475.4 566.50,1544.7 566.75,1556.3 574.50,1556.3 574.75,1559.4 575.25,1568.8 582.25,1568.8 582.50,1567.2 583,1557.9 583.25,1556.3 587,1556.3 587.25,1537.8 587.75,1482.1 588,1489.7 588.50,1535.4 588.75,1543.0 596.75,1543.0 597.25,1529.8 597.50,1525.5 600.50,1525.5 600.75,1528.6 601.25,1538.0 605.75,1538.0 606,1541.8 606.50,1564.9 606.75,1568.8 613.25,1568.8 613.50,1567.2 614,1557.9 614.25,1556.3 614.50,1556.3 614.75,1559.4 615.25,1568.8 622.25,1568.8 622.50,1548.5 623,1427.1 623.25,1433.2 623.50,1453.0 623.75,1459.6 627.75,1459.6 628,1460.8 628.50,1467.7 628.75,1468.8 631.75,1468.8 632,1480.3 632.50,1549.0 632.75,1560.5 640.25,1560.5 640.50,1553.9 641,1514.5 641.25,1508.0 645.75,1508.0 646,1515.6 646.50,1561.2 646.75,1568.8 653.25,1568.8 653.50,1566.6 654,1553.5 654.25,1553.8 654.50,1555.7 654.75,1556.3 662,1556.3 662.25,1551.7 662.75,1538.0 663,1543.5 663.50,1576.6 663.75,1582.1 671,1582.1 671.25,1579.8 671.75,1573.0 675.25,1573.0 675.50,1558.2 676,1469.9 676.25,1455.1 680.75,1455.1 681,1468.8 681.50,1550.9 681.75,1564.6 688.25,1564.6 688.50,1562.4 689,1549.3 689.25,1547.1 693.25,1547.1 693.50,1543.4 694,1520.9 694.25,1521.3 694.50,1524.4 694.75,1525.5 697.75,1525.5 698,1528.7 698.50,1548.1 698.75,1551.3 711.75,1551.3 712,1553.5 712.50,1566.6 712.75,1568.8 719.25,1568.8 719.50,1562.9 720,1527.2 720.25,1521.3 728.75,1521.3 729,1525.7 729.50,1551.9 729.75,1556.3 733.50,1556.3 733.75,1557.3 734.25,1560.5 741.25,1560.5 741.50,1553.3 742,1510.6 742.25,1503.5 745.25,1503.5 745.50,1494.8 746,1442.5 746.25,1433.8 746.75,1433.8 747,1448.0 747.50,1533.0 747.75,1547.1 754.25,1547.1 754.50,1544.9 755,1531.8 755.25,1530.5 759.25,1530.5 759.50,1525.4 759.75,1510.3 760,1496.7 760.50,1536.4 760.75,1543.0 764.25,1543.0 764.75,1546.1 765,1547.1 772.25,1547.1 772.50,1543.4 773,1520.9 773.25,1517.1 776.75,1517.1 777.25,1506.5 777.50,1503.0 781.75,1503.0 782,1510.1 782.50,1553.0 782.75,1560.1 786.25,1560.1 786.75,1569.8 787,1573.0 790.50,1573.0 790.75,1574.2 791.25,1578.0 798.25,1578.0 798.50,1576.8 799,1569.9 799.25,1568.8 803.25,1568.8 803.50,1564.5 804,1538.5 804.25,1534.1 807.75,1534.1 808,1540.1 808.50,1576.1 808.75,1582.1 816.25,1582.1 816.50,1575.6 817,1536.6 817.25,1530.1 821.50,1530.1 821.75,1531.1 822.25,1534.1 829.25,1534.1 829.50,1532.0 830,1519.3 830.25,1517.1 830.50,1517.1 830.75,1519.2 831.25,1525.5 834.75,1525.5 835,1528.7 835.50,1548.1 835.75,1551.3 842.25,1551.3 842.50,1547.0 843,1521.4 843.25,1517.1 847.75,1517.1 848,1520.4 848.50,1539.7 848.75,1543.0 852.75,1543.0 853,1545.7 853.50,1562.4 853.75,1565.1 860.75,1565.1 861.25,1545.1 861.50,1538.5 864.25,1538.5 864.50,1531.4 865,1489.2 865.25,1482.1 865.75,1482.1 866,1488.6 866.50,1527.6 866.75,1534.1 870.25,1534.1 870.75,1570.1 871,1582.1 878.75,1582.1 879.25,1575.3 879.50,1573.0 882.75,1573.0 883,1573.1 883.50,1573.7 883.75,1573.8 891,1573.8 891.25,1552.9 891.75,1490.1 896.50,1490.1 896.75,1496.9 897.25,1517.1 900.75,1517.1 901,1518.8 901.50,1528.5 901.75,1530.1 909.50,1530.1 909.75,1543.1 910.25,1582.1 917.25,1582.1 917.50,1572.2 918,1512.9 918.25,1503.0 922.25,1503.0 922.50,1479.6 923,1339.2 923.25,1315.8 923.75,1446.6 924,1490.1 926.75,1490.1 927,1496.7 927.50,1536.4 927.75,1543.0 931.75,1543.0 932,1546.8 932.50,1569.9 932.75,1573.8 944,1573.8 944.25,1570.4 944.75,1560.1 948.75,1560.1 949,1561.2 949.50,1567.7 949.75,1568.8 957.25,1568.8 957.50,1565.0 958,1542.3 958.25,1538.5 966.25,1538.5 966.50,1533.5 967,1503.8 967.25,1498.8 970.75,1498.8 971,1504.3 971.50,1537.4 971.75,1543.0 975.50,1543.0 975.75,1550.5 976.25,1573.0 983.25,1573.0 983.50,1564.2 984,1511.7 984.25,1503.0 984.50,1503.0 984.75,1504.2 985.25,1508.0 988.75,1508.0 989,1514.5 989.50,1553.6 989.75,1560.1 993.25,1560.1 993.75,1563.9 994,1565.1 1005.25,1565.1 1005.50,1564.0 1006,1557.0 1006.25,1555.8 1006.50,1555.8 1006.75,1558.1 1007.25,1565.1 1010.75,1565.1 1011,1565.6 1011.50,1568.3 1011.75,1568.8 1015.75,1568.8 1016,1570.5 1016.50,1580.5 1016.75,1582.1 1019.75,1582.1 1020,1583.2 1020.50,1589.4 1020.75,1590.5 1027.25,1590.5 1027.50,1586.7 1028,1563.9 1028.25,1560.1 1028.75,1560.1 1029,1562.9 1029.50,1579.4 1029.75,1582.1 1036.75,1582.1 1037.25,1546.1 1037.50,1534.1 1041.50,1534.1 1041.75,1539.6 1042.25,1555.8 1049.25,1555.8 1049.50,1555.2 1050,1551.9 1050.25,1551.3 1054.25,1551.3 1054.50,1545.9 1055,1513.4 1055.25,1519.0 1055.50,1527.4 1055.75,1530.1 1059.50,1530.1 1059.75,1536.6 1060.25,1555.8 1067.50,1555.8 1067.75,1486.3 1072.75,1486.3 1073,1496.2 1073.50,1555.3 1073.75,1565.1 1077.25,1565.1 1077.75,1567.9 1078,1568.8 1081.50,1568.8 1081.75,1573.2 1082.25,1586.3 1093.75,1586.3 1094.25,1576.3 1094.50,1573.0 1098,1573.0 1098.25,1568.7 1098.75,1555.8 1102.25,1555.8 1102.50,1548.2 1103,1502.7 1103.25,1495.1 1111.25,1495.1 1111.50,1489.7 1112,1456.8 1112.50,1489.7 1112.75,1495.1 1124.25,1495.1 1124.50,1472.2 1125,1334.7 1125.25,1311.8 1129.75,1311.8 1130,1346.6 1130.50,1555.6 1130.75,1590.5 1133.75,1590.5 1134,1591.1 1134.50,1594.8 1134.75,1595.5 1142.25,1595.5 1142.50,1594.3 1143,1587.4 1143.25,1586.3 1151.25,1586.3 1151.50,1572.1 1152,1487.1 1152.25,1512.1 1152.50,1541.5 1152.75,1551.3 1159.25,1551.3 1159.50,1535.5 1160,1440.9 1160.25,1425.1 1160.75,1425.1 1161,1428.9 1161.50,1451.4 1161.75,1455.1 1164.75,1455.1 1165,1461.7 1165.50,1501.4 1165.75,1508.0 1173.25,1508.0 1173.50,1505.7 1173.75,1499.0 1174,1496.2 1174.50,1532.4 1174.75,1538.5 1177.75,1538.5 1178,1545.0 1178.50,1584.0 1178.75,1590.5 1186.25,1590.5 1186.50,1589.9 1187,1586.8 1187.25,1586.3 1190.25,1586.3 1190.50,1578.2 1191,1529.4 1191.25,1521.3 1195.75,1521.3 1196,1521.8 1196.50,1524.9 1196.75,1525.5 1204.75,1525.5 1205,1533.6 1205.50,1582.3 1205.75,1590.5 1212.75,1590.5 1213.25,1581.1 1213.50,1578.0 1217.75,1578.0 1218.25,1574.8 1218.50,1573.8 1221.75,1573.8 1222.25,1570.1 1222.50,1568.8 1226.75,1568.8 1227.25,1562.3 1227.50,1560.1 1230.50,1560.1 1230.75,1566.7 1231.25,1586.3 1239,1586.3 1239.25,1584.2 1239.75,1578.0 1243.25,1578.0 1243.50,1574.6 1244,1554.6 1244.25,1551.3 1248.25,1551.3 1248.50,1545.3 1249,1509.0 1249.25,1512.1 1249.50,1519.0 1249.75,1521.3 1252.75,1521.3 1253,1531.0 1253.50,1589.1 1253.75,1598.8 1261.25,1598.8 1261.50,1597.2 1262,1587.9 1262.25,1586.3 1265.25,1586.3 1265.50,1584.6 1266,1574.6 1266.25,1573.0 1270.25,1573.0 1270.50,1571.4 1271,1561.7 1271.25,1560.1 1275,1560.1 1275.25,1559.0 1275.75,1555.8 1283.50,1555.8 1283.75,1561.3 1284.25,1578.0 1292.25,1578.0 1292.50,1576.8 1292.75,1573.4 1293,1574.5 1293.25,1578.0 1296.75,1578.0 1297,1579.0 1297.50,1585.3 1297.75,1586.3 1309.25,1586.3 1309.50,1581.9 1310,1555.7 1310.25,1551.3 1310.75,1551.3 1311,1552.4 1311.50,1559.0 1311.75,1560.1 1314.75,1560.1 1315,1563.9 1315.50,1586.7 1315.75,1590.5 1319.25,1590.5 1319.75,1596.7 1320,1598.8 1331.25,1598.8 1331.50,1597.8 1332,1591.5 1332.25,1590.5 1336.25,1590.5 1336.50,1583.4 1337,1541.2 1337.25,1534.1 1340.75,1534.1 1341,1537.4 1341.50,1556.9 1341.75,1560.1 1345.75,1560.1 1346,1562.9 1346.50,1579.4 1346.75,1582.1 1353.75,1582.1 1354.25,1500.3 1354.50,1473.0 1358.25,1473.0 1358.50,1465.8 1358.75,1444.4 1359,1432.2 1359.50,1530.7 1359.75,1547.1 1366.75,1547.1 1367.25,1524.6 1367.50,1517.1 1371.50,1517.1 1371.75,1522.5 1372.25,1538.5 1377.50,1538.5 1377.75,1545.1 1378.25,1565.1 1384.75,1565.1 1385.25,1554.8 1385.50,1551.3 1389,1551.3 1389.25,1542.8 1389.75,1517.1 1393.25,1517.1 1393.50,1510.0 1394,1467.3 1394.25,1460.1 1394.75,1515.6 1395,1534.1 1402.75,1534.1 1403,1535.8 1403.50,1545.5 1403.75,1547.1 1407.50,1547.1 1407.75,1550.4 1408.25,1560.1 1411.75,1560.1 1412,1562.4 1412.50,1575.7 1412.75,1578.0 1419.25,1578.0 1419.50,1564.4 1420,1482.7 1420.25,1469.1 1420.75,1469.1 1421,1476.8 1421.50,1522.5 1421.75,1530.1 1424.75,1530.1 1425,1535.0 1425.50,1564.0 1425.75,1568.8 1437.25,1568.8 1437.50,1561.7 1438,1519.2 1438.25,1512.1 1442.75,1512.1 1443,1523.0 1443.50,1588.0 1443.75,1598.8 1450.75,1598.8 1451.25,1579.4 1451.50,1573.0 1455.25,1573.0 1455.50,1569.2 1456,1546.7 1456.25,1543.0 1459.50,1543.0 1459.75,1549.4 1460.25,1568.8 1464.50,1568.8 1464.75,1569.8 1465.25,1573.0 1472.25,1573.0 1472.50,1562.1 1473,1497.1 1473.25,1486.3 1473.75,1486.3 1474,1490.2 1474.50,1513.3 1474.75,1517.1 1477.75,1517.1 1478,1526.9 1478.50,1585.7 1478.75,1595.5 1485.25,1595.5 1485.50,1594.8 1486,1591.1 1486.25,1590.5 1490.25,1590.5 1490.50,1585.6 1491,1556.2 1491.25,1551.3 1494.25,1551.3 1494.50,1544.3 1495,1502.2 1495.25,1495.1 1499.75,1495.1 1500,1506.0 1500.50,1571.3 1500.75,1582.1 1507.25,1582.1 1507.50,1580.0 1508,1567.3 1508.25,1565.1 1508.50,1565.1 1508.75,1567.1 1509.25,1573.0 1516.25,1573.0 1516.50,1572.0 1517,1566.1 1517.25,1565.1 1521.25,1565.1 1521.50,1564.0 1522,1557.0 1522.25,1555.8 1525.75,1555.8 1526.25,1542.8 1526.50,1538.5 1530.50,1538.5 1530.75,1547.1 1531.25,1573.0 1538.75,1573.0 1539.25,1510.8 1539.50,1490.1 1543.25,1490.1 1543.50,1434.0 1544,1097.0 1544.25,1040.8 1544.75,1362.0 1545,1469.1 1551.25,1469.1 1551.50,1467.4 1552,1456.9 1552.25,1455.1 1556.75,1455.1 1557,1473.1 1557.50,1580.8 1557.75,1598.8 1564.75,1598.8 1565.25,1595.7 1565.50,1594.6 1569.25,1594.6 1569.50,1583.2 1570,1514.4 1570.25,1503.0 1574.75,1503.0 1575,1509.6 1575.50,1549.2 1575.75,1555.8 1582.25,1555.8 1582.50,1550.3 1583,1517.6 1583.25,1512.1 1587.75,1512.1 1588,1519.7 1588.50,1565.4 1588.75,1573.0 1596.25,1573.0 1596.50,1572.0 1597,1566.1 1597.25,1565.1 1604.25,1565.1 1604.50,1564.5 1605,1560.8 1605.25,1560.1 1605.75,1560.1 1606,1560.8 1606.50,1564.5 1606.75,1565.1 1613.75,1565.1 1614.25,1558.1 1614.50,1555.8 1618.25,1555.8 1618.50,1554.7 1619,1548.2 1619.25,1547.1 1622.75,1547.1 1623,1545.7 1623.50,1562.4 1623.75,1565.1 1627.75,1565.1 1628,1566.7 1628.50,1576.4 1628.75,1578.0 1635.25,1578.0 1635.50,1576.4 1636,1566.7 1636.25,1565.1 1640.25,1565.1 1640.50,1560.8 1641,1534.5 1641.25,1530.1 1644.25,1530.1 1644.50,1526.7 1645,1506.4 1645.25,1503.0 1649.75,1503.0 1650,1511.2 1650.50,1560.6 1650.75,1568.8 1662.25,1568.8 1662.50,1566.6 1662.75,1560.0 1663,1555.2 1663.50,1578.3 1663.75,1582.1 1670.25,1582.1 1670.50,1580.0 1671,1567.3 1671.25,1565.1 1675.25,1565.1 1675.50,1556.8 1676,1507.1 1676.25,1498.8 1679.25,1498.8 1679.50,1489.1 1680,1430.5 1680.25,1420.8 1684.75,1420.8 1685,1434.5 1685.50,1516.5 1685.75,1530.1 1688,1530.1 1688.25,1560.1 1693.50,1560.1 1693.75,1562.3 1694.25,1568.8 1697.75,1568.8 1698,1569.3 1698.50,1572.4 1698.75,1573.0 1706.25,1573.0 1706.50,1572.0 1707,1566.1 1707.25,1565.1 1714.75,1565.1 1715.25,1561.4 1715.50,1560.1 1719,1560.1 1719.25,1557.9 1719.75,1551.3 1723.25,1551.3 1723.50,1549.2 1724,1536.3 1724.25,1534.1 1728.25,1534.1 1728.50,1531.4 1729,1514.9 1729.25,1512.1 1732.75,1512.1 1733.25,1502.1 1733.50,1498.8 1734,1498.8 1734,1586.2 1730,1586.2 1729.75,1588.5 1729.25,1595.4 1725.75,1595.4 1725.50,1597.0 1725,1607.0 1724.75,1608.7 1720.75,1608.7 1720.50,1610.4 1720,1620.4 1719.75,1622.0 1715.50,1622.0 1715.25,1618.7 1714.75,1608.7 1707.75,1608.7 1707.50,1609.8 1707,1616.7 1706.75,1617.9 1703.75,1617.9 1703.50,1618.4 1703,1621.5 1702.75,1622.0 1702.25,1622.0 1702,1620.4 1701.50,1610.4 1701.25,1608.7 1691.75,1608.7 1691.50,1595.4 1685.75,1595.4 1685.50,1596.5 1685,1603.4 1684.75,1604.5 1676.75,1604.5 1676.50,1605.6 1676,1611.8 1675.75,1612.9 1667.25,1612.9 1667,1612.3 1666.50,1609.2 1666.25,1608.7 1663.25,1608.7 1663,1608.2 1662.50,1605.1 1662.25,1604.5 1655,1604.5 1654.75,1608.9 1654.25,1622.0 1654,1620.9 1653.50,1614.0 1653.25,1612.9 1649.75,1612.9 1649.25,1609.7 1649,1608.7 1641.75,1608.7 1641.50,1610.4 1641,1620.4 1640.75,1620.0 1640.50,1618.4 1640.25,1617.9 1632.75,1617.9 1632.50,1618.4 1632,1621.5 1631.50,1618.4 1631.25,1617.9 1619.25,1617.9 1619,1617.2 1618.50,1613.5 1618.25,1612.9 1611,1612.9 1610.75,1614.1 1610.25,1617.9 1610,1617.2 1609.50,1613.5 1609.25,1612.9 1601.75,1612.9 1601.50,1613.5 1601,1617.2 1600.75,1617.9 1593.75,1617.9 1593.50,1618.4 1593,1621.5 1592.75,1622.0 1587.75,1622.0 1587.25,1618.9 1587,1617.9 1575.75,1617.9 1575.50,1618.4 1575,1621.5 1574.75,1622.0 1566.75,1622.0 1566.50,1622.5 1566,1625.4 1565.75,1625.9 1562.75,1625.9 1562.50,1628.1 1562,1641.5 1561.75,1643.7 1561.25,1643.7 1561,1640.5 1560.50,1621.1 1560.25,1617.9 1557.25,1617.9 1557,1615.1 1556.50,1598.2 1556.25,1595.4 1548.75,1595.4 1548.50,1596.5 1548.25,1599.1 1547.75,1582.9 1540.75,1582.9 1540.50,1586.6 1540,1609.1 1539.75,1612.9 1536,1612.9 1535.75,1614.1 1535.25,1617.9 1530.50,1617.9 1530.25,1615.6 1529.75,1608.7 1523,1608.7 1522.75,1612.0 1522.25,1622.0 1496.25,1622.0 1495.75,1624.9 1495.50,1625.9 1491.75,1625.9 1491.50,1627.0 1491,1633.7 1490.75,1634.9 1486.25,1634.9 1486,1633.7 1485.50,1627.0 1485.25,1625.9 1482.25,1625.9 1482,1623.2 1481.50,1607.2 1481.25,1604.5 1478.25,1604.5 1478,1603.4 1477.50,1596.5 1477.25,1595.4 1469.75,1595.4 1469.50,1599.2 1469,1622.1 1468.75,1625.9 1464.50,1625.9 1464.25,1622.6 1463.75,1612.9 1456.75,1612.9 1456.50,1614.5 1456,1624.2 1455.75,1625.9 1451.50,1625.9 1451.25,1623.9 1450.75,1617.9 1447.25,1617.9 1447,1617.2 1446.50,1613.5 1446.25,1612.9 1434.75,1612.9 1434.50,1613.5 1434,1617.2 1433.75,1617.9 1429.25,1617.9 1429,1616.7 1428.50,1609.8 1428.25,1608.7 1421.75,1608.7 1421.50,1609.8 1421,1616.7 1420.75,1617.9 1412.75,1617.9 1412.50,1618.4 1412,1621.5 1411.75,1622.0 1407.25,1622.0 1407,1621.5 1406.50,1618.4 1406.25,1617.9 1398.50,1617.9 1398.25,1613.3 1397.75,1599.5 1390.75,1599.5 1390.50,1601.8 1390,1615.6 1389.75,1617.9 1386.25,1617.9 1385.75,1623.9 1385.50,1625.9 1382,1625.9 1381.75,1627.0 1381.25,1630.4 1379.75,1630.4 1379.50,1599.5 1372.25,1599.5 1371.75,1603.3 1371.50,1604.5 1368.25,1604.5 1367.75,1610.8 1367.50,1612.9 1363.25,1612.9 1363,1610.2 1362.50,1593.9 1362.25,1591.2 1355.75,1591.2 1355.50,1596.1 1355,1625.5 1354.75,1630.4 1350.25,1630.4 1350,1628.8 1349.50,1619.4 1349.25,1617.9 1345.25,1617.9 1345,1615.6 1344.50,1601.8 1344.25,1599.5 1337.25,1599.5 1336.75,1613.3 1336.50,1617.9 1333.75,1617.9 1333.50,1618.4 1333,1621.5 1332.75,1622.0 1328.75,1622.0 1328.50,1623.6 1328,1633.3 1327.75,1634.9 1327.25,1622.1 1327,1617.9 1323.50,1617.9 1323.25,1616.6 1322.75,1612.9 1315.75,1612.9 1315.50,1613.5 1315,1617.2 1314.75,1617.9 1311,1617.9 1310.75,1618.9 1310.25,1622.0 1306.25,1622.0 1306,1621.5 1305.50,1618.4 1305.25,1617.9 1301.25,1617.9 1301,1617.2 1300.50,1613.5 1300.25,1612.9 1296.75,1612.9 1296.25,1609.7 1296,1608.7 1288.50,1608.7 1288.25,1606.4 1287.75,1599.5 1280.75,1599.5 1280.50,1600.7 1280,1607.6 1279.75,1608.7 1275.25,1608.7 1274.75,1615.6 1274.50,1617.9 1267.75,1617.9 1267.50,1618.4 1267,1621.5 1266.75,1622.0 1262.75,1622.0 1262.50,1622.5 1262,1625.4 1261.50,1622.5 1261.25,1622.0 1253.25,1622.0 1253,1619.8 1252.50,1606.7 1252.25,1604.5 1245.75,1604.5 1245.50,1605.6 1245,1611.8 1244.75,1612.9 1244.25,1612.9 1244,1612.3 1243.50,1609.2 1243.25,1608.7 1236.25,1608.7 1235.75,1615.6 1235.50,1617.9 1227.25,1617.9 1226.75,1623.9 1226.50,1625.9 1222.50,1625.9 1222.25,1623.9 1221.75,1617.9 1218.50,1617.9 1218.25,1616.6 1217.75,1612.9 1209.25,1612.9 1208.75,1626.0 1208.50,1630.4 1205.25,1630.4 1205,1628.2 1204.50,1615.1 1204.25,1612.9 1200.25,1612.9 1200,1612.3 1199.50,1609.2 1199.25,1608.7 1192.25,1608.7 1191.75,1621.6 1191.50,1625.9 1187.25,1625.9 1187,1624.9 1186.50,1618.9 1186.25,1617.9 1174.75,1617.9 1174.50,1618.4 1174,1621.5 1173.50,1618.4 1173.25,1617.9 1169.25,1617.9 1169,1613.5 1168.50,1587.2 1168.25,1582.9 1161.75,1582.9 1161.50,1586.6 1161,1609.1 1160.75,1612.9 1156.25,1612.9 1156,1612.3 1155.50,1609.2 1155.25,1608.7 1143.25,1608.7 1142.75,1624.9 1142.50,1630.4 1138.25,1630.4 1138,1628.8 1137.50,1619.4 1137.25,1617.9 1134.25,1617.9 1134,1616.2 1133.50,1606.2 1133.25,1604.5 1126.25,1604.5 1125.75,1617.7 1125.50,1622.0 1121.75,1622.0 1121.50,1622.5 1121,1625.4 1120.75,1625.9 1117.75,1625.9 1117.50,1626.4 1117,1629.8 1116.75,1630.4 1116.25,1630.4 1116,1621.7 1115.50,1569.8 1115.25,1561.2 1108.75,1561.2 1108.50,1566.0 1108,1594.7 1107.75,1599.5 1104.25,1599.5 1103.75,1616.4 1103.50,1622.0 1103.25,1622.0 1103,1620.4 1102.50,1610.4 1102.25,1608.7 1095.25,1608.7 1094.75,1621.6 1094.50,1625.9 1086.75,1625.9 1086.50,1626.4 1086,1629.8 1085.75,1630.4 1077.25,1630.4 1077,1628.8 1076.50,1619.4 1076.25,1617.9 1067.75,1617.9 1067.50,1608.7 1060.25,1608.7 1059.75,1618.7 1059.50,1622.0 1055.25,1622.0 1055,1621.5 1054.50,1618.4 1054.25,1617.9 1038.25,1617.9 1037.75,1627.2 1037.50,1630.4 1037.25,1629.2 1036.75,1625.9 1033.25,1625.9 1033,1624.9 1032.50,1618.9 1032.25,1617.9 1020.75,1617.9 1020.50,1618.9 1020,1624.9 1019.50,1618.9 1019.25,1617.9 1015.25,1617.9 1015,1616.7 1014.50,1609.8 1014.25,1608.7 1007.25,1608.7 1006.75,1615.6 1006.50,1617.9 1006.25,1617.9 1006,1616.7 1005.50,1609.8 1005.25,1608.7 998.25,1608.7 997.75,1611.8 997.50,1612.9 993.25,1612.9 993,1610.7 992.50,1597.6 992.25,1595.4 985.25,1595.4 984.75,1608.5 984.50,1612.9 984.25,1612.9 984,1612.3 983.50,1609.2 983.25,1608.7 980.50,1608.7 980.25,1604.3 979.75,1591.2 975.75,1591.2 975.25,1587.4 975,1586.2 968,1586.2 967.75,1594.1 967.25,1617.9 967,1617.2 966.50,1613.5 966.25,1612.9 962.50,1612.9 962.25,1610.8 961.75,1604.5 945.75,1604.5 945.50,1608.3 945,1631.1 944.75,1634.9 940.50,1634.9 940.25,1631.7 939.75,1622.0 936.25,1622.0 936,1620.9 935.50,1614.0 935.25,1612.9 931.25,1612.9 931,1610.7 930.50,1597.6 930.25,1595.4 927.50,1595.4 927.25,1590.0 926.75,1573.7 919.75,1573.7 919.50,1577.6 919,1600.7 918.75,1604.5 914.75,1604.5 914.50,1606.2 914,1616.2 913.75,1617.9 913.25,1611.0 913,1608.7 901.75,1608.7 901.50,1609.8 901,1616.7 900.75,1617.9 896.50,1617.9 896.25,1611.2 895.75,1591.2 888.25,1591.2 887.75,1617.2 887.50,1625.9 883.25,1625.9 883,1625.4 882.50,1622.5 882.25,1622.0 879.50,1622.0 879.25,1621.0 878.75,1617.9 870.25,1617.9 870,1616.2 869.50,1606.2 869.25,1604.5 861.75,1604.5 861.50,1607.2 861,1623.2 860.75,1625.9 857.25,1625.9 857,1622.1 856.50,1599.2 856.25,1595.4 844.25,1595.4 843.75,1615.4 843.50,1622.0 839.25,1622.0 839,1618.7 838.50,1598.7 838.25,1595.4 831.25,1595.4 830.75,1608.5 830.50,1612.9 825.75,1612.9 825.25,1602.9 825,1599.5 817.25,1599.5 816.75,1619.3 816.50,1625.9 812.25,1625.9 812,1623.7 811.50,1610.8 811.25,1608.7 800.75,1608.7 800.50,1612.0 800,1631.6 799.75,1634.9 799.25,1634.9 799,1633.7 798.50,1627.0 798.25,1625.9 794.75,1625.9 794.25,1609.9 794,1604.5 786.25,1604.5 786,1603.4 785.50,1596.5 785.25,1595.4 778.25,1595.4 777.75,1598.5 777.50,1599.5 774,1599.5 773.75,1602.9 773.25,1612.9 769.75,1612.9 769.50,1613.5 769,1617.2 768.75,1617.9 768.50,1617.9 768.25,1616.6 767.75,1612.9 764.25,1612.9 764,1610.7 763.50,1597.6 763.25,1595.4 755.75,1595.4 755.50,1591.2 751.25,1591.2 751,1589.5 750.50,1579.5 750.25,1577.9 742.75,1577.9 742.50,1581.2 742,1601.2 741.75,1604.5 737.75,1604.5 737.25,1600.8 737,1599.5 729.75,1599.5 729.50,1600.2 729,1603.9 728.75,1604.5 716.75,1604.5 716.50,1606.7 716,1619.8 715.75,1617.5 715.50,1614.0 715.25,1612.9 708.25,1612.9 707.75,1616.6 707.50,1617.9 703.75,1617.9 703.50,1618.4 703,1621.5 702.75,1622.0 698.25,1622.0 698,1620.9 697.50,1614.0 697.25,1612.9 681.75,1612.9 681.50,1614.0 681,1620.9 680.75,1622.0 680.50,1622.0 680.25,1621.0 679.75,1617.9 667.25,1617.9 667,1617.2 666.50,1613.5 666.25,1612.9 654.75,1612.9 654.50,1614.5 654,1624.2 653.75,1625.9 650.25,1625.9 650,1624.9 649.50,1618.9 649.25,1617.9 645.50,1617.9 645.25,1615.6 644.75,1608.7 641.25,1608.7 641,1608.2 640.50,1605.1 640.25,1604.5 636.25,1604.5 636,1601.8 635.50,1585.6 635.25,1582.9 632.25,1582.9 632,1581.2 631.50,1571.2 631.25,1569.5 623.75,1569.5 623.50,1575.6 623,1611.8 622.75,1617.9 610.75,1617.9 610.50,1619.4 610,1628.8 609.75,1630.4 605.50,1630.4 605.25,1625.0 604.75,1608.7 597.75,1608.7 597.50,1610.4 597,1620.4 596.75,1622.0 596.25,1612.0 596,1608.7 584.25,1608.7 583.75,1621.6 583.50,1625.9 579.75,1625.9 579.50,1626.4 579,1629.8 578.50,1626.4 578.25,1625.9 574.75,1625.9 574.25,1623.0 574,1622.0 566.25,1622.0 566,1615.5 565.50,1576.1 565.25,1569.5 557.75,1569.5 557.50,1576.1 557,1615.5 556.75,1622.0 553.75,1622.0 553.50,1623.6 553,1633.0 552.75,1634.5 548.25,1634.5 548,1632.4 547.50,1620.0 547.25,1617.9 540.25,1617.9 539.75,1621.0 539.50,1622.0 535.25,1622.0 535,1621.5 534.50,1618.4 534.25,1617.9 527.75,1617.9 527.50,1618.4 527,1621.5 526.75,1622.0 522.25,1622.0 522,1620.4 521.50,1610.4 521.25,1608.7 513.75,1608.7 513.50,1610.8 513,1623.7 512.75,1625.9 508.75,1625.9 508.25,1613.0 508,1608.7 496.25,1608.7 495.75,1621.6 495.50,1625.9 495.25,1623.9 494.75,1617.9 491.25,1617.9 491,1615.6 490.50,1601.8 490.25,1599.5 487.25,1599.5 487,1596.3 486.50,1576.9 486.25,1573.7 482.25,1573.7 482,1572.1 481.50,1562.8 481.25,1561.2 474.75,1561.2 474.50,1566.0 474,1594.7 473.75,1599.5 465.75,1599.5 465.50,1601.8 465,1615.6 464.75,1617.9 460.25,1617.9 460,1615.6 459.50,1601.8 459.25,1599.5 456.25,1599.5 456,1598.4 455.50,1591.5 455.25,1590.4 447.75,1590.4 447.50,1592.1 447,1602.8 446.75,1604.5 444,1604.5 443.75,1607.9 443.25,1617.9 438.25,1617.9 438,1614.5 437.50,1594.5 437.25,1591.2 433.75,1591.2 433.25,1568.7 433,1561.2 426,1561.2 425.75,1570.0 425.25,1596.2 421.75,1596.2 421.50,1598.3 421,1610.8 420.75,1612.9 420.25,1612.9 420,1605.3 419.50,1559.6 419.25,1552.0 412.25,1552.0 411.75,1610.8 411.50,1628.8 411.25,1627.2 411,1626.2 407.25,1626.2 407,1625.2 406.50,1618.9 406.25,1617.9 402.75,1617.9 402.25,1614.1 402,1612.9 398.25,1612.9 398,1612.3 397.50,1609.2 397.25,1608.7 390.75,1608.7 390.50,1609.8 390,1616.7 389.75,1617.9 385.25,1617.9 385,1617.2 384.50,1613.5 384.25,1612.9 377.75,1612.9 377.50,1615.1 377,1628.2 376.75,1630.4 376.50,1630.4 376.25,1628.3 375.75,1622.0 369,1622.0 368.75,1623.1 368.25,1626.2 368,1625.2 367.50,1618.9 367.25,1617.9 360,1617.9 359.75,1621.0 359.25,1630.4 359,1629.8 358.50,1626.7 358.25,1626.2 355.25,1626.2 355,1625.7 354.50,1622.6 354.25,1622.0 350.25,1622.0 350,1620.9 349.50,1614.0 349.25,1612.9 342.75,1612.9 342.50,1615.6 342,1631.8 341.75,1634.5 337.25,1634.5 337,1633.0 336.50,1623.6 336.25,1622.0 328.75,1622.0 328.50,1623.6 328,1633.0 327.75,1634.5 324.25,1634.5 323.50,1619.5 323.25,1617.9 311.75,1617.9 311.50,1618.3 310.75,1622.0 306.25,1622.0 306,1621.5 305.50,1618.4 305.25,1617.9 285,1617.9 284.75,1619.5 284.25,1624.5 284,1625.0 283.50,1622.5 283.25,1622.0 279.75,1622.0 279.25,1618.3 279,1617.0 272,1617.0 271.75,1618.3 271.25,1622.0 267.50,1622.0 267.25,1623.9 266.75,1629.4 266.50,1631.2 266.25,1631.2 266,1629.5 265.50,1619.5 265.25,1617.9 257.75,1617.9 257.50,1617.0 256.75,1608.7 253.25,1608.7 253,1607.3 252.75,1603.1 252.50,1600.4 245.75,1600.4 245,1619.9 244.75,1622.0 231.25,1622.0 231,1620.9 230.50,1614.0 230.25,1612.9 223.75,1612.9 223.50,1614.5 223,1624.5 222.75,1626.2 219.25,1626.2 219,1626.6 218.50,1629.1 218.25,1628.7 217.75,1623.7 217.50,1622.0 213.50,1622.0 213.25,1619.4 212.75,1611.4 212.50,1608.7 209.25,1608.7 208.50,1589.2 208.25,1587.0 196.75,1587.0 196.50,1591.4 195.75,1631.2 191.50,1631.2 191.25,1628.1 191,1623.6 190.75,1622.0 184.25,1622.0 184,1622.5 183.25,1626.2 169.25,1626.2 168.50,1591.0 168.25,1587.0 157.50,1587.0 157.25,1588.9 156.75,1594.4 156.50,1596.2 152.25,1596.2 152,1595.1 151.50,1588.2 151.25,1587.0 143.75,1587.0 143.50,1591.9 143,1621.3 142.75,1626.2 140,1626.2"/>
<rect x="1542" y="1037" width="4.3" height="505" fill="#141414"/>
<rect x="921" y="1314" width="4.3" height="230" fill="#141414"/>
<rect x="1123.3" y="1310" width="4.3" height="234" fill="#141414"/>
<rect x="1542" y="1037" width="4.3" height="16" fill="#555"/>
<rect x="1460.2" y="1052.2" width="224.6" height="91.6" fill="#fff" stroke="#404040" stroke-width="4.4"/>
<rect x="1472" y="1094.2" width="152" height="7.6" fill="#777"/>
</g>
<g font-family="'Liberation Sans', Arial, Helvetica, sans-serif" font-size="48" fill="#262626" stroke="#262626" stroke-width="0.7" stroke-linejoin="round">
<text x="123" y="86.5" text-anchor="end">4</text>
<text x="123" y="255" text-anchor="end">3</text>
<text x="123" y="426.5" text-anchor="end">2</text>
<text x="123" y="598" text-anchor="end">1</text>
<text x="123" y="773.5" text-anchor="end">0</text>
<text x="143" y="63.9" font-size="60">×</text>
<text x="184" y="52.3" font-size="48">10</text>
<text x="239" y="30" font-size="36">-3</text>
<text x="142" y="821" text-anchor="middle" letter-spacing="0.45">23-Feb-2005</text>
<text x="666.5" y="821" text-anchor="middle" letter-spacing="0.45">20-Oct-2010</text>
<text x="1195" y="821" text-anchor="middle" letter-spacing="0.45">15-Jun-2016</text>
<text x="1721" y="821" text-anchor="middle" letter-spacing="0.45">09-Feb-2022</text>
<text x="120.5" y="1024" text-anchor="end" letter-spacing="0.7">3.5</text>
<text x="120.5" y="1142.5" text-anchor="end" letter-spacing="0.7">3</text>
<text x="120.5" y="1258.5" text-anchor="end" letter-spacing="0.7">2.5</text>
<text x="120.5" y="1375" text-anchor="end" letter-spacing="0.7">2</text>
<text x="120.5" y="1492" text-anchor="end" letter-spacing="0.7">1.5</text>
<text x="120.5" y="1608.5" text-anchor="end" letter-spacing="0.7">1</text>
<text x="120.5" y="1727.5" text-anchor="end" letter-spacing="0.7">0.5</text>
<text x="139" y="1773.5" text-anchor="middle" letter-spacing="0.45">23-Feb-2005</text>
<text x="667" y="1773.5" text-anchor="middle" letter-spacing="0.45">20-Oct-2010</text>
<text x="1199.5" y="1773.5" text-anchor="middle" letter-spacing="0.45">15-Jun-2016</text>
<text x="1730" y="1773.5" text-anchor="middle" letter-spacing="0.45">09-Feb-2022</text>
<text x="1624" y="164.5" font-size="46" fill="#111">h</text>
<text x="1646.2" y="191.5" font-size="45" fill="#4a4a4a" textLength="10" lengthAdjust="spacingAndGlyphs">t</text>
<text transform="translate(1620.5 247.5) scale(1.5 1)" font-size="46" fill="#111" stroke="none">τ</text>
<text x="1642.2" y="269.5" font-size="45" fill="#4a4a4a" textLength="10" lengthAdjust="spacingAndGlyphs">t</text>
<text x="1632.5" y="1108.5" font-size="52" fill="#111">g</text>
<text x="1655.2" y="1132" font-size="44" fill="#4a4a4a" textLength="10" lengthAdjust="spacingAndGlyphs">t</text>
</g>
<g font-family="'Liberation Serif', 'Noto Serif CJK SC', 'Times New Roman', serif" font-size="66.4" fill="#000" stroke="#000" stroke-width="0.45" stroke-linejoin="round">
<text x="386" y="919.5">(a) <tspan dy="3.5">上证</tspan><tspan dy="-3.5" letter-spacing="0.7">50ETF</tspan><tspan dy="3.5">条件方差及其长期成分</tspan></text>
<text x="418" y="1866">(b) <tspan dy="3.5">上证</tspan><tspan dy="-3.5" letter-spacing="0.7">50ETF</tspan><tspan dy="3.5">条件方差的短期成分</tspan></text>
</g>
</svg>
</body></html>
